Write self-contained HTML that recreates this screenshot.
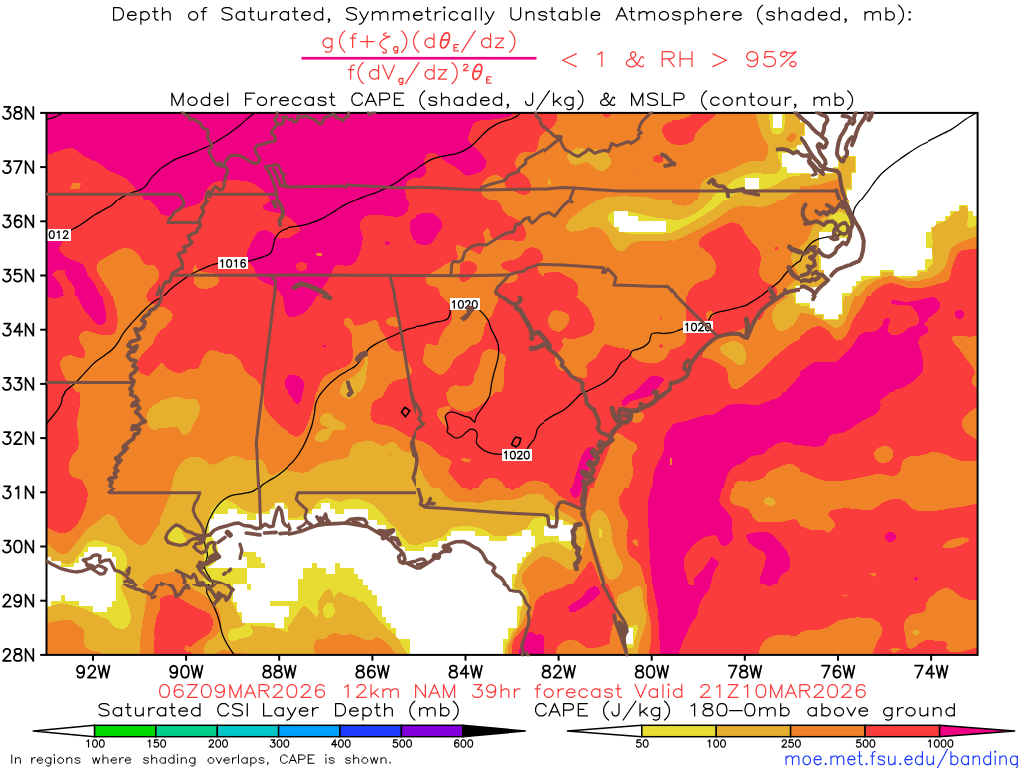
<!DOCTYPE html>
<html><head><meta charset="utf-8"><title>CSI / CAPE banding</title>
<style>html,body{margin:0;padding:0;background:#fff;width:1024px;height:768px;overflow:hidden;font-family:"Liberation Sans",sans-serif}</style></head>
<body>
<svg width="1024" height="768" viewBox="0 0 1024 768" style="position:absolute;left:0;top:0">
<defs><clipPath id="mc"><rect x="46.5" y="112.9" width="931.1" height="542.0"/></clipPath></defs>
<g clip-path="url(#mc)">
<rect x="40" y="100" width="950" height="570" fill="#fa3c3c"/>
<defs><clipPath id="t0"><rect x="32" y="104" width="128" height="96"/></clipPath><clipPath id="t1"><rect x="160" y="104" width="128" height="96"/></clipPath><clipPath id="t2"><rect x="288" y="104" width="128" height="96"/></clipPath><clipPath id="t3"><rect x="416" y="104" width="128" height="96"/></clipPath><clipPath id="t4"><rect x="544" y="104" width="128" height="96"/></clipPath><clipPath id="t5"><rect x="672" y="104" width="128" height="96"/></clipPath><clipPath id="t6"><rect x="800" y="104" width="128" height="96"/></clipPath><clipPath id="t7"><rect x="928" y="104" width="96" height="96"/></clipPath><clipPath id="t8"><rect x="32" y="200" width="128" height="96"/></clipPath><clipPath id="t9"><rect x="160" y="200" width="128" height="96"/></clipPath><clipPath id="t10"><rect x="288" y="200" width="128" height="96"/></clipPath><clipPath id="t11"><rect x="416" y="200" width="128" height="96"/></clipPath><clipPath id="t12"><rect x="544" y="200" width="128" height="96"/></clipPath><clipPath id="t13"><rect x="672" y="200" width="128" height="96"/></clipPath><clipPath id="t14"><rect x="800" y="200" width="128" height="96"/></clipPath><clipPath id="t15"><rect x="928" y="200" width="96" height="96"/></clipPath><clipPath id="t16"><rect x="32" y="296" width="128" height="96"/></clipPath><clipPath id="t17"><rect x="160" y="296" width="128" height="96"/></clipPath><clipPath id="t18"><rect x="288" y="296" width="128" height="96"/></clipPath><clipPath id="t19"><rect x="416" y="296" width="128" height="96"/></clipPath><clipPath id="t20"><rect x="544" y="296" width="128" height="96"/></clipPath><clipPath id="t21"><rect x="672" y="296" width="128" height="96"/></clipPath><clipPath id="t22"><rect x="800" y="296" width="128" height="96"/></clipPath><clipPath id="t23"><rect x="928" y="296" width="96" height="96"/></clipPath><clipPath id="t24"><rect x="32" y="392" width="128" height="96"/></clipPath><clipPath id="t25"><rect x="160" y="392" width="128" height="96"/></clipPath><clipPath id="t26"><rect x="288" y="392" width="128" height="96"/></clipPath><clipPath id="t27"><rect x="416" y="392" width="128" height="96"/></clipPath><clipPath id="t28"><rect x="544" y="392" width="128" height="96"/></clipPath><clipPath id="t29"><rect x="672" y="392" width="128" height="96"/></clipPath><clipPath id="t30"><rect x="800" y="392" width="128" height="96"/></clipPath><clipPath id="t31"><rect x="928" y="392" width="96" height="96"/></clipPath><clipPath id="t32"><rect x="32" y="488" width="128" height="96"/></clipPath><clipPath id="t33"><rect x="160" y="488" width="128" height="96"/></clipPath><clipPath id="t34"><rect x="288" y="488" width="128" height="96"/></clipPath><clipPath id="t35"><rect x="416" y="488" width="128" height="96"/></clipPath><clipPath id="t36"><rect x="544" y="488" width="128" height="96"/></clipPath><clipPath id="t37"><rect x="672" y="488" width="128" height="96"/></clipPath><clipPath id="t38"><rect x="800" y="488" width="128" height="96"/></clipPath><clipPath id="t39"><rect x="928" y="488" width="96" height="96"/></clipPath><clipPath id="t40"><rect x="32" y="584" width="128" height="96"/></clipPath><clipPath id="t41"><rect x="160" y="584" width="128" height="96"/></clipPath><clipPath id="t42"><rect x="288" y="584" width="128" height="96"/></clipPath><clipPath id="t43"><rect x="416" y="584" width="128" height="96"/></clipPath><clipPath id="t44"><rect x="544" y="584" width="128" height="96"/></clipPath><clipPath id="t45"><rect x="672" y="584" width="128" height="96"/></clipPath><clipPath id="t46"><rect x="800" y="584" width="128" height="96"/></clipPath><clipPath id="t47"><rect x="928" y="584" width="96" height="96"/></clipPath></defs>
<g clip-path="url(#t0)" shape-rendering="crispEdges">
<rect x="32" y="104" width="128" height="96" fill="#f00082"/>
<path fill="#fa3c3c" d="M39.5 155.2C41.2 155.2 42.4 155.6 44.5 155.2C46.6 154.9 49.3 154.2 52 153.4C54.7 152.5 57.8 151.1 60.8 150.2C63.7 149.4 67.2 148.2 69.5 148C71.8 147.8 72.4 147.9 74.5 149C76.6 150.1 79.5 153 82 154.6C84.5 156.3 87 157.8 89.5 159C92 160.2 94.9 161.1 97 162.1C99.1 163.2 100.1 163.9 102 165.2C103.9 166.6 105.8 168.8 108.2 170.2C110.8 171.7 114.3 172.8 117 174C119.7 175.2 122.2 176.3 124.5 177.8C126.8 179.2 128.9 180.9 130.8 182.8C132.6 184.6 134.1 186.9 135.8 189C137.4 191.1 139.3 193.4 140.8 195.2C142.2 197.1 143.2 198.3 144.5 200C145.8 201.7 147 203.5 148.2 205.2L39.5 205.2L39.5 155.2Z"/>
<path fill="#f08228" d="M72 183.4L81 183.4L79.2 188.8L70.1 188.8Z"/>
</g>
<g clip-path="url(#t1)" shape-rendering="crispEdges">
<rect x="160" y="104" width="128" height="96" fill="#f00082"/>
<path fill="#fa3c3c" d="M202.5 202.8C202.9 200.7 203.1 198.6 203.8 196.5C204.4 194.4 205.2 192.1 206.2 190.2C207.3 188.4 208.5 186.6 210 185.2C211.5 183.9 212.9 182.9 215 182.1C217.1 181.3 219.2 180.8 222.5 180.5C225.8 180.2 230.8 180.1 235 180.2C239.2 180.4 244.2 180.8 247.5 181.5C250.8 182.2 252.7 183.4 255 184.6C257.3 185.9 259.4 187.4 261.2 189C263.1 190.6 264.8 192.2 266.2 194C267.7 195.8 269.2 198.3 270 200C270.8 201.7 270.8 202.7 271.2 204L202.5 202.8Z"/>
</g>
<g clip-path="url(#t2)" shape-rendering="crispEdges">
<rect x="288" y="104" width="128" height="96" fill="#f00082"/>
<path fill="#fa3c3c" d="M418 177.8C415.9 178 413.5 177.8 411.8 178.4C410 179 408.4 180.1 407.4 181.5C406.3 182.9 405.8 184.6 405.5 186.5C405.2 188.4 405.3 190.5 405.5 192.8C405.7 195 406.3 198.1 406.8 200C407.2 201.9 407.6 202.7 408 204L418 204L418 177.8Z"/>
</g>
<g clip-path="url(#t3)" shape-rendering="crispEdges">
<rect x="416" y="104" width="128" height="96" fill="#fa3c3c"/>
<path fill="#f00082" d="M413.5 109L516 109C515.2 110.6 514.8 112.5 513.5 113.8C512.2 115 510.6 115.7 508.5 116.5C506.4 117.3 503.9 117.9 501 118.4C498.1 118.9 494.3 119.3 491 119.6C487.7 119.9 483.7 119.7 481 120.2C478.3 120.8 476.4 121.3 474.8 122.8C473.1 124.2 472 126.7 471 129C470 131.3 468.8 134.4 468.5 136.5C468.2 138.6 468.3 139.8 469.1 141.5C470 143.2 471.9 144.9 473.5 146.5C475.1 148.1 476.8 149.2 478.5 150.9C480.2 152.5 482.2 154.7 483.5 156.5C484.8 158.3 485.8 159.6 486 161.5C486.2 163.4 485.8 166 484.8 167.8C483.7 169.5 481.8 171 479.8 172.1C477.7 173.3 474.5 174.1 472.2 174.6C470 175.2 467.9 176 466 175.5C464.1 175 462.9 173 461 171.5C459.1 170 457 168 454.8 166.5C452.5 165 449.5 164.2 447.2 162.8C445 161.3 442.9 159.2 441 157.8C439.1 156.3 437.7 154.8 436 154C434.3 153.2 432.6 152.5 431 152.8C429.4 153 427.8 154 426.6 155.2C425.5 156.5 424.3 158.4 424.1 160.2C423.9 162.1 425.1 164.5 425.4 166.5C425.7 168.5 426.3 170.6 426 172.1C425.7 173.7 424.5 174.9 423.5 175.9C422.5 176.8 421 177.5 419.8 177.8C418.5 178 417 177.5 416 177.5C415 177.5 414.3 177.5 413.5 177.5L413.5 109Z"/>
<path fill="#f08228" d="M546 132.8C544.8 133.2 543.4 133 542.2 134C541.1 135 539.9 137.1 539.1 139C538.4 140.9 538.4 143.3 537.9 145.2C537.4 147.2 537.1 149.7 536 150.9C534.9 152.1 533.1 152.3 531 152.5C528.9 152.7 525.6 151.7 523.5 152.1C521.4 152.6 519.9 153.8 518.5 155.2C517.1 156.7 515.8 159 515.4 160.9C515 162.8 515.4 164.7 516 166.5C516.6 168.3 517.7 170 519.1 171.5C520.6 173 523.1 173.8 524.8 175.2C526.4 176.7 528.1 178.4 529.1 180.2C530.2 182.1 530.8 184.6 531 186.5C531.2 188.4 531 190.2 530.4 191.5C529.8 192.8 528.6 193.7 527.2 194.2C525.9 194.8 524.1 195 522.2 194.6C520.4 194.3 518.1 192.9 516 192.1C513.9 191.4 511.4 191.1 509.8 190.2C508.1 189.4 506.9 188.4 506 187.1C505.1 185.9 504.9 184.1 504.5 182.8C504.1 181.4 504.3 180.1 503.5 179C502.7 177.9 501.2 176.9 499.8 176.2C498.3 175.6 496.4 175 494.8 175C493.1 175 491.4 175.6 489.8 176.5C488.1 177.4 486 178.8 484.8 180.2C483.5 181.7 482.6 183.4 482 185.2C481.4 187.1 480.8 189.6 481 191.5C481.2 193.4 482 195.1 483.5 196.5C485 197.9 488.1 198.8 489.8 200C491.4 201.2 492.2 202.7 493.5 204L546 204L546 132.8Z"/>
</g>
<g clip-path="url(#t4)" shape-rendering="crispEdges">
<rect x="544" y="104" width="128" height="96" fill="#f08228"/>
<path fill="#fa3c3c" d="M541.5 110.2L557.8 110.2C557.5 112.8 557.4 115.7 557.1 117.8C556.8 119.8 556.6 121.2 555.9 122.8C555.1 124.3 553.9 126 552.8 127.1C551.6 128.3 550.2 128.8 549 129.6C547.8 130.5 546.5 131.5 545.2 132.1C544 132.8 542.8 133 541.5 133.4L541.5 110.2Z"/>
<path fill="#fa3c3c" d="M602.1 110.2L611.5 110.2C611.1 112.1 611.1 114.7 610.2 115.9C609.4 117.1 607.6 117.5 606.5 117.5C605.4 117.5 604.1 117.1 603.4 115.9C602.6 114.7 602.5 112.1 602.1 110.2Z"/>
<path fill="#fa3c3c" d="M674 121.5C672.3 121.7 670.7 121.5 669 122.1C667.3 122.8 665.1 123.9 664 125.2C662.9 126.6 662.2 128.6 662.1 130.2C662 131.9 662.6 133.7 663.4 135.2C664.1 136.8 665.4 138.4 666.5 139.6C667.6 140.9 669 141.8 670.2 142.8C671.5 143.7 672.8 144.4 674 145.2L674 121.5Z"/>
<path fill="#fa3c3c" d="M652.8 159C652.8 158 654.1 156.5 655.2 155.9C656.4 155.2 658.4 154.8 659.6 155C660.9 155.2 662.1 156.1 662.8 157.1C663.4 158.1 663.8 160 663.4 160.9C663 161.8 661.6 162.3 660.2 162.5C658.9 162.7 656.5 162.7 655.2 162.1C654 161.5 652.8 160 652.8 159Z"/>
<path fill="#fa3c3c" d="M636.8 172L637.8 172L637.8 173L636.8 173Z"/>
<path fill="#e6af2d" d="M567.1 156.5C567.1 154.8 568.3 153.4 569.6 152.1C571 150.8 573.3 149.4 575.2 148.8C577.2 148.1 579.6 147.9 581.5 148C583.4 148.1 584.8 149.2 586.5 149.6C588.2 150 589.8 150.6 591.5 150.5C593.2 150.4 594.6 149.2 596.5 149.2C598.4 149.3 600.9 150 602.8 150.9C604.6 151.8 606.4 153.1 607.8 154.6C609.1 156.2 610.6 158.4 610.9 160.2C611.2 162.1 610.5 164.3 609.6 165.9C608.8 167.4 607.4 168.8 605.9 169.6C604.3 170.5 602 171.1 600.2 170.9C598.5 170.7 596.8 169.4 595.2 168.4C593.7 167.3 592.3 165.7 590.9 164.6C589.4 163.6 588.3 162.2 586.5 162.1C584.7 162 582.3 163.6 580.2 164C578.2 164.4 575.8 164.9 574 164.6C572.2 164.3 570.8 163.5 569.6 162.1C568.5 160.8 567.1 158.2 567.1 156.5Z"/>
<path fill="#e6af2d" d="M548.4 179C548.7 178.3 549.8 179 550.2 179.6C550.7 180.2 551 181.9 550.9 182.8C550.8 183.6 550.1 184.8 549.6 185C549.2 185.2 548.3 185 548.1 184C547.9 183 548 179.7 548.4 179Z"/>
<path fill="#e6af2d" d="M599 202.8C600.2 201.3 600.7 199.4 602.8 198.4C604.8 197.4 607.1 197.1 611.5 196.8C615.9 196.4 623.6 196.4 629 196.5C634.4 196.6 639.8 196.7 644 197.1C648.2 197.5 651.9 198.1 654 199C656.1 199.9 655.7 201.5 656.5 202.8L599 202.8Z"/>
</g>
<g clip-path="url(#t5)" shape-rendering="crispEdges">
<rect x="672" y="104" width="128" height="96" fill="#f08228"/>
<path fill="#fa3c3c" d="M669.5 120.2C672.8 120 676.8 120 679.5 119.6C682.2 119.2 683.7 118.6 685.8 117.8C687.8 116.9 690.1 115.9 692 114.6C693.9 113.4 695.3 111.7 697 110.2L718.2 110.2C717 112.1 716 114.2 714.5 115.9C713 117.5 711.4 118.7 709.5 120.2C707.6 121.8 705.1 123.6 703.2 125.2C701.4 126.9 699.6 128.6 698.2 130.2C696.9 131.9 696 133.6 695.1 135.2C694.3 136.9 694.4 138.9 693.2 140.2C692.1 141.6 690.1 142.5 688.2 143.4C686.4 144.2 684.1 145 682 145.2C679.9 145.5 677.8 144.9 675.8 144.6C673.7 144.3 671.6 143.8 669.5 143.4L669.5 120.2Z"/>
<path fill="#e6af2d" d="M755.8 110.2C756 112.3 756 114.2 756.4 116.5C756.8 118.8 757.5 121.5 758.2 124C759 126.5 759.9 129.2 760.8 131.5C761.6 133.8 762.3 135.9 763.2 137.8C764.2 139.6 765.5 141.1 766.4 142.8C767.2 144.4 768 145.9 768.2 147.8C768.5 149.6 768 152.1 767.6 154C767.2 155.9 766.5 157.8 765.8 159C765 160.2 764.7 161.2 763.2 161.5C761.8 161.8 759.3 160.9 757 160.9C754.7 160.9 752 161 749.5 161.5C747 162 744.5 163 742 164C739.5 165 737 166.5 734.5 167.8C732 169 729.5 170.5 727 171.5C724.5 172.5 722 173.3 719.5 174C717 174.7 714.3 175 712 175.9C709.7 176.7 707.4 177.9 705.8 179C704.1 180.1 702.9 181.3 702 182.8C701.1 184.2 700.6 185.9 700.1 187.8C699.6 189.6 699.3 191.5 698.9 194C698.5 196.5 698 199.8 697.6 202.8L802 202.8L802 110.2L755.8 110.2Z"/>
<path fill="#f08228" d="M786.4 139.6C786.5 138.6 787.8 136.4 788.9 135.2C789.9 134.1 791.5 133.1 792.6 133C793.8 132.9 795.3 133.6 795.8 134.6C796.2 135.6 795.8 137.9 795.1 139C794.5 140.1 793.1 141.1 792 141.5C790.9 141.9 789.2 141.6 788.2 141.2C787.3 140.9 786.3 140.6 786.4 139.6Z"/>
<path fill="#f08228" d="M782 202.8C783.7 200.7 784.9 198.1 787 196.5C789.1 194.9 792 194.1 794.5 193.4C797 192.6 799.5 192.5 802 192.1L802 202.8L782 202.8Z"/>
<path fill="#e6dc32" d="M768.9 110.2C769.1 113.6 769.2 117.1 769.5 120.2C769.8 123.4 770.1 126.8 770.8 129C771.4 131.2 772 132.4 773.2 133.4C774.5 134.3 776.7 134.8 778.2 134.6C779.8 134.4 781.6 133.7 782.6 132.1C783.7 130.6 784.1 127.9 784.5 125.2C784.9 122.6 784.9 119 785.1 116.5C785.3 114 785.5 112.3 785.8 110.2L768.9 110.2Z"/>
<path fill="#e6dc32" d="M712 202.8C712.2 200.9 712 198.7 712.6 197.1C713.2 195.6 714.2 194.5 715.8 193.4C717.3 192.2 720.1 191.4 722 190.2C723.9 189.1 725.3 188 727 186.5C728.7 185 730.1 183 732 181.5C733.9 180 735.8 178.9 738.2 177.8C740.8 176.6 744.1 175.5 747 174.6C749.9 173.8 752.8 172.9 755.8 172.8C758.7 172.6 761.8 173.8 764.5 174C767.2 174.2 769.7 174.3 772 174C774.3 173.7 776.8 173.4 778.2 172.1C779.7 170.9 780.4 168.3 780.8 166.5C781.1 164.7 780.6 163.4 780.1 161.5C779.6 159.6 777.9 156.9 777.6 155.2C777.3 153.6 777.5 152.4 778.2 151.5C779 150.6 778 150.5 782 149.6C786 148.8 795.3 147.5 802 146.5L802 175.9C798.7 176.1 794.9 176 792 176.5C789.1 177 786.8 177.9 784.5 179C782.2 180.1 780.5 182 778.2 183.4C776 184.7 773.2 186.2 770.8 187.1C768.2 188.1 765.1 188.4 763.2 189C761.4 189.6 762.2 190.1 759.5 190.5C756.8 190.9 750.8 191 747 191.5C743.2 192 739.7 192.5 737 193.4C734.3 194.2 732.2 194.9 730.8 196.5C729.3 198.1 729.1 200.7 728.2 202.8L712 202.8Z"/>
<path fill="#ffffff" d="M772.6 114L782 114L782 128.4L772.6 128.4Z"/>
<path fill="#ffffff" d="M745.1 178L758.9 178L758.9 189L745.1 189Z"/>
<path fill="#ffffff" d="M797 145.2L802 145.2L802 172.8L787 172.8L787 166.5L782 166.5L782 152.8L797 152.8Z"/>
</g>
<g clip-path="url(#t6)" shape-rendering="crispEdges">
<rect x="800" y="104" width="128" height="96" fill="#ffffff"/>
<path fill="#e6dc32" d="M797.5 172.5L809.8 172.5L809.8 177.8L819 177.8L819 173L833.1 173L833.1 167.1L837.5 167.1L837.5 155.9L856.2 155.9L856.2 172.8L852.2 172.8L852.2 189.6L846.9 189.6L846.9 202.8L797.5 202.8Z"/>
<path fill="#e6af2d" d="M797.5 173.8L810.6 173.8L810.6 178.8L818.1 178.8L818.1 174L834.4 174L834.4 168L838.5 168L838.5 157.1L855 157.1L855 171.5L851.2 171.5L851.2 188.4L846 188.4L846 202.8L797.5 202.8Z"/>
<path fill="#e6dc32" d="M797.5 121.8L805.2 121.8L805.2 135.9L801.9 135.9L801.9 144.6L797.5 144.6Z"/>
<path fill="#e6af2d" d="M797.5 122.8L804.4 122.8L804.4 135L801 135L801 143.8L797.5 143.8Z"/>
<path fill="#f08228" d="M797.5 186.5C800.8 186.3 804.4 186.1 807.5 185.9C810.6 185.6 813.3 185.5 816.2 185C819.2 184.5 822.3 183.8 825 183C827.7 182.2 830.2 181.1 832.5 180.5C834.8 179.9 837.2 179 838.8 179.6C840.3 180.2 840.9 182.2 841.9 184C842.8 185.8 843.5 188.2 844.4 190.2C845.2 192.3 846.2 194.4 846.9 196.5C847.5 198.6 847.7 200.7 848.1 202.8L797.5 202.8L797.5 186.5Z"/>
</g>
<g clip-path="url(#t7)" shape-rendering="crispEdges">
<rect x="928" y="104" width="96" height="96" fill="#ffffff"/>
</g>
<g clip-path="url(#t8)" shape-rendering="crispEdges">
<rect x="32" y="200" width="128" height="96" fill="#fa3c3c"/>
<path fill="#f00082" d="M147 197.5C148.2 198.8 149.4 200 150.8 201.2C152.1 202.5 153.9 203.6 155.1 205C156.4 206.4 157.1 208.1 158.2 209.4C159.4 210.6 160.8 211.5 162 212.5L162 197.5L147 197.5Z"/>
<path fill="#f00082" d="M39.5 240L62.6 240C62.2 241 62 241.8 61.4 243.1C60.8 244.5 58.9 246.5 58.9 248.1C58.9 249.8 60.2 251.7 61.4 253.1C62.5 254.6 64 255.7 65.8 256.9C67.5 258 69.9 259.2 72 260C74.1 260.8 76.4 261 78.2 261.9C80.1 262.7 82 263.6 83.2 265C84.5 266.4 85 268.3 85.8 270C86.5 271.7 86.8 273.5 87.6 275C88.5 276.5 89.6 277.3 90.8 278.8C91.9 280.2 93.5 282.1 94.5 283.8C95.5 285.4 96.2 287.1 97 288.8C97.8 290.4 98.7 291.9 99.5 293.8C100.3 295.6 101.2 297.9 102 300L39.5 300L39.5 240Z"/>
<path fill="#fa3c3c" d="M52 275C52 274 53.8 272.1 55.1 271.2C56.5 270.4 58.5 270.2 60.1 270C61.8 269.8 64.2 269.4 65.1 270.2C66 271.1 65 273.5 65.5 275C66 276.5 67.2 277.9 68.2 279.4C69.3 280.8 71 282.2 72 283.8C73 285.3 74 286.9 74.5 288.8C75 290.6 74.9 293.1 75.1 295C75.3 296.9 75.5 298.3 75.8 300L63.9 300C63.7 297.5 63.6 294.6 63.2 292.5C62.9 290.4 62.7 289.2 62 287.5C61.3 285.8 60 284.2 58.9 282.5C57.7 280.8 56.3 278.8 55.1 277.5C54 276.2 52 276 52 275Z"/>
<path fill="#f08228" d="M96.4 268.1C96.2 265.8 96.9 264.2 98.2 262.5C99.6 260.8 102.2 259.6 104.5 258.1C106.8 256.7 109.5 255.2 112 253.8C114.5 252.3 117 250.3 119.5 249.4C122 248.4 124.5 247.9 127 248.1C129.5 248.3 132.4 249.3 134.5 250.6C136.6 252 138 254.3 139.5 256.2C141 258.2 142 261 143.2 262.5C144.5 264 145.3 264.5 147 265C148.7 265.5 151.5 264.6 153.2 265.2C155 265.9 156.6 267.1 157.6 268.8C158.7 270.4 159.6 272.9 159.5 275C159.4 277.1 158.2 279.4 157 281.2C155.8 283.1 153.5 284.6 152 286.2C150.5 287.9 149.2 289.6 148.2 291.2C147.3 292.9 146.8 294.8 146.4 296.2C146 297.7 146 298.8 145.8 300L113.2 300C112 297.1 111 294 109.5 291.2C108 288.5 106.2 286.2 104.5 283.8C102.8 281.2 100.9 278.9 99.5 276.2C98.1 273.6 96.6 270.4 96.4 268.1Z"/>
</g>
<g clip-path="url(#t9)" shape-rendering="crispEdges">
<rect x="160" y="200" width="128" height="96" fill="#fa3c3c"/>
<path fill="#f00082" d="M157.5 197.5L202.5 197.5C201.9 199 201.7 200.7 200.6 201.9C199.6 203 198 203.6 196.2 204.4C194.5 205.1 192.1 205.6 190 206.2C187.9 206.9 185.6 207.3 183.8 208.1C181.9 209 180.6 210.1 178.8 211.2C176.9 212.4 174.6 214.3 172.5 215C170.4 215.7 168.3 215.8 166.2 215.6C164.2 215.4 161.5 214.2 160 213.8C158.5 213.3 158.3 213.3 157.5 213.1L157.5 197.5Z"/>
<path fill="#f00082" d="M263.2 205.6C263.9 204.3 267.2 203.2 268.8 201.9C270.3 200.5 271.2 199 272.5 197.5L292.5 197.5L292.5 220.2C289.8 218.5 287.7 216.4 284.5 215C281.3 213.6 276.5 212.7 273.2 211.9C270 211 266.7 211 265 210C263.3 209 262.6 207 263.2 205.6Z"/>
<path fill="#f00082" d="M246.5 255.2C246.5 252.8 247.9 250.5 249 247.8C250.1 245 251.9 241.6 253.4 239C254.8 236.4 255.8 233.6 257.8 232.1C259.7 230.7 263.2 230.3 265.2 230.2C267.3 230.2 268.5 231.1 270 231.9C271.5 232.6 272.7 233.5 274 234.6C275.3 235.7 275.1 237.8 277.8 238.4C280.4 238.9 285.9 238.1 290 238L290 300L284.4 300C283.8 299.2 283.6 299.2 282.8 297.8C281.9 296.3 280.5 293.4 279 291.5C277.5 289.6 276.3 288 274 286.5C271.7 285 268 284.1 265.2 282.8C262.5 281.4 259.3 279.8 257.8 278.4C256.2 276.9 256.5 275.8 255.9 274C255.2 272.2 255.1 269.6 254 267.8C252.9 265.9 250.2 264.8 249 262.8C247.8 260.7 246.5 257.8 246.5 255.2Z"/>
<path fill="#f08228" d="M193.1 270C193.4 268.1 194.3 265.2 195 265C195.7 264.8 196.5 267.7 197.5 268.8C198.5 269.8 199.6 270.9 201.2 271.5C202.9 272.1 205.4 272.2 207.5 272.5C209.6 272.8 212.1 272.5 213.8 273.1C215.4 273.8 216.7 274.9 217.5 276.2C218.3 277.6 219.1 279.7 218.8 281.2C218.4 282.8 217.1 284.5 215.6 285.6C214.2 286.8 212.2 287.6 210 288.1C207.8 288.6 204.7 289 202.5 288.8C200.3 288.5 198.3 287.9 196.9 286.9C195.5 285.8 194.6 284.3 194 282.5C193.4 280.7 193.6 278.3 193.5 276.2C193.4 274.2 192.9 271.9 193.1 270Z"/>
</g>
<g clip-path="url(#t10)" shape-rendering="crispEdges">
<rect x="288" y="200" width="128" height="96" fill="#f00082"/>
<path fill="#fa3c3c" d="M418 197.5L408 197.5C408.2 199.6 408.6 201.7 408.6 203.8C408.6 205.8 408.7 208.2 408 210C407.3 211.8 405.9 213.2 404.2 214.4C402.6 215.5 400.3 216.6 398 216.9C395.7 217.2 393.4 216.6 390.5 216.2C387.6 215.9 384 215.2 380.5 215C377 214.8 372.2 214.7 369.2 215.2C366.3 215.8 364.6 216.8 363 218.1C361.4 219.4 360.4 221.5 359.9 223.1C359.4 224.8 359.5 226.1 359.9 228.1C360.3 230.1 362 232.8 362.4 235C362.8 237.2 362.7 238.8 362.4 241.2C362.1 243.8 361.2 247.3 360.5 250C359.8 252.7 359 255.3 358 257.5C357 259.7 355.9 261.8 354.2 263.1C352.6 264.5 350.3 265.3 348 265.6C345.7 266 342.6 265.2 340.5 265.2C338.4 265.2 336.8 265 335.5 265.6C334.2 266.2 333.7 267.3 333 268.8C332.3 270.2 332 272.5 331.1 274.4C330.3 276.2 329.1 278.2 328 280C326.9 281.8 325.4 283.3 324.2 285C323.1 286.7 322.1 288.1 321.1 290C320.2 291.9 319.1 294.6 318.6 296.2C318.1 297.9 318.2 298.8 318 300L418 300L418 197.5Z"/>
<path fill="#f00082" d="M418 218.1C416.3 218.3 414.4 218.1 413 218.8C411.6 219.4 410.4 220.4 409.9 221.9C409.4 223.3 409.7 225.5 409.9 227.5C410.1 229.5 410.6 231.9 411.1 233.8C411.6 235.6 411.9 237.2 413 238.8C414.1 240.3 416.3 241.7 418 243.1L418 218.1Z"/>
<path fill="#f00082" d="M384.9 241.2L389.9 241.9L389.5 244L386.8 245.6L385.2 243.8Z"/>
<path fill="#fa3c3c" d="M285.5 216.9C286.8 217.1 287.8 216.8 289.2 217.5C290.7 218.2 292.6 219.7 294.2 221.2C295.9 222.8 298.2 225.3 299.2 226.9C300.3 228.4 300.9 229.6 300.5 230.6C300.1 231.7 298 232.3 296.8 233.1C295.5 234 294.5 234.7 293 235.6C291.5 236.6 289.2 238.1 288 238.8C286.8 239.4 286.3 239.2 285.5 239.4L285.5 216.9Z"/>
<path fill="#fa3c3c" d="M296.1 265C296.4 264 297.5 263 298.6 262.5C299.8 262 301.5 261.9 303 262.1C304.5 262.4 306.8 263 307.4 264C308 265 307.3 267 306.8 268.1C306.2 269.2 305.5 270.2 304.2 270.6C303 271.1 300.5 271.2 299.2 270.9C298 270.5 297.3 269.5 296.8 268.5C296.2 267.5 295.8 266 296.1 265Z"/>
<path fill="#f08228" d="M316.1 253.1L321.8 253.1L321.8 255.6L316.8 255.6Z"/>
</g>
<g clip-path="url(#t11)" shape-rendering="crispEdges">
<rect x="416" y="200" width="128" height="96" fill="#fa3c3c"/>
<path fill="#f00082" d="M413.5 216.2C415.6 215.4 417.7 214.3 419.8 213.8C421.8 213.2 423.9 212.9 426 212.8C428.1 212.6 430.3 212.4 432.2 213.1C434.2 213.8 436.3 215.4 437.9 216.9C439.4 218.3 440.9 220.2 441.6 221.9C442.4 223.5 442.8 225.1 442.2 226.9C441.7 228.6 439.8 230.5 438.5 232.5C437.2 234.5 435.9 237 434.8 238.8C433.6 240.5 433.1 242.1 431.6 243.1C430.2 244.1 428 244.5 426 244.8C424 245 421.8 244.8 419.8 244.4C417.7 244 415.6 243.1 413.5 242.5L413.5 216.2Z"/>
<path fill="#f08228" d="M494.8 197.5C496.8 200 499.5 202.7 501 205C502.5 207.3 502.2 209.5 503.5 211.2C504.8 213 506.4 214.4 508.5 215.6C510.6 216.9 513.8 217.6 516 218.8C518.2 219.9 520.2 220.8 521.6 222.5C523.1 224.2 524 226.7 524.8 228.8C525.5 230.8 526.1 233.2 526 235C525.9 236.8 525 238.4 524.1 239.4C523.3 240.4 523.2 240.9 521 241C518.8 241.1 514.3 240.5 511 240.2C507.7 240 503.9 240 501 239.8C498.1 239.5 495.3 239.3 493.5 238.8C491.7 238.2 491 237.5 490.4 236.2C489.8 235 490.2 232.6 489.8 231.2C489.3 229.9 488.5 227.9 487.5 228.1C486.5 228.3 484.1 230.9 483.5 232.5C482.9 234.1 483.8 235.9 484.1 237.5C484.4 239.1 485.5 240.1 485.4 241.9C485.3 243.6 484.4 246 483.5 248.1C482.6 250.2 481.2 253.8 479.8 254.4C478.3 255 476.4 252.7 474.8 251.9C473.1 251 471.6 250.2 469.8 249.4C467.9 248.5 465.8 247.6 463.5 246.9C461.2 246.1 457.1 244.3 456 245C454.9 245.7 456.3 249.2 456.6 251.2C456.9 253.3 458 256 457.9 257.5C457.8 259 456.9 259.4 456 260C455.1 260.6 453.7 260.7 452.2 261.2C450.8 261.8 449.1 262.1 447.2 263.1C445.4 264.2 443.1 266.1 441 267.5C438.9 268.9 436.8 270 434.8 271.2C432.7 272.5 430.1 273.6 428.5 275C426.9 276.4 425.6 277.9 425.4 279.4C425.2 280.8 426.1 282.6 427.2 283.8C428.4 284.9 430.6 285.6 432.2 286.2C433.9 286.9 436 286.5 437.2 287.5C438.5 288.5 439.2 290.4 439.8 292.5C440.3 294.6 440.2 297.5 440.4 300L546 300L546 197.5L494.8 197.5Z"/>
<path fill="#fa3c3c" d="M459.8 265C460.4 263.4 461.8 262.5 463.5 261.9C465.2 261.2 467.8 260.9 469.8 261.2C471.7 261.6 474.1 262.6 475.4 263.8C476.6 264.9 477.4 266.6 477.2 268.1C477.1 269.7 475.8 271.6 474.8 273.1C473.7 274.7 472.5 276.1 471 277.5C469.5 278.9 467.7 280.6 466 281.2C464.3 281.9 462.1 281.9 461 281.2C459.9 280.6 459.3 279.2 459.1 277.5C458.9 275.8 459.6 273.3 459.8 271.2C459.9 269.2 459.1 266.6 459.8 265Z"/>
<path fill="#fa3c3c" d="M501 265C501 263.9 501.8 262.7 503.5 261.9C505.2 261 508.5 260.6 511 260C513.5 259.4 516.6 259.2 518.5 258.1C520.4 257.1 521 255.2 522.2 253.8C523.5 252.3 524.3 250.5 526 249.4C527.7 248.3 530.2 247.2 532.2 247.2C534.3 247.2 536.8 248.3 538.5 249.4C540.2 250.5 541.5 252.1 542.2 253.8C543 255.4 543.4 257.7 542.9 259.4C542.4 261 540 262.3 539.1 263.8C538.3 265.2 537.8 266.5 537.9 268.1C538 269.8 538.4 272.2 539.8 273.8C541.1 275.3 543.9 276.2 546 277.5L546 300L496 300C495.8 297.5 495.1 294.6 495.4 292.5C495.7 290.4 496.7 289 497.9 287.5C499 286 500.5 284.5 502.2 283.8C504 283 506.4 283.5 508.5 283.1C510.6 282.7 513.2 282.2 514.8 281.2C516.3 280.3 517.5 278.6 517.9 277.5C518.3 276.4 518 275.1 517.2 274.4C516.5 273.6 515 273.6 513.5 273.1C512 272.6 510.2 272 508.5 271.2C506.8 270.5 504.8 269.8 503.5 268.8C502.2 267.7 501 266.1 501 265Z"/>
</g>
<g clip-path="url(#t12)" shape-rendering="crispEdges">
<rect x="544" y="200" width="128" height="96" fill="#f08228"/>
<path fill="#e6af2d" d="M599 197.5C597.3 199 596.1 200.4 594 201.9C591.9 203.3 589 204.6 586.5 206.2C584 207.9 581.5 209.9 579 211.9C576.5 213.9 573.6 216 571.5 218.1C569.4 220.2 567.4 222.7 566.5 224.4C565.6 226 565.5 227 565.9 228.1C566.3 229.3 567.2 230.7 569 231.2C570.8 231.8 574 231.5 576.5 231.2C579 231 581.7 230.6 584 230C586.3 229.4 588.2 228 590.2 227.5C592.3 227 594.6 226.6 596.5 226.9C598.4 227.2 599.8 228.1 601.5 229.4C603.2 230.6 605 232.6 606.5 234.4C608 236.1 609.1 238 610.2 240C611.4 242 612.3 244.6 613.4 246.2C614.4 247.9 615.1 249.1 616.5 250C617.9 250.9 620 251.6 621.5 251.5C623 251.4 624 250.5 625.2 249.4C626.5 248.3 627.5 246.1 629 245C630.5 243.9 631.9 243.1 634 242.5C636.1 241.9 638.6 241.5 641.5 241.2C644.4 241 648.2 241 651.5 241C654.8 241 657.8 241.2 661.5 241C665.2 240.8 669.8 240.3 674 240L674 197.5L599 197.5Z"/>
<path fill="#e6dc32" d="M607.8 217.5C607.9 216.4 608 214.8 609 213.8C610 212.7 611.9 211.5 614 211C616.1 210.5 619 210.5 621.5 210.6C624 210.7 626.5 211.1 629 211.5C631.5 211.9 633.6 212.4 636.5 213.1C639.4 213.8 643.2 214.9 646.5 215.6C649.8 216.4 653.2 217 656.5 217.5C659.8 218 663.6 218.4 666.5 218.8C669.4 219.1 671.5 219.2 674 219.4L674 233.1C670.7 233.2 667.8 233.4 664 233.5C660.2 233.6 655.7 233.5 651.5 233.5C647.3 233.5 642.8 233.8 639 233.8C635.2 233.8 632.1 233.8 629 233.5C625.9 233.2 622.5 232.8 620.2 231.9C618 231 616.8 229.5 615.2 228.1C613.7 226.8 612 225 610.9 223.8C609.7 222.5 608.9 221.7 608.4 220.6C607.9 219.6 607.6 218.6 607.8 217.5Z"/>
<path fill="#ffffff" d="M614 211.2L628 211.2L628 215.6L638 215.6L638 221L665.9 221L665.9 231.9L619 231.9L619 226.9L614 226.9Z"/>
<path fill="#fa3c3c" d="M541.5 273.8C544 273.3 546.5 272.8 549 272.5C551.5 272.2 554.2 271.7 556.5 271.9C558.8 272.1 560.7 272.8 562.8 273.8C564.8 274.7 566.9 276.2 569 277.5C571.1 278.8 573.8 279.8 575.2 281.2C576.7 282.7 577.3 284.4 577.8 286.2C578.2 288.1 577.9 290.2 577.8 292.5C577.6 294.8 577.1 297.5 576.8 300L541.5 300L541.5 273.8Z"/>
</g>
<g clip-path="url(#t13)" shape-rendering="crispEdges">
<rect x="672" y="200" width="128" height="96" fill="#f08228"/>
<path fill="#e6af2d" d="M669.5 197.5L779.5 197.5C778.7 198.8 778.7 200 777 201.2C775.3 202.5 772.4 204.1 769.5 205C766.6 205.9 762.4 206.7 759.5 206.9C756.6 207.1 754.5 206.5 752 206.2C749.5 206 747.2 205.5 744.5 205.6C741.8 205.7 738.5 206 735.8 206.9C733 207.7 730.8 209.1 728.2 210.6C725.8 212.2 723.2 214.5 720.8 216.2C718.2 218 716.2 219.5 713.2 221.2C710.3 223 706.6 225.1 703.2 226.9C699.9 228.6 696.6 230.2 693.2 231.9C689.9 233.5 686.2 235.5 683.2 236.9C680.3 238.2 678 239.3 675.8 240C673.5 240.7 671.6 240.8 669.5 241.2L669.5 197.5Z"/>
<path fill="#f08228" d="M669.5 197.5L696.4 197.5C695.3 199.2 694.6 201.2 693.2 202.5C691.9 203.8 690.1 204.5 688.2 205C686.4 205.5 684.1 205.7 682 205.6C679.9 205.5 677.8 204.9 675.8 204.4C673.7 203.9 671.6 203.1 669.5 202.5L669.5 197.5Z"/>
<path fill="#e6dc32" d="M724.5 197.5C723.7 199 723.2 200.4 722 201.9C720.8 203.3 719.1 204.7 717 206.2C714.9 207.8 712 209.6 709.5 211.2C707 212.9 704.5 214.7 702 216.2C699.5 217.8 697 219.2 694.5 220.6C692 222.1 689.5 223.6 687 225C684.5 226.4 682 227.6 679.5 228.8C677 229.9 673.7 231.2 672 231.9C670.3 232.5 670.3 232.3 669.5 232.5L669.5 218.8C671.6 219.2 673.5 220 675.8 220C678 220 680.8 219.5 683.2 218.8C685.8 218 688.2 216.9 690.8 215.6C693.2 214.4 696 212.8 698.2 211.2C700.5 209.7 702.6 207.9 704.5 206.2C706.4 204.6 708.2 202.7 709.5 201.2C710.8 199.8 711.2 198.8 712 197.5L724.5 197.5Z"/>
<path fill="#fa3c3c" d="M698.9 242.5C699.2 241.1 699.8 239.1 701.4 237.5C702.9 235.9 705.9 234.5 708.2 233.1C710.6 231.8 713 230.7 715.8 229.4C718.5 228 721.9 226.1 724.5 225C727.1 223.9 729.1 222.7 731.4 222.5C733.7 222.3 736.4 222.8 738.2 223.8C740.1 224.7 741.4 226.4 742.6 228.1C743.9 229.9 744.5 232.4 745.8 234.4C747 236.4 748.5 238 750.1 240C751.8 242 754.2 244.4 755.8 246.2C757.3 248.1 758.7 249.4 759.5 251.2C760.3 253.1 760.6 255.2 760.8 257.5C760.9 259.8 760.4 262.7 760.1 265C759.8 267.3 758.8 269.2 758.9 271.2C759 273.3 759.6 275.6 760.8 277.5C761.9 279.4 763.9 281.2 765.8 282.5C767.6 283.8 770.3 284.2 772 285C773.7 285.8 774.9 286.2 775.8 287.5C776.6 288.8 776.9 290.4 777 292.5C777.1 294.6 776.6 297.5 776.4 300L687 300C687.4 297.5 687.2 294.8 688.2 292.5C689.3 290.2 691.4 288 693.2 286.2C695.1 284.5 697 283 699.5 281.9C702 280.7 705.9 280.5 708.2 279.4C710.6 278.2 712.6 276.8 713.9 275C715.1 273.2 715.5 270.8 715.8 268.8C716 266.7 715.8 264.5 715.1 262.5C714.5 260.5 713.4 258.6 712 256.9C710.6 255.1 708.7 253.3 707 251.9C705.3 250.4 703.2 249.2 702 248.1C700.8 247.1 700 246.6 699.5 245.6C699 244.7 698.6 243.9 698.9 242.5Z"/>
<path fill="#fa3c3c" d="M775.1 247.2L778 247.2L778 249.8L775.1 249.8Z"/>
<path fill="#e6af2d" d="M802 249.4C800.3 249.6 798.6 249.6 797 250C795.4 250.4 793.6 250.8 792.6 251.9C791.7 252.9 791.5 254.9 791.4 256.2C791.2 257.6 791.3 258.5 791.6 260C792 261.5 792.4 263.1 793.5 265.5C794.6 267.9 798.3 271.8 798.5 274.2C798.7 276.8 796.2 278.8 794.8 280.5C793.3 282.2 791.2 282.8 789.8 284.2C788.3 285.7 787 287.4 786 289.2C785 291.1 784.1 293.7 783.5 295.5C782.9 297.3 782.9 298.5 782.6 300L802 300L802 249.4Z"/>
<path fill="#e6dc32" d="M793.5 288.1C793.9 285.6 794.3 285.6 795.8 285C797.2 284.4 799.9 284.6 802 284.4L802 300L793.5 300C793.5 296 793.1 290.6 793.5 288.1Z"/>
<path fill="#ffffff" d="M796 286.1L802 286.1L802 300L796 300Z"/>
</g>
<g clip-path="url(#t14)" shape-rendering="crispEdges">
<rect x="800" y="200" width="128" height="96" fill="#ffffff"/>
<path fill="#e6af2d" d="M797.5 197.5L848.1 197.5C848.8 200.8 849.4 204.4 850 207.5C850.6 210.6 851.6 211.2 851.9 216.2C852.2 221.2 851.9 230.4 851.9 237.5L818.8 237.5L818.8 256.2L819.4 270L823.8 270L823.8 275L826.9 280C824.2 282.1 821.1 285 818.8 286.2C816.4 287.5 814.8 287.4 812.5 287.5C810.2 287.6 807.5 287.1 805 286.9C802.5 286.6 800 286.4 797.5 286.1L797.5 197.5Z"/>
<path fill="#f08228" d="M797.5 197.5L841.2 197.5C840.4 200 839.8 202.9 838.8 205C837.7 207.1 836.5 208.5 835 210C833.5 211.5 831.9 212.6 830 213.8C828.1 214.9 825.8 215.6 823.8 216.9C821.7 218.1 819.4 219.5 817.5 221.2C815.6 223 813.8 225.3 812.5 227.5C811.2 229.7 810.9 232.3 810 234.4C809.1 236.5 807.9 238.4 806.9 240C805.8 241.6 804.9 242.9 803.8 244C802.6 245.1 801 246 800 246.5C799 247 798.3 247 797.5 247.2L797.5 197.5Z"/>
<path fill="#e6dc32" d="M831.2 215.6C832.9 214.4 835.4 212.9 837.5 212.5C839.6 212.1 841.8 212.3 843.8 213.1C845.7 214 848 215.5 849.4 217.5C850.7 219.5 851.5 221.7 851.9 225C852.3 228.3 851.9 233.3 851.9 237.5L818.8 237.5L818.8 231.9C819.8 231 820.8 230.5 821.9 229.4C822.9 228.2 824.1 226.6 825 225C825.9 223.4 826.5 221.6 827.5 220C828.5 218.4 829.6 216.9 831.2 215.6Z"/>
<path fill="#e6dc32" d="M818.8 256.2L820.6 256.2L820.6 270L818.8 270Z"/>
<path fill="#ffffff" d="M818.8 232.2L831.9 232.2L831.9 236.5L840 236.5L840 238.1L818.8 238.1Z"/>
<path fill="#e6dc32" d="M841.9 300L841.9 292.5L851.9 292.5L851.9 286.2L856.2 286.2L856.2 281.2L861.2 281.2L861.2 276.2L880 276.2L880 270.2L893.8 270.2L893.8 276.2L916.9 276.2L916.9 270.2L925 270.2L925 258.8L930 258.8L930 300Z"/>
<path fill="#e6dc32" d="M925.6 231.9L930 231.9L930 248.1L925.6 248.1Z"/>
<path fill="#e6af2d" d="M846.2 300C847.5 298.3 848.5 296.9 850 295C851.5 293.1 853.3 290.6 855 288.8C856.7 286.9 858.3 285.2 860 283.8C861.7 282.3 862.9 280.9 865 280C867.1 279.1 870 278.7 872.5 278.1C875 277.5 878.5 277.5 880 276.5C881.5 275.5 880.8 273.4 881.2 271.9L892.5 271.9C893.3 273.3 893.3 275.2 895 276.2C896.7 277.3 899.6 277.9 902.5 278.1C905.4 278.3 910 278 912.5 277.5C915 277 916.2 275.8 917.5 275C918.8 274.2 918.5 273 920 272.5C921.5 272 924.6 272.3 926.2 271.9C927.9 271.5 928.8 270.6 930 270L930 300L846.2 300Z"/>
<path fill="#f08228" d="M856.9 300C858.3 297.9 859.7 295.8 861.2 293.8C862.8 291.7 864.4 289.4 866.2 287.5C868.1 285.6 870.2 284 872.5 282.5C874.8 281 877.5 279.8 880 278.8C882.5 277.8 885 276.8 887.5 276.5C890 276.2 892.7 276.4 895 276.9C897.3 277.4 899 278.6 901.2 279.4C903.5 280.1 906.2 280.9 908.8 281.2C911.2 281.6 913.8 281.6 916.2 281.2C918.8 280.9 921.5 280 923.8 279.4C926 278.8 927.9 278.1 930 277.5L930 300L856.9 300Z"/>
<path fill="#fa3c3c" d="M868.1 300C869.6 297.5 870.7 294.6 872.5 292.5C874.3 290.4 876.5 288.9 878.8 287.5C881 286.1 884 284.7 886.2 284C888.5 283.3 890.2 283 892.5 283.1C894.8 283.3 897.5 284.3 900 285C902.5 285.7 904.8 287 907.5 287.5C910.2 288 913.5 288.1 916.2 288.1C919 288.1 921.5 287.8 923.8 287.5C926 287.2 927.9 286.7 930 286.2L930 300L868.1 300Z"/>
</g>
<g clip-path="url(#t15)" shape-rendering="crispEdges">
<rect x="928" y="200" width="96" height="96" fill="#ffffff"/>
<path fill="#e6dc32" d="M893.5 276.2L917 276.2L917 270.2L926 270.2L926 258.8L931.6 258.8L931.6 248.1L926 248.1L926 231.9L931.2 231.9L931.2 226.9L936 226.9L936 221L945 221L945 216L950 216L950 211L959.1 211L959.1 205L967.9 205L967.9 211L972.9 211L972.9 216L979.8 216L979.8 300L893.5 300Z"/>
<path fill="#e6af2d" d="M893.5 276.5C898.5 276.5 904.6 276.5 908.5 276.5C912.4 276.5 914.9 276.7 917 276.2C919.1 275.8 919.3 274.9 921 273.8C922.7 272.6 925.5 270.8 927.2 269.4C929 267.9 930.6 266.8 931.6 265C932.7 263.2 933.4 260.8 933.5 258.8C933.6 256.7 932.6 254.3 932.2 252.5C931.9 250.7 931.4 249.7 931.6 248.1C931.8 246.6 933.4 244.9 933.5 243.1C933.6 241.4 932.6 239.5 932.2 237.5C931.9 235.5 931.4 233 931.6 231.2C931.8 229.5 932.4 228.1 933.5 226.9C934.6 225.6 936.6 224.7 938.5 223.8C940.4 222.8 943.1 222.2 945 221C946.9 219.8 948.4 217.8 950 216.2C951.6 214.7 953.2 212.8 954.8 211.9C956.3 211 958.2 211.8 959.1 211C960.1 210.2 959.5 207.8 960.4 206.9C961.2 206 962.9 205.5 964.1 205.6C965.3 205.7 966.8 206.4 967.5 207.5C968.2 208.6 968.2 210.6 968.2 212.5C968.3 214.4 968 216.7 967.9 218.8C967.7 220.8 966.9 223.4 967.2 225C967.6 226.6 968.7 227.8 969.8 228.1C970.8 228.4 971.8 227.7 973.5 226.9C975.2 226 977.7 224.4 979.8 223.1L979.8 300L893.5 300L893.5 276.5Z"/>
<path fill="#f08228" d="M893.5 278.1C896 278.8 898.5 279.5 901 280C903.5 280.5 905.6 281 908.5 281.2C911.4 281.5 915.6 281.5 918.5 281.2C921.4 281 923.7 280.7 926 280C928.3 279.3 930.2 277.9 932.2 276.9C934.3 275.8 936.5 275.2 938.5 273.8C940.5 272.3 942.7 270.2 944.1 268.1C945.6 266 946.4 263.9 947.2 261.2C948.1 258.6 948.3 254.8 949.1 252.5C950 250.2 950.7 249.1 952.2 247.5C953.8 245.9 956.2 244.4 958.5 243.1C960.8 241.9 963.5 240.9 966 240C968.5 239.1 971.2 238.4 973.5 237.5C975.8 236.6 977.7 235.7 979.8 234.8L979.8 300L893.5 300L893.5 278.1Z"/>
<path fill="#fa3c3c" d="M893.5 283.8C896.8 284.4 900 285 903.5 285.6C907 286.2 911 287.2 914.8 287.5C918.5 287.8 922.9 287.9 926 287.5C929.1 287.1 931 285.7 933.5 285C936 284.3 938.7 283.8 941 283.1C943.3 282.5 945.7 282.4 947.2 281.2C948.8 280.1 949.6 278.3 950.4 276.2C951.1 274.2 950.9 271.5 951.6 268.8C952.4 266 953.6 262.6 954.8 260C955.9 257.4 957 254.8 958.5 253.1C960 251.5 961.4 250.6 963.5 250C965.6 249.4 968.3 249.7 971 249.4C973.7 249.1 976.8 248.5 979.8 248.1L979.8 300L893.5 300L893.5 283.8Z"/>
</g>
<g clip-path="url(#t16)" shape-rendering="crispEdges">
<rect x="32" y="296" width="128" height="96" fill="#fa3c3c"/>
<path fill="#f00082" d="M45.8 293.5L63.2 293.5C62.2 294.8 61.4 296.4 60.1 297.2C58.9 298.1 57.3 298.4 55.8 298.5C54.2 298.6 52.2 298.3 50.8 297.9C49.3 297.5 47.8 296.7 47 296C46.2 295.3 46.2 294.3 45.8 293.5Z"/>
<path fill="#f00082" d="M75.8 293.5L102 293.5C102.4 296 102.7 298.5 103.2 301C103.8 303.5 104.6 305.8 105.1 308.5C105.6 311.2 106.5 314.9 106.4 317.2C106.3 319.6 105.5 321.6 104.5 322.9C103.5 324.2 101.7 325 100.1 325C98.6 325 96.7 324.2 95.1 322.9C93.6 321.6 92.3 319 90.8 317.2C89.2 315.5 87.2 314.1 85.8 312.2C84.3 310.4 83.1 308.1 82 306C80.9 303.9 79.9 301.8 78.9 299.8C77.8 297.7 76.8 295.6 75.8 293.5Z"/>
<path fill="#f08228" d="M112 293.5C112.6 296 113.1 298.3 113.9 301C114.6 303.7 115.8 306.8 116.4 309.8C117 312.7 117.5 315.6 117.6 318.5C117.7 321.4 117.5 324.9 117 327.2C116.5 329.6 115.8 331.5 114.5 332.9C113.2 334.2 111.4 335 109.5 335.4C107.6 335.7 105.5 335.3 103.2 335C101 334.7 98.2 334.1 95.8 333.5C93.2 332.9 90.5 331.5 88.2 331.2C86 331 83.5 331.4 82 332.2C80.5 333.1 79.6 335 79.2 336.6C78.9 338.3 79.5 340.5 80.1 342.2C80.8 344 82.4 345.6 83.2 347.2C84.1 348.9 84.9 350.6 85.1 352.2C85.3 353.9 85.4 356.3 84.5 357.2C83.6 358.2 81.6 358.2 79.5 357.9C77.4 357.6 74.3 355.7 72 355.4C69.7 355.1 67.5 355.3 65.8 356C64 356.7 62.3 358.3 61.4 359.8C60.4 361.2 60 362.9 60.1 364.8C60.2 366.6 61.3 368.9 62 371C62.7 373.1 63.2 375.2 64.5 377.2C65.8 379.3 67.8 381.5 69.5 383.5C71.2 385.5 73 387 74.5 389.1C76 391.2 77 393.7 78.2 396L162 396L162 293.5L112 293.5Z"/>
<path fill="#fa3c3c" d="M162 331C160.8 331.8 159.5 332.1 158.2 333.5C157 334.9 155.5 337.2 154.5 339.1C153.5 341 153.2 343 152 344.8C150.8 346.5 148.7 348.1 147 349.8C145.3 351.4 143.5 352.9 142 354.8C140.5 356.6 139.1 358.9 138.2 361C137.4 363.1 136.8 365.4 137 367.2C137.2 369.1 138.2 371 139.5 372.2C140.8 373.5 142.8 374.2 144.5 374.8C146.2 375.3 148 376 149.5 375.4C151 374.8 152 372.4 153.2 371C154.5 369.6 155.5 368.5 157 367.2C158.5 366 160.3 364.8 162 363.5L162 331Z"/>
<path fill="#fa3c3c" d="M145.8 293.5C146.4 295.6 146.6 298.1 147.6 299.8C148.7 301.4 150.4 302.7 152 303.5C153.6 304.3 155.3 304.6 157 304.8C158.7 304.9 160.3 304.3 162 304.1L162 293.5L145.8 293.5Z"/>
</g>
<g clip-path="url(#t17)" shape-rendering="crispEdges">
<rect x="160" y="296" width="128" height="96" fill="#fa3c3c"/>
<path fill="#f08228" d="M157.5 306.6C159.6 306.8 161.9 306.7 163.8 307.2C165.6 307.8 167.3 308.6 168.8 309.8C170.2 310.9 172 312.6 172.5 314.1C173 315.7 172.5 317.7 171.9 319.1C171.2 320.6 169.9 321.5 168.8 322.9C167.6 324.2 166.5 325.9 165 327.2C163.5 328.6 161.2 330 160 330.8C158.8 331.5 158.3 331.3 157.5 331.6L157.5 306.6Z"/>
<path fill="#f08228" d="M157.5 362.9C159.4 363.1 161.7 362.7 163.1 363.5C164.6 364.3 164.9 366.7 166.2 367.9C167.6 369 169.6 369.6 171.2 370.4C172.9 371.1 174.2 372.2 176.2 372.5C178.3 372.8 182.1 372.7 183.8 372.2C185.4 371.8 184.8 370.3 186.2 369.8C187.7 369.2 190.5 369 192.5 368.8C194.5 368.5 196.8 369.1 198.1 368.2C199.5 367.4 199.8 365.3 200.6 363.5C201.5 361.7 202.1 359.1 203.1 357.2C204.2 355.4 205.5 353.5 206.9 352.2C208.2 351 209.7 350.2 211.2 350C212.8 349.8 214.2 350.2 216.2 350.8C218.3 351.3 221.5 353 223.8 353.5C226 354 227.9 353.1 230 353.8C232.1 354.4 234.4 355.8 236.2 357.2C238.1 358.7 240 360.4 241.2 362.2C242.5 364.1 242.5 366.4 243.8 368.5C245 370.6 246.9 373.1 248.8 374.8C250.6 376.4 253.3 377.1 255 378.5C256.7 379.9 257.6 381.3 258.8 382.9C259.9 384.4 261.1 385.7 261.9 387.9C262.6 390.1 262.7 393.3 263.1 396L157.5 396L157.5 362.9Z"/>
<path fill="#f00082" d="M281.9 293.5C282.5 296 283.2 298.3 283.8 301C284.3 303.7 284.5 307.5 285 309.8C285.5 312 286 313.5 286.9 314.8C287.7 316 289 316.4 290 317.2L290 293.5L281.9 293.5Z"/>
<path fill="#f00082" d="M290 376C288.8 376.8 287.1 377.2 286.2 378.5C285.4 379.8 285 381.8 285 383.5C285 385.2 285.4 387 286.2 388.5C287.1 390 288.8 391 290 392.2L290 376Z"/>
</g>
<g clip-path="url(#t18)" shape-rendering="crispEdges">
<rect x="288" y="296" width="128" height="96" fill="#fa3c3c"/>
<path fill="#f00082" d="M285.5 293.5L317.4 293.5C316.5 295.6 316 297.7 314.9 299.8C313.7 301.8 312.1 304 310.5 306C308.9 308 307.2 310.2 305.5 311.6C303.8 313.1 302.4 313.9 300.5 314.8C298.6 315.6 296.3 316.2 294.2 316.6C292.2 317 289.5 316.9 288 317C286.5 317.1 286.3 317 285.5 317L285.5 293.5Z"/>
<path fill="#f00082" d="M285.5 376C287.6 375.7 289.7 375 291.8 375C293.8 375 296.2 375.2 298 376C299.8 376.8 301.4 378.3 302.4 379.8C303.4 381.2 303.9 382.9 304 384.8C304.1 386.6 303.5 389.1 303.2 391C303 392.9 302.7 394.3 302.4 396L285.5 396L285.5 376Z"/>
<path fill="#f00082" d="M323 345L326.1 345L326.1 346.9L323 346.9Z"/>
<path fill="#f08228" d="M343.6 321C343.7 319.9 344.5 319 345.5 318.5C346.5 318 348.7 317.7 349.9 318.2C351 318.8 351.5 320.4 352.4 321.6C353.2 322.8 353.5 324.8 354.9 325.4C356.2 325.9 358.5 325.4 360.5 325C362.5 324.6 364.7 323.6 366.8 322.9C368.8 322.1 371.2 320.7 373 320.4C374.8 320.1 376.4 320.1 377.4 321C378.4 321.9 378.4 324.3 379 326C379.6 327.7 380.1 329.4 381.1 331C382.1 332.6 383.9 333.7 384.9 335.4C385.8 337 386 339.2 386.8 341C387.5 342.8 388.2 344.5 389.2 346C390.3 347.5 391.5 348.8 393 349.8C394.5 350.7 396.4 351.4 398 351.6C399.6 351.8 401.1 350.3 402.4 351C403.6 351.7 404.6 354.1 405.5 356C406.4 357.9 407.1 360.3 408 362.2C408.9 364.2 410.5 366.1 411.1 367.9C411.8 369.6 412.3 371.3 411.8 372.9C411.2 374.4 409.9 376.2 408 377.2C406.1 378.3 402.8 378.5 400.5 379.1C398.2 379.8 396.1 380.1 394.2 381C392.4 381.9 390.6 383.3 389.2 384.8C387.9 386.2 387 387.9 386.1 389.8C385.3 391.6 384.9 393.9 384.2 396L316.1 396C316.8 393.7 317.3 391.4 318 389.1C318.7 386.8 319.5 384.2 320.5 382.2C321.5 380.3 322.6 378.8 324.2 377.2C325.9 375.7 328.2 374.1 330.5 372.9C332.8 371.6 335.7 370.7 338 369.8C340.3 368.8 342.4 368.2 344.2 367.2C346.1 366.3 347.9 365.5 349.2 364.1C350.6 362.8 351.8 361.3 352.4 359.1C353 356.9 353.1 353.6 353 351C352.9 348.4 352 346.2 351.8 343.5C351.5 340.8 352.2 337.1 351.8 334.8C351.3 332.4 350.4 330.7 349.2 329.1C348.1 327.6 345.8 326.7 344.9 325.4C343.9 324 343.5 322.1 343.6 321Z"/>
<path fill="#f08228" d="M386.1 322.2C385.9 321.1 386.9 319.4 388 318.5C389.1 317.6 391.3 317 393 317C394.7 317 396.6 317.5 398 318.5C399.4 319.5 400.9 321.5 401.1 322.9C401.3 324.2 400.4 326 399.2 326.6C398.1 327.2 395.9 326.8 394.2 326.6C392.6 326.4 390.6 326.1 389.2 325.4C387.9 324.6 386.3 323.4 386.1 322.2Z"/>
<path fill="#e6af2d" d="M339.9 396C340.1 393.5 339.9 390.8 340.5 388.5C341.1 386.2 342.4 383.8 343.6 382.2C344.9 380.7 346.4 380 348 379.1C349.6 378.3 351.3 378.4 353 377.2C354.7 376.1 356.4 373.9 358 372.2C359.6 370.6 361.2 369.1 362.4 367.2C363.5 365.4 364.2 363.1 364.9 361C365.5 358.9 365.6 355.2 366.1 354.8C366.6 354.3 367.8 356.6 368 358.5C368.2 360.4 367.7 363.5 367.4 366C367.1 368.5 366.4 371 366.1 373.5C365.8 376 366 378.7 365.5 381C365 383.3 364 385.3 363 387.2C362 389.2 360.1 391.4 359.2 392.9C358.4 394.3 358.4 395 358 396L339.9 396Z"/>
</g>
<g clip-path="url(#t19)" shape-rendering="crispEdges">
<rect x="416" y="296" width="128" height="96" fill="#fa3c3c"/>
<path fill="#f08228" d="M439.8 293.5L498.5 293.5C498.3 296 498.5 298.7 497.9 301C497.2 303.3 495.7 305 494.8 307.2C493.8 309.5 493.4 312.7 492.2 314.8C491.1 316.8 489.1 317.9 487.9 319.8C486.6 321.6 485.5 323.7 484.8 326C484 328.3 484.1 331.2 483.5 333.5C482.9 335.8 482 338.1 481 339.8C480 341.4 478.9 342.5 477.2 343.5C475.6 344.5 472.9 344.8 471 346C469.1 347.2 467.7 349.6 466 351C464.3 352.4 462.7 353.1 461 354.1C459.3 355.2 457.5 355.9 456 357.2C454.5 358.6 453.4 360.4 452.2 362.2C451.1 364.1 450.4 366.7 449.1 368.5C447.9 370.3 446.3 371.8 444.8 372.9C443.2 373.9 441.4 374.9 439.8 374.8C438.1 374.6 436.4 373.3 434.8 372.2C433.1 371.2 431.4 369.8 429.8 368.5C428.1 367.2 425.9 366.2 424.8 364.8C423.6 363.3 423 361.6 422.9 359.8C422.8 357.9 423.8 355.6 424.1 353.5C424.4 351.4 424.1 349 424.8 347.2C425.4 345.5 426.6 343.7 427.9 343.2C429.1 342.8 430.6 344.5 432.2 344.8C433.9 345 436.7 345.6 437.9 344.8C439 343.9 438.4 341.6 439.1 339.8C439.9 337.9 441.3 335.4 442.2 333.5C443.2 331.6 443.5 330.2 444.8 328.5C446 326.8 448.5 325.4 449.8 323.5C451 321.6 451.9 319.5 452.2 317.2C452.6 315 452.1 312 451.6 309.8C451.1 307.5 450.3 305.3 449.1 303.5C448 301.7 446.3 300.8 444.8 299.1C443.2 297.5 441.4 295.4 439.8 293.5Z"/>
<path fill="#f08228" d="M446.6 396C447.5 393.5 447.8 390.3 449.1 388.5C450.5 386.7 452.6 385.8 454.8 385.4C456.9 385 459.8 386 462.2 386C464.8 386 467.9 386.2 469.8 385.4C471.6 384.5 472.7 383 473.5 381C474.3 379 473.9 375.8 474.8 373.5C475.6 371.2 477.6 369.5 478.5 367.2C479.4 365 479.8 362 480.4 359.8C481 357.5 481.1 355.2 482.2 353.5C483.4 351.8 485.4 350.4 487.2 349.8C489.1 349.1 491.4 349.3 493.5 349.8C495.6 350.2 497.9 351.3 499.8 352.2C501.6 353.2 503.8 353.9 504.8 355.4C505.8 356.8 505.9 358.8 505.8 361C505.6 363.2 504.5 366 504.1 368.5C503.8 371 503.5 373.5 503.5 376C503.5 378.5 504.3 381.2 504.1 383.5C503.9 385.8 503 387.7 502.2 389.8C501.5 391.8 500.6 393.9 499.8 396L446.6 396Z"/>
</g>
<g clip-path="url(#t20)" shape-rendering="crispEdges">
<rect x="544" y="296" width="128" height="96" fill="#fa3c3c"/>
<path fill="#f08228" d="M574.6 293.5C575.7 295.2 576.2 296.8 577.8 298.5C579.3 300.2 582.1 301.8 584 303.5C585.9 305.2 587.6 306.4 589 308.5C590.4 310.6 591.2 313.5 592.1 316C593.1 318.5 594.4 321.1 594.6 323.5C594.8 325.9 594.3 328.6 593.4 330.4C592.4 332.1 590.8 333.2 589 334.1C587.2 335.1 584.8 335.3 582.8 336C580.7 336.7 578.8 338 576.5 338.5C574.2 339 571.1 339.2 569 339.1C566.9 339 565.1 337.6 564 337.9C562.9 338.2 562.3 339.6 562.1 341C561.9 342.4 563.2 344.3 562.8 346C562.3 347.7 560.7 349.5 559.6 351C558.6 352.5 557.3 353.3 556.5 354.8C555.7 356.2 554.6 357.9 554.6 359.8C554.6 361.6 555.5 364.2 556.5 366C557.5 367.8 559.3 369.5 560.9 370.4C562.4 371.2 564.2 370.3 565.9 371C567.5 371.7 568.9 373.8 570.9 374.8C572.9 375.7 575.6 376.1 577.8 376.6C579.9 377.1 582.4 378 584 377.9C585.6 377.8 586.6 377.1 587.1 376C587.6 374.9 587.2 372.7 587.1 371C587 369.3 586.1 367.6 586.5 366C586.9 364.4 588.2 362.9 589.6 361.6C591.1 360.4 593.8 359.9 595.2 358.5C596.7 357.1 597.3 355.2 598.4 353.5C599.4 351.8 600.4 350 601.5 348.5C602.6 347 603.8 345 605.2 344.5C606.7 344 608.4 344.9 610.2 345.4C612.1 345.8 614.2 346.7 616.5 347.2C618.8 347.8 621.7 348.1 624 348.5C626.3 348.9 629 348.7 630.2 349.8C631.5 350.8 630.9 353.3 631.5 354.8C632.1 356.2 632.5 357.4 634 358.5C635.5 359.6 638 360.9 640.2 361.6C642.5 362.4 645.5 362.6 647.8 362.9C650 363.2 651.9 363.7 654 363.5C656.1 363.3 658.4 362.5 660.2 361.6C662.1 360.8 663.9 359.9 665.2 358.5C666.6 357.1 667.5 355 668.4 353.5C669.2 352 669.3 350.6 670.2 349.8C671.2 348.9 672.8 348.9 674 348.5L674 293.5L574.6 293.5Z"/>
<path fill="#f08228" d="M547.8 321C547.6 318.8 548.6 316.5 549.6 314.8C550.7 313 552.2 311 554 310.4C555.8 309.8 558.2 310.5 560.2 311C562.3 311.5 564.9 312.4 566.5 313.5C568.1 314.6 569.3 316.3 569.6 317.9C569.9 319.4 569.1 321.3 568.4 322.9C567.6 324.4 566.6 325.8 565.2 327.2C563.9 328.7 561.9 331 560.2 331.6C558.6 332.2 556.9 331.6 555.2 331C553.6 330.4 551.5 329.5 550.2 327.9C549 326.2 547.9 323.2 547.8 321Z"/>
<ellipse fill="#fa3c3c" cx="660.9" cy="318.5" rx="1" ry="1.2"/>
<ellipse fill="#fa3c3c" cx="660.9" cy="346" rx="1.9" ry="1.9"/>
<path fill="#f00082" d="M633.4 392.9C635.2 391 637 389.2 639 387.2C641 385.3 643.4 382.8 645.2 381C647.1 379.2 648.4 377.5 650.2 376.6C652.1 375.8 654.4 375.8 656.5 376C658.6 376.2 661.6 377 662.8 377.9C663.9 378.7 663.8 379.9 663.4 381C663 382.1 661.4 383.4 660.2 384.8C659.1 386.1 657.5 387.8 656.5 389.1C655.5 390.5 654.8 391.6 654 392.9L633.4 392.9Z"/>
</g>
<g clip-path="url(#t21)" shape-rendering="crispEdges">
<rect x="672" y="296" width="128" height="96" fill="#fa3c3c"/>
<path fill="#f08228" d="M669.5 293.5L685.8 293.5C686 296.8 686.4 300 686.4 303.5C686.4 307 685.9 310.8 685.8 314.8C685.6 318.7 685.6 323.5 685.8 327.2C685.9 331 686.6 334.5 686.4 337.2C686.2 340 685.6 341.9 684.5 343.5C683.4 345.1 681.2 345.8 679.5 346.6C677.8 347.5 676.2 348 674.5 348.5C672.8 349 671.2 349.3 669.5 349.8L669.5 293.5Z"/>
<path fill="#f08228" d="M702.6 354.8C703 353.2 704.2 350.6 705.8 348.5C707.3 346.4 709.9 344 712 342.2C714.1 340.5 716 339.2 718.2 337.9C720.5 336.5 723 335.2 725.8 334.1C728.5 333.1 731.8 332.5 734.5 331.6C737.2 330.8 740.1 329.9 742 329.1C743.9 328.4 744.7 327.1 745.8 327.2C746.8 327.4 747.2 330.2 748.2 329.8C749.3 329.3 750.8 326.6 752 324.8C753.2 322.9 754.5 319.3 755.8 318.5C757 317.7 758.2 320.4 759.5 319.8C760.8 319.1 762.3 316.4 763.2 314.8C764.2 313.1 763.9 311.2 765.1 309.8C766.4 308.3 768.8 307.5 770.8 306C772.7 304.5 775.1 302.5 777 301C778.9 299.5 780.8 298.5 782 297.2C783.2 296 783.7 294.8 784.5 293.5L802 293.5L802 338.5C800.3 339.1 799.1 339.3 797 340.4C794.9 341.4 792 343 789.5 344.8C787 346.5 784.5 348.9 782 351C779.5 353.1 776.8 355.2 774.5 357.2C772.2 359.3 770.3 361.4 768.2 363.5C766.2 365.6 764.3 367.7 762 369.8C759.7 371.8 757 373.9 754.5 376C752 378.1 749.3 380.4 747 382.2C744.7 384.1 742.8 386.1 740.8 387.2C738.7 388.4 736.3 389.3 734.5 389.1C732.7 388.9 731.2 387.6 730.1 386C729.1 384.4 728.7 381.8 728.2 379.8C727.8 377.7 728 375.4 727.6 373.5C727.2 371.6 726.9 370 725.8 368.5C724.6 367 722.6 366 720.8 364.8C718.9 363.5 716.6 362 714.5 361C712.4 360 710.1 359 708.2 358.5C706.4 358 704.2 358.5 703.2 357.9C702.3 357.2 702.2 356.3 702.6 354.8Z"/>
<path fill="#f08228" d="M705.8 317.2C705.2 316.2 705.6 313.9 706.4 312.9C707.1 311.8 709 311.1 710.1 311C711.3 310.9 712.7 311.4 713.2 312.2C713.8 313.1 713.9 314.9 713.2 316C712.6 317.1 710.8 318.9 709.5 319.1C708.2 319.3 706.3 318.3 705.8 317.2Z"/>
<path fill="#e6af2d" d="M720.1 349.8C719.6 348.3 720.2 347.1 721.4 346C722.5 344.9 725 343.7 727 342.9C729 342.1 731.2 341.2 733.2 341.2C735.3 341.2 737.7 341.9 739.5 342.9C741.3 343.9 742.8 345.5 743.9 347.2C744.9 349 745.4 351.4 745.8 353.5C746.1 355.6 746.2 358 745.8 359.8C745.3 361.5 744.3 363.2 743.2 364.1C742.2 365.1 741 365.7 739.5 365.4C738 365.1 736.2 363.4 734.5 362.2C732.8 361.1 731.2 359.8 729.5 358.5C727.8 357.2 726.1 356.2 724.5 354.8C722.9 353.3 720.6 351.2 720.1 349.8Z"/>
<path fill="#e6af2d" d="M772 318.5C771.8 316.1 772.4 313.3 773.2 311C774.1 308.7 775.5 306.4 777 304.8C778.5 303.1 780.3 302.2 782 301C783.7 299.8 785.3 298.5 787 297.2C788.7 296 790.3 294.8 792 293.5L802 293.5L802 311C800.8 313.1 799.5 315.2 798.2 317.2C797 319.3 796 321.7 794.5 323.5C793 325.3 791.4 326.6 789.5 327.9C787.6 329.1 785.1 330.6 783.2 331C781.4 331.4 779.7 331.3 778.2 330.4C776.8 329.4 775.5 327.4 774.5 325.4C773.5 323.4 772.2 320.9 772 318.5Z"/>
<path fill="#e6dc32" d="M793.5 293.5L802 293.5L802 303.8L795.1 303.8L795.1 298.5L793.5 298.5Z"/>
<path fill="#ffffff" d="M795.8 293.5L802 293.5L802 302.9L795.8 302.9Z"/>
<path fill="#f00082" d="M784.5 392.9C786.2 391 787.7 389.2 789.5 387.2C791.3 385.3 793 383.3 795.1 381C797.2 378.7 799.7 376 802 373.5L802 392.9L784.5 392.9Z"/>
</g>
<g clip-path="url(#t22)" shape-rendering="crispEdges">
<rect x="800" y="296" width="128" height="96" fill="#fa3c3c"/>
<path fill="#f08228" d="M797.5 293.5L868.1 293.5C867.1 296 866.1 298.5 865 301C863.9 303.5 862.7 306.2 861.2 308.5C859.8 310.8 857.7 312.7 856.2 314.8C854.8 316.8 853.5 318.9 852.5 321C851.5 323.1 850.8 325.2 850 327.2C849.2 329.3 848.8 331.5 847.5 333.5C846.2 335.5 844.2 338 842.5 339.1C840.8 340.3 839.1 340.7 837.5 340.4C835.9 340.1 834.5 338.6 833.1 337.2C831.8 335.9 830.7 333.7 829.4 332.2C828 330.8 826.6 329.5 825 328.5C823.4 327.5 821.9 326.2 820 326C818.1 325.8 815.8 326.5 813.8 327.2C811.7 328 809.4 329.1 807.5 330.4C805.6 331.6 804.2 333.6 802.5 334.8C800.8 335.9 799.2 336.4 797.5 337.2L797.5 293.5Z"/>
<path fill="#e6af2d" d="M797.5 293.5L856.2 293.5C855 296 853.5 298.5 852.5 301C851.5 303.5 850.8 306.2 850 308.5C849.2 310.8 848.3 312.7 847.5 314.8C846.7 316.8 846 319.1 845 321C844 322.9 842.7 324.9 841.2 326C839.8 327.1 837.9 327.9 836.2 327.9C834.6 327.9 832.9 326.9 831.2 326C829.6 325.1 828.1 323.4 826.2 322.2C824.4 321.1 822.3 320.3 820 319.1C817.7 318 814.8 316.3 812.5 315.4C810.2 314.4 808.3 313.9 806.2 313.5C804.2 313.1 801.5 313 800 312.9C798.5 312.8 798.3 312.9 797.5 312.9L797.5 293.5Z"/>
<path fill="#e6dc32" d="M797.5 303.2L807.5 303.2L807.5 293.5L845.6 293.5L843.1 301L842.5 314.8L838.8 315L838.8 319.8L823.1 319.8L823.1 314.8L814.4 314.8L814.4 308.5L809.4 308.5L809.4 306L797.5 305.4Z"/>
<path fill="#ffffff" d="M795 293.5L841.9 293.5L841.9 314.1L838.1 314.1L838.1 319.1L823.8 319.1L823.8 314.1L815 314.1L815 307.9L810 307.9L810 303L795 303Z"/>
<path fill="#f00082" d="M797.5 373.5C799.6 372 801.7 370.6 803.8 369.1C805.8 367.7 808.1 365.9 810 364.8C811.9 363.6 812.9 362.8 815 362.2C817.1 361.7 819.8 361.6 822.5 361.6C825.2 361.6 828.8 362.4 831.2 362.2C833.8 362.1 835.6 362 837.5 361C839.4 360 840.8 357.7 842.5 356C844.2 354.3 845.8 352.7 847.5 351C849.2 349.3 851 347.9 852.5 346C854 344.1 855 341.6 856.2 339.8C857.5 337.9 858.3 336 860 334.8C861.7 333.5 864 332.8 866.2 332.2C868.5 331.7 871.7 332.1 873.8 331.6C875.8 331.1 877.3 330.3 878.8 329.1C880.2 328 881.6 326.4 882.5 324.8C883.4 323.1 883.2 320.2 884.4 319.1C885.5 318.1 888.5 317.8 889.4 318.5C890.2 319.2 889.7 321.8 889.4 323.5C889.1 325.2 887.6 326.9 887.5 328.5C887.4 330.1 887.7 331.7 888.8 332.9C889.8 334 891.9 335.2 893.8 335.4C895.6 335.6 898.1 334.9 900 334.1C901.9 333.4 903.3 332.1 905 331C906.7 329.9 908.1 328.2 910 327.2C911.9 326.3 914.7 326.4 916.2 325.4C917.8 324.3 919.1 322.8 919.4 321C919.7 319.2 919 316.6 918.1 314.8C917.3 312.9 915.5 311.2 914.4 309.8C913.2 308.3 912.6 306.8 911.2 306C909.9 305.2 908.3 304.9 906.2 304.8C904.2 304.6 900.9 305.1 898.8 305C896.6 304.9 894.5 304.7 893.1 304.1C891.8 303.6 890.5 302.3 890.6 301.6C890.7 300.9 892.2 300.1 893.8 300C895.3 299.9 897.7 301 900 301.2C902.3 301.5 905 301.7 907.5 301.6C910 301.6 912.5 301.4 915 301C917.5 300.6 920 299.8 922.5 299.1C925 298.5 927.5 297.9 930 297.2L930 320.4C928.5 321 926.6 321.6 925.6 322.2C924.7 322.9 924.2 323.8 924.4 324.5C924.6 325.2 925.9 326.1 926.9 326.6C927.8 327.2 929 327.5 930 327.9L930 331.6C928.3 332.5 926.6 333.2 925 334.1C923.4 335.1 921.8 335.9 920.6 337.2C919.5 338.6 918.2 340.4 918.1 342.2C918 344.1 919.4 346.4 920 348.5C920.6 350.6 921.4 352.5 921.9 354.8C922.4 357 923 359.5 923.1 362.2C923.2 365 923.4 368.5 922.5 371C921.6 373.5 919.6 375.2 917.5 377.2C915.4 379.3 912.5 381.7 910 383.5C907.5 385.3 905 386.8 902.5 387.9C900 388.9 896.7 388.6 895 389.8C893.3 390.9 893.3 393.1 892.5 394.8L797.5 394.8L797.5 373.5Z"/>
</g>
<g clip-path="url(#t23)" shape-rendering="crispEdges">
<rect x="928" y="296" width="96" height="96" fill="#fa3c3c"/>
<path fill="#f00082" d="M914.8 301.6C916.2 298 920.8 299.9 923.5 299.1C926.2 298.4 928.9 297.1 931 297C933.1 296.9 934.5 297.5 936 298.5C937.5 299.5 939.1 301.4 939.8 302.9C940.4 304.3 940.4 305.7 939.8 307.2C939.1 308.8 937.7 310.6 936 312.2C934.3 313.9 931.4 315.8 929.8 317.2C928.1 318.7 926.9 319.8 926 321C925.1 322.2 923.7 323.4 924.1 324.8C924.5 326.1 928.2 327.9 928.5 329.1C928.8 330.4 927.2 331.1 926 332.2C924.8 333.4 922.9 335.4 921 336C919.1 336.6 916.8 336 914.8 336L914.8 321C914.8 314.5 913.3 305.3 914.8 301.6Z"/>
<ellipse fill="#f00082" cx="959.5" cy="314.4" rx="4.5" ry="4.5"/>
<path fill="#f08228" d="M952.9 336C956.4 335.9 960.9 335.6 963.5 335.8C966.1 335.9 965.8 336.6 968.5 336.6C971.2 336.7 976 336.2 979.8 336L979.8 389.1C978.5 388.7 977.2 388.8 976 387.9C974.8 386.9 972.9 385.1 972.2 383.5C971.6 381.9 971.8 380.2 972.2 378.5C972.7 376.8 974.4 375 974.8 373.5C975.1 372 975 371.4 974.1 369.8C973.3 368.1 971.3 365.6 969.8 363.5C968.2 361.4 966.2 359.3 964.8 357.2C963.3 355.2 962.5 352.9 961 351C959.5 349.1 957.2 347.5 956 346C954.8 344.5 954.1 343.5 953.5 342.2C952.9 341 952.4 339.5 952.2 338.5C952.1 337.5 952.7 336.8 952.9 336Z"/>
</g>
<g clip-path="url(#t24)" shape-rendering="crispEdges">
<rect x="32" y="392" width="128" height="96" fill="#f08228"/>
<path fill="#fa3c3c" d="M39.5 389.5L78.9 389.5C79.3 392 80 394.1 80.1 397C80.2 399.9 79.9 403.7 79.5 407C79.1 410.3 78 413.7 77.6 417C77.2 420.3 77.1 423.7 77.2 427C77.4 430.3 78 434.1 78.2 437C78.5 439.9 79.1 442.3 78.9 444.5C78.7 446.7 78 448.4 77 450.1C76 451.9 73.9 453.1 72.6 455.1C71.4 457.1 70.1 459.6 69.5 462C68.9 464.4 68.7 467.2 68.9 469.5C69.1 471.8 69.6 474.3 70.8 475.8C71.9 477.2 74.1 477.6 75.8 478.2C77.4 478.9 79.3 478.5 80.8 479.5C82.2 480.5 83.6 482.4 84.5 484.5C85.4 486.6 85.8 489.5 86.4 492L39.5 492L39.5 389.5Z"/>
<path fill="#e6af2d" d="M162 401.4C159.9 402.2 157.7 402.7 155.8 403.9C153.8 405 151.6 406.5 150.1 408.2C148.7 410 147.4 412.3 147 414.5C146.6 416.7 147.2 419.3 147.6 421.4C148 423.5 148.5 425.5 149.5 427C150.5 428.5 152.4 429.8 153.9 430.1C155.3 430.4 156.9 429.3 158.2 428.9C159.6 428.5 160.8 428 162 427.6L162 401.4Z"/>
</g>
<g clip-path="url(#t25)" shape-rendering="crispEdges">
<rect x="160" y="392" width="128" height="96" fill="#f08228"/>
<path fill="#e6af2d" d="M157.5 400.8C160 400.3 162.5 400.1 165 399.5C167.5 398.9 170.2 397.7 172.5 397.2C174.8 396.8 176.2 396.6 178.8 397C181.2 397.4 184.8 399.2 187.5 399.5C190.2 399.8 193.1 398.2 195 398.9C196.9 399.5 197.9 401.5 198.8 403.2C199.6 405 200.2 407.2 200 409.5C199.8 411.8 198.5 414.7 197.5 417C196.5 419.3 194.8 421.2 193.8 423.2C192.7 425.3 192.3 427.6 191.2 429.5C190.2 431.4 188.9 433.6 187.5 434.5C186.1 435.4 184.4 435.8 183.1 435.1C181.9 434.5 180.9 432 180 430.8C179.1 429.5 179.6 428.1 177.5 427.6C175.4 427.1 170.4 427.5 167.5 427.6C164.6 427.7 161.7 428.1 160 428.2C158.3 428.4 158.3 428.2 157.5 428.2L157.5 400.8Z"/>
<path fill="#e6af2d" d="M171.9 492C172.1 488.7 172 485.1 172.5 482C173 478.9 173.8 476.2 175 473.2C176.2 470.3 178.3 466.8 180 464.5C181.7 462.2 183.1 460.7 185 459.5C186.9 458.3 189 457.7 191.2 457.2C193.5 456.8 196.5 456.5 198.8 457C201 457.5 203.1 459 205 460.1C206.9 461.3 208.5 463.1 210 463.9C211.5 464.6 212.1 464.8 213.8 464.5C215.4 464.2 217.9 463 220 462C222.1 461 224.4 459.2 226.2 458.2C228.1 457.3 229.4 456.7 231.2 456.4C233.1 456.1 235.2 455.9 237.5 456.4C239.8 456.9 242.5 458.9 245 459.5C247.5 460.1 250 460.1 252.5 460.1C255 460.1 258.1 459.2 260 459.5C261.9 459.8 262.7 460.8 263.8 462C264.8 463.2 265.4 465.1 266.2 467C267.1 468.9 267.7 471.9 268.8 473.2C269.8 474.6 270.8 475.3 272.5 475.1C274.2 474.9 276.7 473.1 278.8 472C280.8 470.9 283.1 469.3 285 468.2C286.9 467.2 288.3 466.6 290 465.8L290 492L171.9 492Z"/>
<path fill="#fa3c3c" d="M263.8 389.5C263.8 392.4 263.6 395.5 263.8 398.2C263.9 401 263.8 403.5 264.4 405.8C265 408 266.1 409.9 267.5 412C268.9 414.1 270.6 416.2 272.5 418.2C274.4 420.3 276.7 422.6 278.8 424.5C280.8 426.4 283.1 428.2 285 429.5C286.9 430.8 288.3 431.2 290 432L290 389.5L263.8 389.5Z"/>
</g>
<g clip-path="url(#t26)" shape-rendering="crispEdges">
<rect x="288" y="392" width="128" height="96" fill="#f08228"/>
<path fill="#fa3c3c" d="M285.5 389.5L316.1 389.5C315.7 392.8 315.5 396.2 314.9 399.5C314.2 402.8 313.3 406.2 312.4 409.5C311.4 412.8 310.4 416.4 309.2 419.5C308.1 422.6 306.9 425.8 305.5 428.2C304.1 430.8 302.7 433.1 301.1 434.5C299.6 435.9 297.7 436.6 296.1 436.8C294.6 436.9 293.1 435.8 291.8 435.1C290.4 434.4 289 433.1 288 432.6C287 432.1 286.3 432.2 285.5 432L285.5 389.5Z"/>
<path fill="#f00082" d="M285.5 389.5L303 389.5C302.6 392 302.3 394.9 301.8 397C301.2 399.1 300.7 400.8 299.9 402C299 403.2 297.8 404.7 296.8 404.5C295.7 404.3 294.7 402.2 293.6 400.8C292.6 399.3 291.4 397 290.5 395.8C289.6 394.5 288.8 393.9 288 393.2C287.2 392.6 286.3 392.4 285.5 392L285.5 389.5Z"/>
<path fill="#fa3c3c" d="M384.9 389.5C384.2 391.6 384.1 394.2 383 395.8C381.9 397.3 379.7 397.8 378 398.9C376.3 399.9 374.1 400.4 373 402C371.9 403.6 371.5 406 371.1 408.2C370.7 410.5 370.4 413.7 370.5 415.8C370.6 417.8 370.9 419.5 371.8 420.8C372.6 422 373.6 422.6 375.5 423.2C377.4 423.9 380.5 424.2 383 424.8C385.5 425.3 388.2 425.6 390.5 426.4C392.8 427.2 394.7 428.4 396.8 429.5C398.8 430.6 401.1 432.1 403 433.2C404.9 434.4 406.5 435.6 408 436.4C409.5 437.1 410.5 437.9 411.8 437.6C413 437.3 414.5 435.9 415.5 434.5C416.5 433.1 417.2 431.2 418 429.5L418 389.5L384.9 389.5Z"/>
<path fill="#e6af2d" d="M339.9 389.5C340.3 391.2 340.2 393.1 341.1 394.5C342.1 395.9 343.9 397.3 345.5 398C347.1 398.7 348.8 398.9 350.5 398.5C352.2 398.1 354.1 397.2 355.5 395.8C356.9 394.2 357.6 391.6 358.6 389.5L339.9 389.5Z"/>
<path fill="#e6af2d" d="M319.9 418.9C320.1 417.3 321 416.2 322.4 415.1C323.7 414.1 326.4 412.7 328 412.6C329.6 412.5 330.5 413.5 331.8 414.5C333 415.5 334 417.7 335.5 418.9C337 420 338.9 420.5 340.5 421.4C342.1 422.2 344 422.7 344.9 423.9C345.7 425 346 427.2 345.5 428.2C345 429.3 343.4 429.8 341.8 430.1C340.1 430.4 337.2 429.8 335.5 430.1C333.8 430.4 332.7 430.9 331.8 432C330.8 433.1 330.9 435.5 329.9 437C328.8 438.5 327.3 439.9 325.5 440.8C323.7 441.6 321 442.2 319.2 442C317.5 441.8 315.4 440.6 314.9 439.5C314.4 438.4 315.4 436.6 316.1 435.1C316.9 433.7 317.9 431.8 319.2 430.8C320.6 429.7 322.4 429.3 324.2 428.9C326.1 428.4 330.3 428.4 330.5 428C330.7 427.6 327.1 427 325.5 426.4C323.9 425.8 322.1 425.8 321.1 424.5C320.2 423.2 319.7 420.4 319.9 418.9Z"/>
<path fill="#e6af2d" d="M285.5 470.1C288 470.5 290.5 471 293 471.4C295.5 471.8 298 472.5 300.5 472.6C303 472.7 305.9 472.7 308 472C310.1 471.3 311.1 469.5 313 468.2C314.9 467 317.2 465.5 319.2 464.5C321.3 463.5 323 462.7 325.5 462C328 461.3 331.5 460.6 334.2 460.1C337 459.6 339.5 459.4 341.8 458.9C344 458.4 346.6 458.1 348 457C349.4 455.9 349.4 453.7 349.9 452C350.4 450.3 350.2 448.5 351.1 447C352.1 445.5 353.5 444.2 355.5 443.2C357.5 442.3 360.9 441.8 363 441.4C365.1 440.9 366.1 440.4 368 440.5C369.9 440.6 372.2 441.2 374.2 442C376.3 442.8 378.8 444.5 380.5 445.1C382.2 445.7 383 445.8 384.2 445.5C385.5 445.2 386.5 443.8 388 443.2C389.5 442.7 391.4 441.8 393 442C394.6 442.2 396.3 443.5 397.4 444.5C398.4 445.5 398.3 447.2 399.2 448.2C400.2 449.3 401.5 450.1 403 450.8C404.5 451.4 406.5 451.7 408 452C409.5 452.3 410.1 452.4 411.8 452.6C413.4 452.8 415.9 453 418 453.2L418 492L285.5 492L285.5 470.1Z"/>
<path fill="#f08228" d="M389.9 453.9L391.8 453.9L391.8 454.9L389.9 454.9Z"/>
</g>
<g clip-path="url(#t27)" shape-rendering="crispEdges">
<rect x="416" y="392" width="128" height="96" fill="#fa3c3c"/>
<path fill="#f08228" d="M446 389.5C446.2 392 446.1 394.6 446.6 397C447.1 399.4 448 402 449.1 403.9C450.3 405.8 451.7 407.1 453.5 408.2C455.3 409.4 457.5 410.2 459.8 410.8C462 411.3 465 412 467.2 411.8C469.5 411.5 471.4 410.5 473.5 409.5C475.6 408.5 477.7 407.2 479.8 405.8C481.8 404.3 483.9 402.4 486 400.8C488.1 399.1 490.4 397.6 492.2 395.8C494.1 393.9 495.6 391.6 497.2 389.5L446 389.5Z"/>
<path fill="#f08228" d="M436.6 412.6C436.7 411.3 437.4 409.8 438.5 408.9C439.6 407.9 441.7 407.5 443.5 407C445.3 406.5 447.9 405.5 449.1 405.8C450.4 406 451.3 407.2 451 408.2C450.7 409.3 448.2 410.5 447.2 412C446.3 413.5 445.5 415.1 445.4 417C445.3 418.9 446.5 421.7 446.6 423.2C446.7 424.8 446.8 426.6 446 426.4C445.2 426.2 443 423.6 441.6 422C440.3 420.4 438.7 418.6 437.9 417C437 415.4 436.5 414 436.6 412.6Z"/>
<path fill="#f08228" d="M413.5 440.1C415.6 440.3 417.7 440.2 419.8 440.8C421.8 441.3 423.9 442.1 426 443.2C428.1 444.4 430.4 446.1 432.2 447.6C434.1 449.2 435.6 451.2 437.2 452.6C438.9 454.1 440.4 455.3 442.2 456.4C444.1 457.4 446.9 457.9 448.5 458.9C450.1 459.8 451.4 460.6 451.6 462C451.8 463.4 450.3 465.3 449.8 467C449.2 468.7 448.1 470.3 448.5 472C448.9 473.7 451 475.3 452.2 477C453.5 478.7 454.5 480.3 456 482C457.5 483.7 459.8 485.3 461 487C462.2 488.7 462.7 490.3 463.5 492L413.5 492L413.5 440.1Z"/>
<path fill="#e6af2d" d="M413.5 462C415 462.8 416.6 463.2 417.9 464.5C419.1 465.8 420.1 467.6 421 469.5C421.9 471.4 422.5 473.7 423.5 475.8C424.5 477.8 425.8 480 427.2 482C428.7 484 431 486 432.2 487.6C433.5 489.3 433.9 490.5 434.8 492L413.5 492L413.5 462Z"/>
<path fill="#f08228" d="M461 459.5C461.1 458.9 462.9 458.1 464.1 458C465.4 457.9 467.4 458.4 468.5 458.9C469.6 459.3 471.1 460.2 471 460.8C470.9 461.3 469.1 461.9 467.9 462C466.6 462.1 464.6 461.8 463.5 461.4C462.4 461 460.9 460.1 461 459.5Z"/>
<path fill="#f08228" d="M476 492C477.2 489.9 478.5 487.6 479.8 485.8C481 483.9 482 482 483.5 480.8C485 479.5 486.6 478.6 488.5 478.2C490.4 477.9 492.9 478.1 494.8 478.5C496.6 478.9 498.3 479.8 499.8 480.8C501.2 481.8 502.6 483.1 503.5 484.5C504.4 485.9 505 487.6 505.4 488.9C505.8 490.1 505.8 491 506 492L476 492Z"/>
<path fill="#f08228" d="M516 492C517.2 490.3 518.1 488.6 519.8 487C521.4 485.4 523.7 483.7 526 482.6C528.3 481.5 531 480.7 533.5 480.5C536 480.3 538.9 480.9 541 481.4C543.1 481.8 544.3 482.6 546 483.2L546 492L516 492Z"/>
</g>
<g clip-path="url(#t28)" shape-rendering="crispEdges">
<rect x="544" y="392" width="128" height="96" fill="#fa3c3c"/>
<path fill="#f00082" d="M622.1 404.5C621.7 403.5 621.8 401.1 622.8 399.5C623.7 397.9 625.7 396.3 627.8 395.1C629.8 394 632.5 393.6 635.2 392.6C638 391.7 641.1 390.5 644 389.5L654 389.5C653.2 391.4 653.2 393.8 651.5 395.1C649.8 396.5 646.5 396.9 644 397.6C641.5 398.4 638.8 398.9 636.5 399.5C634.2 400.1 632.1 400.3 630.2 401.4C628.4 402.4 626.6 405.2 625.2 405.8C623.9 406.3 622.5 405.5 622.1 404.5Z"/>
<path fill="#f08228" d="M630.9 417C630.8 415.5 631 414.2 632.1 413.2C633.3 412.3 636.1 411.5 637.8 411.4C639.4 411.3 641.1 411.8 642.1 412.6C643.2 413.5 644 415 644 416.4C644 417.7 643.2 419.6 642.1 420.8C641.1 421.9 639.3 422.8 637.8 423C636.2 423.2 633.9 423 632.8 422C631.6 421 631 418.5 630.9 417Z"/>
<path fill="#f08228" d="M592.8 492C593.6 488.7 594.2 485.1 595.2 482C596.3 478.9 597.8 476.2 599 473.2C600.2 470.3 601.5 467.4 602.8 464.5C604 461.6 605.5 458.5 606.5 455.8C607.5 453 608.1 450.5 609 448.2C609.9 446 611.3 444.1 612.1 442C613 439.9 613.2 437.3 614 435.8C614.8 434.2 615.9 432.8 617.1 432.6C618.4 432.4 619.9 433.5 621.5 434.5C623.1 435.5 624.6 437.6 626.5 438.9C628.4 440.1 631.1 441 632.8 442C634.4 443 635.9 443.8 636.5 445.1C637.1 446.5 637.1 448.6 636.5 450.1C635.9 451.7 633.6 452.7 632.8 454.5C631.9 456.3 631.5 458.7 631.5 460.8C631.5 462.8 632.4 464.9 632.8 467C633.1 469.1 633.6 471.2 633.4 473.2C633.2 475.3 632.2 477.4 631.5 479.5C630.8 481.6 629.6 483.7 629 485.8C628.4 487.8 628.2 489.9 627.8 492L592.8 492Z"/>
<path fill="#f00082" d="M570.9 492C571.7 489.1 572.5 486.2 573.4 483.2C574.2 480.3 575 477.4 575.9 474.5C576.7 471.6 577.4 468.7 578.4 465.8C579.3 462.8 580.5 459.5 581.5 457C582.5 454.5 583.4 452.3 584.6 450.8C585.9 449.2 587.4 448.1 589 447.6C590.6 447.1 592.8 447.1 594 447.6C595.2 448.1 596.5 449.2 596.5 450.8C596.5 452.3 595 454.7 594 457C593 459.3 591.3 462 590.2 464.5C589.2 467 588.6 469.5 587.8 472C586.9 474.5 586.1 477.2 585.2 479.5C584.4 481.8 583.4 483.7 582.8 485.8C582.1 487.8 581.9 489.9 581.5 492L570.9 492Z"/>
<path fill="#f00082" d="M674 424.5C672.3 426.2 670.5 427.6 669 429.5C667.5 431.4 666.1 433.2 665.2 435.8C664.4 438.2 664.3 441.8 664 444.5C663.7 447.2 664 449.7 663.4 452C662.8 454.3 661.4 456 660.2 458.2C659.1 460.5 657.5 463.2 656.5 465.8C655.5 468.2 654.6 470.5 654 473.2C653.4 476 653.1 478.9 652.8 482C652.4 485.1 652.3 488.7 652.1 492L674 492L674 424.5Z"/>
<path fill="#f08228" d="M669.6 458.2L674 458.2L674 465.1L669.6 465.1Z"/>
<path fill="#f08228" d="M541.5 483.9C543.2 483.7 545.1 482.9 546.5 483.2C547.9 483.6 548.9 484.5 549.6 485.8C550.4 487 550.5 489.1 550.9 490.8L541.5 490.8L541.5 483.9Z"/>
</g>
<g clip-path="url(#t29)" shape-rendering="crispEdges">
<rect x="672" y="392" width="128" height="96" fill="#f00082"/>
<path fill="#fa3c3c" d="M669.5 389.5L784.5 389.5C783.2 391.6 782.6 394.1 780.8 395.8C778.9 397.4 775.8 398.5 773.2 399.5C770.8 400.5 768 401.2 765.8 402C763.5 402.8 762.2 404.1 759.5 404.5C756.8 404.9 752.8 404.5 749.5 404.5C746.2 404.5 742.6 404.2 739.5 404.2C736.4 404.2 733.2 404 730.8 404.5C728.2 405 726.6 405.8 724.5 407C722.4 408.2 720.5 410.6 718.2 412C716 413.4 713.5 414.5 710.8 415.1C708 415.8 704.9 415.1 702 415.8C699.1 416.4 696.2 417.9 693.2 418.9C690.3 419.8 687.2 420.8 684.5 421.4C681.8 422 679.1 422 677 422.6C674.9 423.2 673.2 424.5 672 425.1C670.8 425.8 670.3 426 669.5 426.4L669.5 389.5Z"/>
<path fill="#fa3c3c" d="M722.6 492C723.2 489.5 723.8 487.2 724.5 484.5C725.2 481.8 726 478.2 727 475.8C728 473.2 729.1 471.3 730.8 469.5C732.4 467.7 734.7 466.4 737 465.1C739.3 463.9 742.4 463.4 744.5 462C746.6 460.6 747.4 458.1 749.5 457C751.6 455.9 754.7 455.6 757 455.1C759.3 454.6 761.4 454.8 763.2 453.9C765.1 452.9 766.6 450.9 768.2 449.5C769.9 448.1 771.4 446.9 773.2 445.8C775.1 444.6 777.2 443.2 779.5 442.6C781.8 442 784.5 441.7 787 442C789.5 442.3 792 444 794.5 444.5C797 445 799.5 444.9 802 445.1L802 492L722.6 492Z"/>
<path fill="#f08228" d="M733.2 492C733.7 489.5 733.7 486.3 734.5 484.5C735.3 482.7 736.6 481.9 738.2 481.4C739.9 480.9 742.2 481.4 744.5 481.4C746.8 481.4 749.5 481.7 752 481.4C754.5 481.1 757.4 480.2 759.5 479.5C761.6 478.8 763 478.2 764.5 477C766 475.8 766.8 473.2 768.2 472C769.7 470.8 771.4 470.3 773.2 469.5C775.1 468.7 777.2 467.9 779.5 467C781.8 466.1 784.7 464.7 787 464.2C789.3 463.8 791.6 464 793.2 464.5C794.9 465 795.5 466 797 467C798.5 468 800.3 469.5 802 470.8L802 492L733.2 492Z"/>
</g>
<g clip-path="url(#t30)" shape-rendering="crispEdges">
<rect x="800" y="392" width="128" height="96" fill="#fa3c3c"/>
<path fill="#f00082" d="M797.5 389.5L892.5 389.5C890.8 391.4 889.6 393.4 887.5 395.1C885.4 396.9 881.1 398.5 880 400.1C878.9 401.8 880.8 403.4 880.6 405.1C880.4 406.9 879.9 409.1 878.8 410.8C877.6 412.4 875.6 413.9 873.8 415.1C871.9 416.4 869.6 417.2 867.5 418.2C865.4 419.3 863.3 420.1 861.2 421.4C859.2 422.6 857.1 424.4 855 425.8C852.9 427.1 850.8 428.4 848.8 429.5C846.7 430.6 844.8 431.9 842.5 432.6C840.2 433.4 837.2 433.4 835 433.9C832.8 434.4 830.7 434.6 829.4 435.8C828 436.9 827.8 439.2 826.9 440.8C825.9 442.3 825.5 444.1 823.8 445.1C822 446.1 819 446.6 816.2 446.8C813.5 446.9 810.2 446.3 807.5 446C804.8 445.7 801.7 445.3 800 445.1C798.3 445 798.3 445.1 797.5 445.1L797.5 389.5Z"/>
<path fill="#f08228" d="M873.8 454.5C874 453.1 874.8 450.9 876.2 449.5C877.7 448.1 880.4 446.9 882.5 446.4C884.6 445.9 887 445.9 888.8 446.6C890.5 447.4 892.1 449.2 892.8 450.8C893.4 452.3 893.2 454.1 892.8 455.8C892.3 457.4 891.5 459.5 890 460.8C888.5 462 885.8 462.9 883.8 463C881.7 463.1 879 462.3 877.5 461.4C876 460.5 875.4 458.8 874.8 457.6C874.1 456.5 873.5 455.9 873.8 454.5Z"/>
<path fill="#f08228" d="M797.5 470.8C800 471.6 802.5 472.3 805 473.2C807.5 474.2 810 475.3 812.5 476.4C815 477.4 817.5 478.7 820 479.5C822.5 480.3 824.6 480.7 827.5 481C830.4 481.3 834.2 481.5 837.5 481.4C840.8 481.2 844.2 480.6 847.5 480.1C850.8 479.6 854.2 478.9 857.5 478.2C860.8 477.6 864.4 476.7 867.5 476C870.6 475.3 873.5 474.5 876.2 474.2C879 474 881.2 474.2 883.8 474.5C886.2 474.8 889 475.8 891.2 475.8C893.5 475.8 895.9 475.5 897.5 474.5C899.1 473.5 899.9 471.4 900.6 469.5C901.4 467.6 901.1 465 901.9 463.2C902.6 461.5 903.6 460 905 458.9C906.4 457.7 907.9 456.9 910 456.4C912.1 455.9 915 456.3 917.5 456C920 455.7 922.9 455 925 454.5C927.1 454 928.3 453.7 930 453.2L930 492L797.5 492L797.5 470.8Z"/>
</g>
<g clip-path="url(#t31)" shape-rendering="crispEdges">
<rect x="928" y="392" width="96" height="96" fill="#fa3c3c"/>
<path fill="#f08228" d="M979.8 404.5C978.5 405.5 977.7 406.4 976 407.6C974.3 408.9 971.7 410.4 969.8 412C967.8 413.6 965.4 415.2 964.1 417C962.8 418.8 962.1 420.6 962 422.6C961.9 424.6 962.5 427 963.5 428.9C964.5 430.8 966.2 432.4 967.9 433.9C969.5 435.3 971.5 436.6 973.5 437.6C975.5 438.7 977.7 439.3 979.8 440.1L979.8 404.5Z"/>
<path fill="#f08228" d="M893.5 474.5C895.2 473.7 897.2 473.5 898.5 472C899.8 470.5 900.2 467.7 901 465.8C901.8 463.8 902.2 461.6 903.5 460.1C904.8 458.6 906.4 457.4 908.5 456.8C910.6 456.1 913.5 456.4 916 456C918.5 455.6 921.2 454.8 923.5 454.2C925.8 453.7 927.7 453 929.8 452.6C931.8 452.3 933.7 452 936 452.2C938.3 452.5 941 453.1 943.5 453.9C946 454.7 948.5 456 951 457C953.5 458 956 459.4 958.5 460.1C961 460.9 963.5 461.2 966 461.4C968.5 461.6 971.2 461.5 973.5 461.4C975.8 461.2 977.7 460.8 979.8 460.5L979.8 492L893.5 492L893.5 474.5Z"/>
</g>
<g clip-path="url(#t32)" shape-rendering="crispEdges">
<rect x="32" y="488" width="128" height="96" fill="#f08228"/>
<path fill="#fa3c3c" d="M39.5 485.5L85.8 485.5C86.4 488 87.4 490.5 87.6 493C87.8 495.5 87.5 497.8 87 500.5C86.5 503.2 85.5 506.3 84.5 509.2C83.5 512.2 82.1 515.3 80.8 518C79.4 520.7 78 523.4 76.4 525.5C74.7 527.6 72.9 529.2 70.8 530.5C68.6 531.8 65.8 532.8 63.2 533C60.8 533.2 58 532.5 55.8 531.8C53.5 531 51.2 529.7 49.5 528.6C47.8 527.6 47.4 526.2 45.8 525.5C44.1 524.8 41.6 524.7 39.5 524.2L39.5 485.5Z"/>
<path fill="#e6af2d" d="M39.5 544.2C42 544.2 44.9 543.7 47 544.2C49.1 544.8 50.3 546.1 52 547.4C53.7 548.6 55.3 550.6 57 551.8C58.7 552.9 60.1 554.1 62 554.2C63.9 554.4 66.4 553.6 68.2 552.4C70.1 551.1 71.6 548.7 73.2 546.8C74.9 544.8 76.6 542.6 78.2 540.5C79.9 538.4 81.6 536.3 83.2 534.2C84.9 532.2 86.4 529.8 88.2 528C90.1 526.2 92.4 525.2 94.5 523.6C96.6 522.1 98.9 520.1 100.8 518.6C102.6 517.2 104.1 515.5 105.8 514.9C107.4 514.2 109.1 514.2 110.8 514.9C112.4 515.5 114.4 517 115.8 518.6C117.1 520.3 117.6 522.8 118.9 524.9C120.1 527 121.7 529 123.2 531.1C124.8 533.2 126.4 535.5 128.2 537.4C130.1 539.2 132.4 541 134.5 542.4C136.6 543.7 138.9 545.2 140.8 545.5C142.6 545.8 144.3 545.3 145.8 544.2C147.2 543.2 148.2 541.1 149.5 539.2C150.8 537.4 152 535.1 153.2 533C154.5 530.9 155.5 528.6 157 526.8C158.5 524.9 160.3 523.4 162 521.8L162 588L39.5 588L39.5 544.2Z"/>
<path fill="#f08228" d="M140.8 588C142 586.3 143 584.7 144.5 583C146 581.3 147.8 579.4 149.5 578C151.2 576.6 152.4 575.5 154.5 574.9C156.6 574.2 159.5 574.5 162 574.2L162 588L140.8 588Z"/>
<path fill="#e6dc32" d="M39.5 558L47 558C48.7 558.8 49.7 559.7 52 560.5C54.3 561.3 57.8 562.5 60.8 563C63.7 563.5 67.3 563.8 69.5 563.6C71.7 563.4 72.7 562.8 73.9 561.8C75 560.7 75.2 558.8 76.4 557.4C77.5 555.9 79.4 554.8 80.8 553C82.1 551.2 83.2 548.5 84.5 546.8C85.8 545 86.6 543.5 88.2 542.4C89.9 541.3 92.4 540.5 94.5 540.2C96.6 540 98.7 540.6 100.8 541.1C102.8 541.7 104.9 542.9 107 543.6C109.1 544.4 111.2 544.9 113.2 545.5C115.3 546.1 117.7 546.3 119.5 547.4C121.3 548.4 122.7 550.1 123.9 551.8C125 553.4 125.9 555.3 126.4 557.4C126.9 559.5 127.3 562.1 127 564.2C126.7 566.4 125.3 568.6 124.5 570.5C123.7 572.4 122.2 573.6 122 575.5C121.8 577.4 122.8 579.7 123.2 581.8C123.7 583.8 124.1 585.9 124.5 588L39.5 588L39.5 558Z"/>
<path fill="#ffffff" d="M39.5 556.5L50.8 556.5L50.8 561.1L61.4 561.1L61.4 566.8L73.9 566.8L73.9 562.8L78.9 562.8L78.9 557.4L83.9 557.4L83.9 552L88.2 552L88.2 547L107 547L107 552L112 552L112 557L116 557L116 588L39.5 588Z"/>
</g>
<g clip-path="url(#t33)" shape-rendering="crispEdges">
<rect x="160" y="488" width="128" height="96" fill="#e6af2d"/>
<path fill="#f08228" d="M157.5 485.5L171.9 485.5C171.2 488.4 170.9 491.1 170 494.2C169.1 497.4 167.5 501.1 166.2 504.2C165 507.4 163.5 510.5 162.5 513C161.5 515.5 160.8 517.8 160 519.2C159.2 520.7 158.3 520.9 157.5 521.8L157.5 485.5Z"/>
<path fill="#f08228" d="M157.5 574.5C159.1 574.4 160.2 574.5 162.2 574.1C164.3 573.8 167.7 572.6 169.8 572.2C171.8 571.9 172.9 571.6 174.8 572.2C176.6 572.9 179.1 574.6 181 576C182.9 577.4 184.5 578.7 186 580.4C187.5 582 189 584.7 189.8 586C190.5 587.3 190.3 587.3 190.6 588L157.5 588L157.5 574.5Z"/>
<path fill="#e6dc32" d="M165.6 533C166.2 531.4 169.5 529.1 171.2 528C173 526.9 174.7 525.8 176.2 526.1C177.8 526.4 179.4 528.3 180.6 529.9C181.9 531.4 182.8 533.7 183.8 535.5C184.7 537.3 186.5 539.2 186.2 540.5C186 541.8 184.2 542.6 182.5 543C180.8 543.4 178.1 543.4 176.2 543C174.4 542.6 172.7 541.4 171.2 540.5C169.8 539.6 168.4 538.6 167.5 537.4C166.6 536.1 165 534.6 165.6 533Z"/>
<path fill="#e6dc32" d="M202.5 588C202.9 583.8 203.6 579.2 203.8 575.5C203.9 571.8 203 568.8 203.1 565.5C203.2 562.2 204.4 558.8 204.4 555.5C204.4 552.2 203.1 548.8 203.1 545.5C203.1 542.2 203.9 538.8 204.4 535.5C204.9 532.2 205.5 528.6 206.2 525.5C207 522.4 207.7 519.5 208.8 516.8C209.8 514 211 511.4 212.5 509.2C214 507.1 215.6 505.1 217.5 503.6C219.4 502.2 221.7 500.9 223.8 500.5C225.8 500.1 227.9 500.4 230 501.1C232.1 501.9 234.2 503.5 236.2 504.9C238.3 506.2 240.2 508 242.5 509.2C244.8 510.5 247.5 511.8 250 512.4C252.5 513 255 513.1 257.5 513C260 512.9 262.9 512.3 265 511.8C267.1 511.2 268.5 510.9 270 509.9C271.5 508.8 272.6 506.8 273.8 505.5C274.9 504.2 275.2 502.9 276.9 502.4C278.5 501.9 282.2 501.9 283.8 502.4C285.3 502.9 285.2 504.6 286.2 505.5C287.3 506.4 288.8 507.2 290 508L290 588L202.5 588Z"/>
<path fill="#ffffff" d="M214.4 514.2L228.1 514.2L228.1 509.2L236.9 509.2L236.9 514.2L246.9 514.2L246.9 519.9L256.2 519.9L256.2 514.2L270 514.2L270 509.2L275 509.2L275 503L283.8 503L283.8 509.2L290 509.2L290 588L246.9 588L246.9 568L265 568L265 563L260.6 563L260.6 557.4L256.2 557.4L256.2 552L243.1 552L243.1 557.4L246.9 557.4L246.9 568L207.5 568L215 563L218.8 553L216.2 543L212.5 538L209.4 531.8L209.4 519.2L214.4 519.2Z"/>
</g>
<g clip-path="url(#t34)" shape-rendering="crispEdges">
<rect x="288" y="488" width="128" height="96" fill="#ffffff"/>
<path fill="#e6dc32" d="M285.5 485.5L418 485.5L418 553L285.5 553Z"/>
<path fill="#ffffff" d="M285.5 519.9L303.6 519.9L303.6 514.2L311.8 514.2L311.8 509.2L321.1 509.2L321.1 503L329.9 503L329.9 508.6L334.9 508.6L334.9 513.6L343.6 513.6L343.6 509.2L368 509.2L368 519.9L376.8 519.9L376.8 524.9L385.5 524.9L385.5 529.9L395.5 529.9L395.5 541.8L399.9 541.8L399.9 546.8L404.9 546.8L404.9 551.1L418 551.1L418 588L285.5 588Z"/>
<path fill="#e6af2d" d="M285.5 485.5L418 485.5L418 545.5C415.9 545.3 413.6 545.5 411.8 544.9C409.9 544.2 408.2 543 406.8 541.8C405.3 540.5 404.2 539 403 537.4C401.8 535.7 400.7 533.5 399.2 531.8C397.8 530 395.9 528.2 394.2 526.8C392.6 525.3 390.7 524.5 389.2 523C387.8 521.5 386.8 519.7 385.5 518C384.2 516.3 383.2 514.7 381.8 513C380.3 511.3 378.6 509.6 376.8 508C374.9 506.4 372.8 504.9 370.5 503.6C368.2 502.4 365.3 501.3 363 500.5C360.7 499.7 358.8 499.2 356.8 499C354.7 498.8 352.6 498.8 350.5 499C348.4 499.2 346.1 500 344.2 500.5C342.4 501 340.9 501.8 339.2 501.8C337.6 501.8 335.9 501 334.2 500.5C332.6 500 330.9 498.9 329.2 498.6C327.6 498.3 325.9 498.2 324.2 498.6C322.6 499 320.7 500 319.2 501.1C317.8 502.3 316.8 504 315.5 505.5C314.2 507 313.2 508.6 311.8 509.9C310.3 511.1 308.4 512.1 306.8 513C305.1 513.9 303.4 514.7 301.8 515.5C300.1 516.3 298.4 517.6 296.8 518C295.1 518.4 293.6 518.2 291.8 518C289.9 517.8 287.6 517.2 285.5 516.8L285.5 485.5Z"/>
<path fill="#e6dc32" d="M298 588L298 579.2L303 579.2L303 568L311.8 568L311.8 563L316.8 563L316.8 568L326.1 568L326.1 574.2L334.9 574.2L334.9 563L339.9 563L339.9 568L353.6 568L353.6 574.2L358 574.2L358 579.2L363 579.2L363 588Z"/>
</g>
<g clip-path="url(#t35)" shape-rendering="crispEdges">
<rect x="416" y="488" width="128" height="96" fill="#e6dc32"/>
<path fill="#ffffff" d="M413.5 551.1L424.1 551.1L424.1 546.8L437.9 546.8L437.9 541.1L446.6 541.1L446.6 536.1L451.2 536.1L451.2 530.5L475 530.5L475 535.8L489.1 535.8L489.1 540.5L507.2 540.5L507.2 536.1L521.6 536.1L521.6 530.2L531 530.2L531 535.5L534.8 535.5L534.8 546.8L531 546.8L531 551.8L526 551.8L526 556.8L521.6 556.8L521.6 563L517 563L517 574.2L512.2 574.2L512.2 588L413.5 588Z"/>
<path fill="#e6af2d" d="M413.5 485.5L546 485.5L546 516.8C543.9 517 541.8 517 539.8 517.4C537.7 517.8 535.2 518.3 533.5 519.2C531.8 520.2 530.8 521.6 529.8 523C528.7 524.4 528.5 526.1 527.2 527.4C526 528.6 524.1 529.6 522.2 530.5C520.4 531.4 518.3 532.2 516 533C513.7 533.8 511 534.9 508.5 535.5C506 536.1 503.5 536.5 501 536.5C498.5 536.5 495.8 536.3 493.5 535.5C491.2 534.7 489.3 532.9 487.2 531.8C485.2 530.6 483.3 529.5 481 528.6C478.7 527.8 476 527.2 473.5 526.8C471 526.3 468.5 526.2 466 526.1C463.5 526.1 460.8 526.2 458.5 526.5C456.2 526.8 453.9 527.1 452.2 527.8C450.6 528.4 449.8 529.3 448.5 530.5C447.2 531.7 446.2 533.6 444.8 534.9C443.3 536.1 441.8 537.1 439.8 538C437.7 538.9 435 539.7 432.2 540.5C429.5 541.3 426.2 542.3 423.5 543C420.8 543.7 417.7 544.5 416 544.9C414.3 545.3 414.3 545.3 413.5 545.5L413.5 485.5Z"/>
<path fill="#f08228" d="M436 485.5C437.7 487.2 439.3 488.7 441 490.5C442.7 492.3 444.1 494.5 446 496.1C447.9 497.8 450 499.5 452.2 500.5C454.5 501.5 456.8 502.1 459.8 502.4C462.7 502.6 466.4 501.9 469.8 502C473.1 502.1 476.4 503 479.8 502.8C483.1 502.5 486.2 500.9 489.8 500.5C493.3 500.1 497.2 500.6 501 500.5C504.8 500.4 509.1 500.3 512.2 499.9C515.4 499.5 517.5 498.8 519.8 498C522 497.2 523.9 495.6 526 494.9C528.1 494.1 530 493.7 532.2 493.6C534.5 493.5 537.5 493.9 539.8 494.2C542 494.6 543.9 495.1 546 495.5L546 485.5L436 485.5Z"/>
<path fill="#fa3c3c" d="M465.4 485.5L474.1 485.5C473.5 486.8 473 488.5 472.2 489.2C471.5 490 470.7 490 469.8 489.9C468.8 489.8 467.4 489.4 466.6 488.6C465.9 487.9 465.8 486.5 465.4 485.5Z"/>
<path fill="#fa3c3c" d="M508.5 485.5L516 485.5C515.6 486.7 515.4 488.3 514.8 489C514.1 489.7 513.1 489.9 512.2 489.9C511.4 489.8 510.4 489.4 509.8 488.6C509.1 487.9 508.9 486.5 508.5 485.5Z"/>
<path fill="#e6af2d" d="M546 543C544.3 543.4 542.7 543.5 541 544.2C539.3 545 537.5 546.1 536 547.4C534.5 548.6 533.7 550.1 532.2 551.8C530.8 553.4 528.9 555.3 527.2 557.4C525.6 559.5 523.7 562.1 522.2 564.2C520.8 566.4 519.6 568.2 518.5 570.5C517.4 572.8 516.1 575.1 515.4 578C514.6 580.9 514.5 584.7 514.1 588L546 588L546 543Z"/>
<path fill="#f08228" d="M546 556.1C544.3 556.3 542.7 556.1 541 556.8C539.3 557.4 537.7 558.6 536 559.9C534.3 561.1 532.7 562.7 531 564.2C529.3 565.8 527.5 567.4 526 569.2C524.5 571.1 523 573.4 522.2 575.5C521.5 577.6 521.6 579.7 521.6 581.8C521.6 583.8 522 585.9 522.2 588L546 588L546 556.1Z"/>
</g>
<g clip-path="url(#t36)" shape-rendering="crispEdges">
<rect x="544" y="488" width="128" height="96" fill="#f08228"/>
<path fill="#fa3c3c" d="M625.2 485.5C624.4 487.6 623.7 489.9 622.8 491.8C621.8 493.6 620.2 494.9 619.6 496.8C619 498.6 618.8 500.9 619 503C619.2 505.1 619.9 507.2 620.9 509.2C621.8 511.3 623.5 513.6 624.6 515.5C625.8 517.4 627.2 518.4 627.8 520.5C628.3 522.6 628 525.5 627.8 528C627.5 530.5 626.6 532.8 626.5 535.5C626.4 538.2 626.9 541.5 627.1 544.2C627.3 547 627 549.7 627.8 551.8C628.5 553.8 630 555.3 631.5 556.8C633 558.2 635 559 636.5 560.5C638 562 639.2 563.4 640.2 565.5C641.3 567.6 642 570.5 642.8 573C643.5 575.5 644.1 578 644.6 580.5C645.1 583 645.5 585.5 645.9 588L654 588L654 485.5L625.2 485.5Z"/>
<path fill="#f00082" d="M651.5 485.5C650.9 488.4 650.2 491.3 649.6 494.2C649 497.2 648.1 499.9 647.8 503C647.4 506.1 647.6 509.2 647.8 513C647.9 516.8 648.2 521.3 648.4 525.5C648.6 529.7 648.8 533.8 649 538C649.2 542.2 649.4 546.3 649.6 550.5C649.8 554.7 649.9 558.8 650.2 563C650.6 567.2 651.1 571.3 651.5 575.5C651.9 579.7 652.3 583.8 652.8 588L674 588L674 485.5L651.5 485.5Z"/>
<path fill="#f08228" d="M631.5 541.1L635.2 539L637.8 540.2L637.8 546.8L634 544.2Z"/>
<path fill="#fa3c3c" d="M551.5 485.5C552.3 487.2 552.8 488.8 554 490.5C555.2 492.2 557.1 494 559 495.5C560.9 497 563.4 498 565.2 499.2C567.1 500.5 568.6 501.8 570.2 503C571.9 504.2 573.6 505.7 575.2 506.8C576.9 507.8 578.8 509.2 580.2 509.2C581.7 509.2 583 508.2 584 506.8C585 505.3 585.7 502.8 586.5 500.5C587.3 498.2 588.2 495.5 589 493C589.8 490.5 590.7 488 591.5 485.5L551.5 485.5Z"/>
<path fill="#f00082" d="M570.9 485.5C570.7 487.6 569.9 489.9 570.2 491.8C570.6 493.6 571.7 495.8 572.8 496.8C573.8 497.7 575.2 497.9 576.5 497.4C577.8 496.9 579.3 495.6 580.2 493.6C581.2 491.6 581.5 488.2 582.1 485.5L570.9 485.5Z"/>
<path fill="#fa3c3c" d="M570.9 588C572.3 585.5 573.7 582.8 575.2 580.5C576.8 578.2 578.6 576.3 580.2 574.2C581.9 572.2 583.7 570.1 585.2 568C586.8 565.9 588.4 562.6 589.6 561.8C590.9 560.9 591.8 561.8 592.8 563C593.7 564.2 594.4 567.2 595.2 569.2C596.1 571.3 596.9 573.4 597.8 575.5C598.6 577.6 599.6 579.7 600.2 581.8C600.9 583.8 601.1 585.9 601.5 588L570.9 588Z"/>
<path fill="#e6af2d" d="M541.5 498C543.2 498.4 544.8 498.4 546.5 499.2C548.2 500.1 549.8 501.5 551.5 503C553.2 504.5 554.8 506.5 556.5 508C558.2 509.5 559.6 510.6 561.5 511.8C563.4 512.9 565.9 513.8 567.8 514.9C569.6 515.9 571.1 516.9 572.8 518C574.4 519.1 576.1 520.5 577.8 521.8C579.4 523 581.5 523.8 582.8 525.5C584 527.2 584.7 529.5 585.2 531.8C585.8 534 586.1 536.8 585.9 539.2C585.7 541.8 584.7 544.2 584 546.8C583.3 549.2 582.3 551.8 581.5 554.2C580.7 556.8 580 559.5 579 561.8C578 564 576.9 566.6 575.2 568C573.6 569.4 570.9 570.1 569 569.9C567.1 569.7 565.7 567.9 564 566.8C562.3 565.6 560.7 564.1 559 563C557.3 561.9 555.7 560.8 554 559.9C552.3 558.9 550.7 557.9 549 557.4C547.3 556.9 545.2 556.9 544 556.8C542.8 556.6 542.3 556.8 541.5 556.8L541.5 498Z"/>
<path fill="#e6dc32" d="M541.5 514.2C544 514.5 546.7 514.4 549 514.9C551.3 515.4 553 516.5 555.2 517.4C557.5 518.2 560.5 518.9 562.8 519.9C565 520.8 567.1 521.9 569 523C570.9 524.1 573.4 524.7 574 526.8C574.6 528.8 573.1 532.8 572.8 535.5C572.4 538.2 572.3 540.7 572.1 543C571.9 545.3 572.2 548.2 571.5 549.2C570.8 550.3 569.2 549.9 567.8 549.2C566.3 548.6 564.4 546.5 562.8 545.5C561.1 544.5 559.6 543.5 557.8 543C555.9 542.5 553.8 542.4 551.5 542.4C549.2 542.4 545.7 542.9 544 543C542.3 543.1 542.3 543 541.5 543L541.5 514.2Z"/>
<path fill="#ffffff" d="M541.5 525.5L548.4 525.5L548.4 519.9L562.8 519.9L562.8 524.9L573.4 524.9L573.4 540.5L559 540.5L559 536.1L541.5 536.1Z"/>
<path fill="#e6af2d" d="M590.9 520.5C591.3 518.2 591.2 515.9 592.1 514.2C593.1 512.6 594.9 511.1 596.5 510.5C598.1 509.9 599.8 509.8 601.5 510.5C603.2 511.2 605.1 513 606.5 514.9C607.9 516.8 608.8 519.1 609.6 521.8C610.5 524.4 611.1 527.6 611.5 530.5C611.9 533.4 611.6 536.3 612.1 539.2C612.6 542.2 613.7 545.3 614.6 548C615.6 550.7 616.6 553.2 617.8 555.5C618.9 557.8 620.7 559.7 621.5 561.8C622.3 563.8 623 565.9 622.8 568C622.5 570.1 621.5 572.5 620.2 574.2C619 576 616.9 577.7 615.2 578.6C613.6 579.6 611.8 580.4 610.2 579.9C608.7 579.4 607.1 577.5 605.9 575.5C604.6 573.5 603.8 570.7 602.8 568C601.7 565.3 600.7 562.2 599.6 559.2C598.6 556.3 597.5 553.2 596.5 550.5C595.5 547.8 594.3 545.5 593.4 543C592.4 540.5 591.5 538 590.9 535.5C590.2 533 589.6 530.5 589.6 528C589.6 525.5 590.5 522.8 590.9 520.5Z"/>
<path fill="#e6dc32" d="M599 529L602.1 529L602.1 537L599 537Z"/>
</g>
<g clip-path="url(#t37)" shape-rendering="crispEdges">
<rect x="672" y="488" width="128" height="96" fill="#fa3c3c"/>
<path fill="#f00082" d="M669.5 485.5L723.2 485.5C722.4 488 721.4 490.5 720.8 493C720.1 495.5 719 498.2 719.2 500.5C719.5 502.8 720.7 504.9 722 506.8C723.3 508.6 725.5 510.1 727 511.8C728.5 513.4 729.9 514.9 730.8 516.8C731.6 518.6 731.8 520.7 732 523C732.2 525.3 731.6 528.2 731.8 530.5C731.9 532.8 733.2 534.9 733 536.8C732.8 538.6 732 540.2 730.8 541.8C729.5 543.2 727.3 545.2 725.8 545.8C724.2 546.3 722.5 545.8 721.4 544.9C720.2 544 719.7 542 718.9 540.5C718 539 717.7 537 716.4 536.1C715 535.3 712.9 535.2 710.8 535.5C708.6 535.8 705.5 537 703.2 538C701 539 698.9 540.3 697 541.8C695.1 543.2 693.7 544.9 692 546.8C690.3 548.6 688.4 550.9 687 553C685.6 555.1 684.4 557 683.9 559.2C683.4 561.5 683.6 564.2 683.9 566.8C684.2 569.2 685.1 571.8 685.8 574.2C686.4 576.8 687.2 579.5 687.6 581.8C688 584 688 585.9 688.2 588L669.5 588L669.5 485.5Z"/>
<path fill="#f00082" d="M693.9 588C694.1 584.7 693.4 580.7 694.5 578C695.6 575.3 698.7 574 700.8 571.8C702.8 569.5 705.2 566.6 707 564.2C708.8 561.9 710 558.2 711.4 557.4C712.7 556.5 713.9 558.3 715.1 559.2C716.4 560.2 718.8 561.5 718.9 563C719 564.5 716.7 566.1 715.8 568C714.8 569.9 714 572 713.2 574.2C712.5 576.5 711.7 579.5 711.4 581.8C711.1 584 711.4 585.9 711.4 588L693.9 588Z"/>
<path fill="#f00082" d="M746.4 535.5C747 534 749.8 533.6 752 533C754.2 532.4 757 532.1 759.5 532C762 531.9 764.7 531.8 767 532.4C769.3 533 771.4 534.1 773.2 535.5C775.1 536.9 776.8 538.8 778.2 540.5C779.7 542.2 780.6 543.8 782 545.5C783.4 547.2 785.1 548.4 786.4 550.5C787.6 552.6 788.9 555.5 789.5 558C790.1 560.5 790.3 563.4 790.1 565.5C789.9 567.6 789.4 569.1 788.2 570.5C787.1 571.9 784.7 572.4 783.2 573.6C781.8 574.9 780.4 576.4 779.5 578C778.6 579.6 778 581.3 777.6 583C777.2 584.7 777.2 586.3 777 588L762 588C761.4 585.5 760.3 582.6 760.1 580.5C759.9 578.4 760.2 577.4 760.8 575.5C761.3 573.6 762.5 571.3 763.2 569.2C764 567.2 764.7 565.2 765.1 563C765.5 560.8 766 558 765.8 556.1C765.5 554.2 765.1 552.9 763.9 551.8C762.6 550.6 760.2 550.3 758.2 549.2C756.3 548.2 753.7 546.8 752 545.5C750.3 544.2 749.2 543.4 748.2 541.8C747.3 540.1 745.8 537 746.4 535.5Z"/>
<path fill="#f08228" d="M733.2 485.5C732.4 488 731.2 490.5 730.8 493C730.3 495.5 730.1 498.6 730.5 500.5C730.9 502.4 731.8 503.3 733.2 504.2C734.8 505.2 737.4 505.5 739.5 506.1C741.6 506.8 744 507.1 745.8 508C747.5 508.9 749 510.3 750.1 511.8C751.3 513.2 751.7 515.3 752.6 516.8C753.6 518.2 754.2 519.6 755.8 520.5C757.3 521.4 759.3 522.1 762 522.4C764.7 522.6 768.9 522.1 772 522C775.1 521.9 778 522 780.8 521.8C783.5 521.5 786.2 520.9 788.2 520.5C790.3 520.1 791.8 519.2 793.2 519.2C794.7 519.2 796 519.7 797 520.5C798 521.3 798.7 523.4 799.5 524.2C800.3 525.1 801.2 525.1 802 525.5L802 485.5L733.2 485.5Z"/>
<path fill="#e6af2d" d="M763.2 501.5C763.2 500.5 764.1 499 765.1 498.2C766.2 497.5 768 496.8 769.5 497C771 497.2 772.8 498.3 773.9 499.2C774.9 500.2 775.9 501.7 775.8 502.8C775.6 503.8 774.4 505 773.2 505.5C772.1 506 770.2 505.8 768.9 505.5C767.5 505.2 766.1 504.7 765.1 504C764.2 503.3 763.2 502.5 763.2 501.5Z"/>
</g>
<g clip-path="url(#t38)" shape-rendering="crispEdges">
<rect x="800" y="488" width="128" height="96" fill="#fa3c3c"/>
<path fill="#f08228" d="M797.5 485.5L930 485.5L930 510.8C927.5 510.8 925 510.8 922.5 510.8C920 510.7 917.1 510.9 915 510.2C912.9 509.6 911.7 508.2 910 506.8C908.3 505.3 906.7 503 905 501.8C903.3 500.5 901.9 499.7 900 499.2C898.1 498.8 895.8 498.8 893.8 499C891.7 499.2 889.6 499.7 887.5 500.5C885.4 501.3 883.3 502.4 881.2 503.6C879.2 504.9 876.9 507 875 508C873.1 509 872.5 509.6 870 509.9C867.5 510.1 862.9 509.6 860 509.5C857.1 509.4 854.8 509.2 852.5 509C850.2 508.8 848.5 508 846.2 508C844 508 841.2 508.6 838.8 509C836.2 509.4 833 509.7 831.2 510.5C829.5 511.3 828.3 512.5 828.1 513.6C827.9 514.8 829.1 516 830 517.4C830.9 518.7 832.9 520.3 833.8 521.8C834.6 523.2 835.4 524.7 835 526.1C834.6 527.6 832.4 529.4 831.2 530.5C830.1 531.6 829.3 532.8 828.1 532.8C827 532.8 825.9 530.9 824.4 530.5C822.8 530.1 820.9 530.6 818.8 530.5C816.6 530.4 813.5 530.4 811.2 529.9C809 529.4 806.9 528.1 805 527.4C803.1 526.7 801.2 526.1 800 525.8C798.8 525.4 798.3 525.6 797.5 525.5L797.5 485.5Z"/>
<ellipse fill="#f00082" cx="890.5" cy="537.1" rx="5.5" ry="5"/>
<path fill="#f08228" d="M869 574L872.5 573L876 573.2L875 577L871.9 575.5Z"/>
<path fill="#f00082" d="M914 578.2L916.2 577L918.5 579L916.9 581.1L914.8 580.2Z"/>
</g>
<g clip-path="url(#t39)" shape-rendering="crispEdges">
<rect x="928" y="488" width="96" height="96" fill="#fa3c3c"/>
<path fill="#f08228" d="M893.5 485.5L979.8 485.5L979.8 503C976.8 503.6 974.1 504.2 971 504.9C967.9 505.5 964.8 506.1 961 506.8C957.2 507.4 952.7 508 948.5 508.6C944.3 509.3 940 510.4 936 510.8C932 511.1 928.1 511 924.8 511C921.4 511 918.3 511.2 916 510.8C913.7 510.2 912.7 509.3 911 508C909.3 506.7 907.7 504.3 906 503C904.3 501.7 902.7 500.9 901 500.2C899.3 499.6 897.2 499.3 896 499C894.8 498.7 894.3 498.8 893.5 498.6L893.5 485.5Z"/>
<path fill="#f08228" d="M943.2 547.4C942.3 546.4 944.9 543.1 946.6 541.8C948.3 540.4 950.9 539.7 953.5 539C956.1 538.3 959.8 537.4 962.2 537.4C964.7 537.3 967.2 538 968.2 538.6C969.3 539.2 969.3 540.3 968.5 541.1C967.7 542 965.2 542.8 963.5 543.6C961.8 544.5 960.4 545.4 958.5 546.1C956.6 546.8 954.8 547.5 952.2 547.8C949.7 548 944.2 548.4 943.2 547.4Z"/>
</g>
<g clip-path="url(#t40)" shape-rendering="crispEdges">
<rect x="32" y="584" width="128" height="96" fill="#e6af2d"/>
<path fill="#e6dc32" d="M39.5 600.2L116 600.2L116 581.5L122 581.5C121.8 584 121.1 586.7 121.4 589C121.7 591.3 122.9 593.2 123.9 595.2C124.8 597.3 126.1 599.2 127 601.5C127.9 603.8 128.9 606.5 129.5 609C130.1 611.5 130.8 614 130.8 616.5C130.8 619 130.4 622 129.5 624C128.6 626 126.8 627.6 125.1 628.4C123.5 629.2 121.3 629.1 119.5 628.8C117.7 628.4 116 627.5 114.5 626.5C113 625.5 112 624 110.8 622.8C109.5 621.5 108.5 619.9 107 619C105.5 618.1 103.7 617.8 102 617.1C100.3 616.5 98.7 616 97 615.2C95.3 614.5 93.7 613.7 92 612.8C90.3 611.8 88.9 610.5 87 609.6C85.1 608.8 82.8 608.3 80.8 607.8C78.7 607.2 76.6 606.8 74.5 606.2C72.4 605.7 70.3 605.1 68.2 604.6C66.2 604.1 64.1 603.4 62 603.4C59.9 603.4 57.6 604.1 55.8 604.6C53.9 605.1 52.4 605.9 50.8 606.5C49.1 607.1 47.6 607.9 45.8 608.4C43.9 608.9 41.6 609.2 39.5 609.6L39.5 600.2Z"/>
<path fill="#e6dc32" d="M61.4 595.2L64.8 595.2L64.8 601.2L61.4 601.2Z"/>
<path fill="#ffffff" d="M39.5 581.5L116 581.5L116 601.2L112 601.2L112 606.5L107 606.5L107 612.1L92.6 612.1L92.6 606.2L78.9 606.2L78.9 601.2L64.8 601.2L64.8 595.2L61.4 595.2L61.4 601.2L50.8 601.2L50.8 606.2L39.5 606.2Z"/>
<path fill="#f08228" d="M39.5 624C42 623.6 44.5 623.2 47 622.8C49.5 622.3 52 621.9 54.5 621.5C57 621.1 59.5 620.5 62 620.2C64.5 620 67.4 619.6 69.5 620C71.6 620.4 72.9 621.7 74.5 622.8C76.1 623.8 77.4 625.5 78.9 626.5C80.3 627.5 82.3 627.5 83.2 629C84.2 630.5 84.4 633.2 84.5 635.2C84.6 637.3 83.7 639.4 83.9 641.5C84.1 643.6 84.6 646.3 85.8 647.8C86.9 649.2 88.9 649.6 90.8 650.2C92.6 650.9 94.9 650.9 97 651.5C99.1 652.1 101.6 652.5 103.2 654C104.9 655.5 105.8 658.2 107 660.2L39.5 660.2L39.5 624Z"/>
<path fill="#f08228" d="M140.8 581.5C142 584 143.6 586.3 144.5 589C145.4 591.7 146.3 594.8 146.4 597.8C146.5 600.7 145.5 603.6 145.1 606.5C144.7 609.4 144.4 612.3 143.9 615.2C143.4 618.2 142.5 620.9 142 624C141.5 627.1 141.1 630.7 140.8 634C140.4 637.3 140.2 639.6 140.1 644C140 648.4 140.1 654.8 140.1 660.2L162 660.2L162 581.5L140.8 581.5Z"/>
<path fill="#fa3c3c" d="M162 607.8C160.8 609.4 159.3 610.7 158.2 612.8C157.2 614.8 156.4 617.5 155.8 620.2C155.1 623 154.7 625.9 154.5 629C154.3 632.1 154.6 635.7 154.5 639C154.4 642.3 154 645.5 153.9 649C153.8 652.5 153.9 656.5 153.9 660.2L162 660.2L162 607.8Z"/>
</g>
<g clip-path="url(#t41)" shape-rendering="crispEdges">
<rect x="160" y="584" width="128" height="96" fill="#e6af2d"/>
<path fill="#f08228" d="M157.5 581.5L187.8 581.5C188.4 583 188.6 584.6 189.8 586C190.9 587.4 192.9 588.5 194.8 589.8C196.6 591 198.7 592 201 593.5C203.3 595 206 596.4 208.5 598.5C211 600.6 214.1 603.5 216 606C217.9 608.5 218.9 610.9 219.8 613.5C220.6 616.1 221.1 619.1 221.2 621.5C221.4 623.9 221.2 625.7 220.6 627.8C220 629.8 218.9 632.2 217.5 634C216.1 635.8 214.1 637.1 212.5 638.4C210.9 639.6 209.4 640.4 208.1 641.5C206.9 642.6 205.7 643.6 205 645.2C204.3 646.9 203.9 649 203.8 651.5C203.6 654 204.2 657.3 204.4 660.2L157.5 660.2L157.5 581.5Z"/>
<path fill="#fa3c3c" d="M157.5 600.2C159.2 599.2 160.6 598 162.5 597.1C164.4 596.3 166.7 595.5 168.8 595.2C170.8 595 172.9 595.2 175 595.9C177.1 596.5 179.2 597.9 181.2 599C183.3 600.1 185.2 601.4 187.5 602.8C189.8 604.1 192.5 605.9 195 607.1C197.5 608.4 200.2 609.2 202.5 610.2C204.8 611.3 207.1 611.9 208.8 613.4C210.4 614.8 211.9 616.8 212.5 619C213.1 621.2 212.9 624.3 212.5 626.5C212.1 628.7 211.2 630.5 210 632.1C208.8 633.8 206.9 635.1 205 636.5C203.1 637.9 200.6 639 198.8 640.2C196.9 641.5 195.2 642.8 193.8 644C192.3 645.2 191.1 647.5 190 647.8C188.9 648 187.8 645.1 186.9 645.2C185.9 645.4 184.4 647.3 184.4 648.4C184.4 649.4 185.7 650.9 186.9 651.5C188 652.1 190.1 650.7 191.2 652.1C192.4 653.6 192.9 657.5 193.8 660.2L157.5 660.2L157.5 600.2Z"/>
<path fill="#f08228" d="M212.5 660.2C213.3 658.2 213.8 655.6 215 654C216.2 652.4 218.1 651.5 220 650.9C221.9 650.2 224.2 650 226.2 650.2C228.3 650.5 230.2 651.6 232.5 652.1C234.8 652.6 237.5 653.1 240 653.4C242.5 653.7 246.2 652.9 247.5 654C248.8 655.1 247.5 658.2 247.5 660.2L212.5 660.2Z"/>
<path fill="#e6dc32" d="M228.1 634C228.3 632.5 228.9 631.2 230 630.2C231.1 629.3 233.1 628.9 235 628.4C236.9 627.9 239.4 627.9 241.2 627.1C243.1 626.4 244.8 624.3 246.2 624C247.7 623.7 249 624.2 250 625.2C251 626.3 252.2 628.7 252.5 630.2C252.8 631.8 252.7 633.5 251.9 634.6C251 635.8 249.3 636.5 247.5 637.1C245.7 637.8 243.1 637.9 241.2 638.4C239.4 638.9 237.8 639.7 236.2 640.2C234.7 640.8 233.1 641.7 231.9 641.5C230.6 641.3 229.4 640.2 228.8 639C228.1 637.8 227.9 635.5 228.1 634Z"/>
<path fill="#e6dc32" d="M227.5 581.5C227.7 584.8 227.7 588.6 228.1 591.5C228.5 594.4 229.1 596.7 230 599C230.9 601.3 232.5 603 233.8 605.2C235 607.5 236.2 610.2 237.5 612.8C238.8 615.2 239.8 618.4 241.2 620.2C242.7 622.1 244 623.1 246.2 624C248.5 624.9 251.7 625.5 255 625.9C258.3 626.3 262.9 626.2 266.2 626.5C269.6 626.8 272.7 627.2 275 627.8C277.3 628.3 278.3 629 280 629.6C281.7 630.2 283.3 630.9 285 631.5C286.7 632.1 288.3 632.8 290 633.4L290 581.5L227.5 581.5Z"/>
<path fill="#ffffff" d="M233.1 581.5L246.9 581.5L246.9 589.6L251.2 589.6L251.2 581.5L290 581.5L290 600.9L270 600.9L270 605.9L290 605.9L290 617.1L284.4 617.1L284.4 627.8L275 627.8L275 622.8L241.9 622.8L241.9 612.1L237.2 612.1L237.2 601.5L233.1 601.5Z"/>
</g>
<g clip-path="url(#t42)" shape-rendering="crispEdges">
<rect x="288" y="584" width="128" height="96" fill="#ffffff"/>
<path fill="#e6dc32" d="M285.5 600.9L298 600.9L298 581.5L363 581.5L363 584.6L368 584.6L368 589.6L372.4 589.6L372.4 595.2L377 595.2L377 606.2L381.8 606.2L381.8 617.1L386.1 617.1L386.1 622.8L390.8 622.8L390.8 628L395.8 628L395.8 639L409.9 639L409.9 660.2L285.5 660.2Z"/>
<path fill="#ffffff" d="M285.5 606.2L289.2 606.2L289.2 617.1L285.5 617.1Z"/>
<path fill="#e6af2d" d="M285.5 628.4C286.8 627.3 288 626.6 289.2 625.2C290.5 623.9 291.8 622 293 620.2C294.2 618.5 295.5 616.5 296.8 614.6C298 612.8 299.4 610.4 300.5 609C301.6 607.6 302.4 606.4 303.6 606.2C304.9 606.1 306.4 607.2 308 608.4C309.6 609.6 311.4 611.9 313 613.4C314.6 614.8 316.4 617.4 317.4 617.1C318.3 616.8 318.5 613.9 318.6 611.5C318.7 609.1 317.5 605.5 318 602.8C318.5 600 320.5 597.2 321.8 595.2C323 593.3 324.1 591.9 325.5 590.9C326.9 589.8 328.7 588.7 329.9 589C331 589.3 331.6 591.3 332.4 592.8C333.1 594.2 333.6 597.4 334.2 597.8C334.9 598.1 335.3 595.6 336.1 594.6C337 593.7 337.9 592.2 339.2 592.1C340.6 592 342.4 593.3 344.2 594C346.1 594.7 348.6 595.9 350.5 596.5C352.4 597.1 354 596.9 355.5 597.8C357 598.6 358 600.9 359.2 601.5C360.5 602.1 361.5 600.7 363 601.5C364.5 602.3 366.3 604.6 368 606.5C369.7 608.4 371.3 610.7 373 612.8C374.7 614.8 376.1 616.9 378 619C379.9 621.1 382.4 623.4 384.2 625.2C386.1 627.1 387.6 628.8 389.2 630.2C390.9 631.7 392.8 632.5 394.2 634C395.7 635.5 397 637.5 398 639C399 640.5 399.7 641.3 400.5 642.8C401.3 644.2 402.1 646.2 403 647.8C403.9 649.3 405.3 650 406.1 652.1C407 654.2 407.4 657.5 408 660.2L285.5 660.2L285.5 628.4Z"/>
<path fill="#e6dc32" d="M323 610.9C323.1 609.4 323.4 607.2 324.2 605.9C325.1 604.6 326.9 603.5 328 603C329.1 602.5 330.2 602.3 331.1 602.8C332.1 603.2 333 604.6 333.6 605.9C334.2 607.1 334.9 608.7 334.9 610.2C334.9 611.8 334.5 614 333.6 615.2C332.8 616.5 331.2 617.6 329.9 618C328.5 618.4 326.5 618.1 325.5 617.5C324.5 616.9 324 615.7 323.6 614.6C323.2 613.5 322.9 612.3 323 610.9Z"/>
<path fill="#f08228" d="M316.1 660.2C315.5 656.5 314.5 652.1 314.2 649C314 645.9 314 643.2 314.9 641.5C315.7 639.8 317.5 639.5 319.2 639C321 638.5 323.6 639.1 325.5 638.4C327.4 637.6 328.9 635.5 330.5 634.6C332.1 633.7 333.2 633 334.9 633C336.5 633 338.5 634.4 340.5 634.6C342.5 634.9 344.7 634.6 346.8 634.6C348.8 634.6 350.9 634.2 353 634.6C355.1 635 357.2 636.3 359.2 637.1C361.3 638 363.4 639.1 365.5 639.6C367.6 640.1 370.1 640.6 371.8 640.2C373.4 639.9 374.2 637.9 375.5 637.5C376.8 637.1 377.8 637.2 379.2 637.8C380.7 638.3 382.6 639.6 384.2 640.9C385.9 642.1 387.8 643.7 389.2 645.2C390.7 646.8 391.8 648.8 393 650.2C394.2 651.7 395.9 652.3 396.8 654C397.6 655.7 397.6 658.2 398 660.2L316.1 660.2Z"/>
</g>
<g clip-path="url(#t43)" shape-rendering="crispEdges">
<rect x="416" y="584" width="128" height="96" fill="#ffffff"/>
<path fill="#e6dc32" d="M512.2 581.5L512.2 590.2L521.6 590.2L521.6 606.2L517.2 606.2L517.2 628L507.9 628L507.9 639L503.1 639L503.1 660.2L546 660.2L546 581.5Z"/>
<path fill="#e6af2d" d="M514.1 581.5C514.3 583.6 513.8 586.4 514.8 587.8C515.7 589.1 518.3 589.2 519.8 589.6C521.2 590 522.6 589.3 523.5 590.2C524.4 591.2 525.2 593.4 525.4 595.2C525.6 597.1 525.3 599.6 524.8 601.5C524.2 603.4 523 604.6 522.2 606.5C521.5 608.4 520.8 610.5 520.4 612.8C520 615 520.2 618 519.8 620.2C519.3 622.5 518.9 624.8 517.9 626.5C516.8 628.2 514.6 628.8 513.5 630.2C512.4 631.7 511.7 633.6 511 635.2C510.3 636.9 509.9 638.8 509.1 640.2C508.4 641.7 507.2 642.3 506.6 644C506 645.7 505.6 647.5 505.4 650.2C505.2 653 505.4 656.9 505.4 660.2L546 660.2L546 581.5L514.1 581.5Z"/>
<path fill="#f08228" d="M522.2 581.5C523.5 583.6 525 585.7 526 587.8C527 589.8 528 591.9 528.5 594C529 596.1 529.1 598.2 529.1 600.2C529.1 602.3 529 604.4 528.5 606.5C528 608.6 526.8 610.5 526 612.8C525.2 615 524.5 618 523.5 620.2C522.5 622.5 521 624.6 519.8 626.5C518.5 628.4 517 629.8 516 631.5C515 633.2 514.3 634.8 513.5 636.5C512.7 638.2 511.8 639.8 511 641.5C510.2 643.2 509 644.6 508.5 646.5C508 648.4 507.9 650.5 507.9 652.8C507.9 655 508.3 657.8 508.5 660.2L546 660.2L546 581.5L522.2 581.5Z"/>
<path fill="#fa3c3c" d="M546 594.6C544.3 595 542.5 595.1 541 595.9C539.5 596.6 538.3 597.6 537.2 599C536.2 600.4 535.4 602.1 534.8 604C534.1 605.9 533.9 608.2 533.5 610.2C533.1 612.3 533.1 614.4 532.2 616.5C531.4 618.6 529.8 620.9 528.5 622.8C527.2 624.6 526 626.3 524.8 627.8C523.5 629.2 522.2 630.2 521 631.5C519.8 632.8 518.4 633.9 517.2 635.2C516.1 636.6 515 638 514.1 639.6C513.3 641.3 512.6 643.1 512.2 645.2C511.9 647.4 512.1 650.2 512.2 652.8C512.4 655.2 512.7 657.8 512.9 660.2L546 660.2L546 594.6Z"/>
<path fill="#f00082" d="M546 636.5C544.8 636.1 543.3 635.8 542.2 635.2C541.2 634.7 540.6 633.4 539.8 633.4C538.9 633.4 538.2 635.2 537.2 635.2C536.3 635.2 535.2 634 534.1 633.4C533.1 632.8 531.9 631.5 531 631.5C530.1 631.5 529.3 632.5 528.5 633.4C527.7 634.2 526.8 635.1 526 636.5C525.2 637.9 524.3 639.8 523.5 641.5C522.7 643.2 521.8 644.8 521 646.5C520.2 648.2 518.7 650 518.5 651.5C518.3 653 519.2 653.8 519.8 655.2C520.3 656.7 521 658.6 521.6 660.2L546 660.2L546 636.5Z"/>
</g>
<g clip-path="url(#t44)" shape-rendering="crispEdges">
<rect x="544" y="584" width="128" height="96" fill="#fa3c3c"/>
<path fill="#f08228" d="M541.5 581.5L569 581.5C567.8 583 566.9 584.7 565.2 585.9C563.6 587 561.3 587.5 559 588.4C556.7 589.2 554 590 551.5 590.9C549 591.7 545.7 592.9 544 593.4C542.3 593.9 542.3 593.8 541.5 594L541.5 581.5Z"/>
<path fill="#f00082" d="M568.4 607.1C568.7 606 569.9 605.1 571.5 604C573.1 602.9 575.9 601.5 577.8 600.2C579.6 599 581.4 598 582.8 596.5C584.1 595 584.6 593 585.9 591.5C587.1 590 588.7 588.6 590.2 587.8C591.8 586.9 593.8 586 595.2 586.2C596.7 586.5 598.3 587.8 599 589C599.7 590.2 600 592 599.6 593.4C599.2 594.7 597.9 595.8 596.5 597.1C595.1 598.5 593.4 599.9 591.5 601.5C589.6 603.1 587.3 605.1 585.2 606.5C583.2 607.9 581 608.6 579 609.6C577 610.6 574.9 612.3 573.4 612.5C571.8 612.7 570.5 611.8 569.6 610.9C568.8 610 568.1 608.3 568.4 607.1Z"/>
<path fill="#f08228" d="M607.1 581.5C608.2 584 609.2 586.5 610.2 589C611.3 591.5 612.5 594 613.4 596.5C614.2 599 614.8 601.5 615.2 604C615.7 606.5 616.1 609.2 615.9 611.5C615.7 613.8 614.5 615.7 614 617.8C613.5 619.8 613.2 621.9 612.8 624C612.3 626.1 611.9 628.2 611.5 630.2C611.1 632.3 610.6 634.4 610.2 636.5C609.9 638.6 610.5 641.3 609.6 642.8C608.8 644.2 607 644.5 605.2 645.2C603.5 646 601.1 646.6 599 647.1C596.9 647.6 594.8 648.3 592.8 648.4C590.7 648.5 588.4 648.5 586.5 647.8C584.6 647 583.2 645.1 581.5 644C579.8 642.9 578.4 641.5 576.5 640.9C574.6 640.2 572.3 639.9 570.2 640C568.2 640.1 565.9 640.6 564 641.5C562.1 642.4 560.2 643.8 559 645.2C557.8 646.7 557 647.8 556.5 650.2C556 652.8 556.1 656.9 555.9 660.2L647.8 660.2C648.2 657.3 648.5 654.4 649 651.5C649.5 648.6 650.5 645.7 650.9 642.8C651.3 639.8 651.5 636.9 651.5 634C651.5 631.1 651.2 628.2 650.9 625.2C650.6 622.3 650.1 619.4 649.6 616.5C649.1 613.6 648.2 610.7 647.8 607.8C647.3 604.8 647.2 601.9 647.1 599C647 596.1 647.2 593.2 647.1 590.2C647 587.3 646.7 584.4 646.5 581.5L607.1 581.5Z"/>
<path fill="#f00082" d="M652.8 581.5C653.2 584.8 653.5 588.4 654 591.5C654.5 594.6 655.2 597.3 655.9 600.2C656.5 603.2 657.3 605.9 657.8 609C658.2 612.1 658.2 615.5 658.4 619C658.6 622.5 658.8 626.5 659 630.2C659.2 634 659.4 636.5 659.6 641.5C659.8 646.5 660 654 660.2 660.2L674 660.2L674 581.5L652.8 581.5Z"/>
<path fill="#e6af2d" d="M617.1 600.2C617.4 598.2 617.9 596.5 619 595.2C620.1 594 622.1 593.6 624 592.8C625.9 591.9 628.6 591.2 630.2 590.2C631.9 589.3 632.6 587.8 634 587.1C635.4 586.5 637 586 638.4 586.2C639.7 586.5 641.3 587.1 642.1 588.4C643 589.7 643.2 592 643.4 594C643.6 596 643.2 598 643.4 600.2C643.6 602.5 644.1 605.2 644.6 607.8C645.1 610.2 646.3 612.8 646.5 615.2C646.7 617.8 646.3 620.2 645.9 622.8C645.5 625.2 644.7 628 644 630.2C643.3 632.5 642.2 634.4 641.5 636.5C640.8 638.6 640.1 640.7 639.6 642.8C639.1 644.8 638.7 646.1 638.4 649C638.1 651.9 638 656.5 637.8 660.2L625.9 660.2C625.7 657.3 625.6 654.2 625.2 651.5C624.9 648.8 624 646.5 624 644C624 641.5 625.2 639.2 625.2 636.5C625.2 633.8 624.6 630.5 624 627.8C623.4 625 622.3 622.5 621.5 620.2C620.7 618 619.7 616.1 619 614C618.3 611.9 617.4 610 617.1 607.8C616.8 605.5 616.8 602.3 617.1 600.2Z"/>
<path fill="#e6dc32" d="M625.9 627.1C626.9 625.8 629.7 626.2 631.5 625.9C633.3 625.6 635.5 624.7 636.5 625.2C637.5 625.8 637.8 627.5 637.8 629C637.8 630.5 637 632.3 636.5 634C636 635.7 635 637.1 634.6 639C634.2 640.9 634.5 643.8 634 645.2C633.5 646.7 632.8 647.3 631.5 647.8C630.2 648.2 627.5 648.6 626.5 647.8C625.5 646.9 625.5 645 625.2 642.8C625 640.5 625.1 636.6 625.2 634C625.4 631.4 624.8 628.5 625.9 627.1Z"/>
<path fill="#ffffff" d="M625.9 627.8L633 627.8L633 644L625.9 644Z"/>
</g>
<g clip-path="url(#t45)" shape-rendering="crispEdges">
<rect x="672" y="584" width="128" height="96" fill="#fa3c3c"/>
<path fill="#f00082" d="M669.5 581.5L710.8 581.5C710.3 584 710.5 586.7 709.5 589C708.5 591.3 706 593.2 704.5 595.2C703 597.3 701.8 599.4 700.8 601.5C699.7 603.6 698.8 605.7 698.2 607.8C697.7 609.8 698.2 612.1 697.6 614C697 615.9 695.6 617.3 694.5 619C693.4 620.7 691.8 622.1 690.8 624C689.7 625.9 689.3 628 688.2 630.2C687.2 632.5 685.6 635.2 684.5 637.8C683.4 640.2 682.2 643 681.4 645.2C680.5 647.5 680.2 649 679.5 651.5C678.8 654 677.8 657.3 677 660.2L669.5 660.2L669.5 581.5Z"/>
<path fill="#fa3c3c" d="M688.5 581.5L694 581.5L693.5 584.8L689.5 584.8Z"/>
<path fill="#f00082" d="M763.9 581.5C764.9 582.8 765.6 584.6 767 585.2C768.4 585.9 770.5 585.9 772 585.2C773.5 584.6 774.5 582.8 775.8 581.5L763.9 581.5Z"/>
<path fill="#f08228" d="M758.9 660.2C759.1 656.9 759 653 759.5 650.2C760 647.5 760.8 645.9 762 644C763.2 642.1 765.1 640.4 767 639C768.9 637.6 771 636.5 773.2 635.9C775.5 635.2 778.2 635.1 780.8 635C783.2 634.9 785.9 635 788.2 635.2C790.6 635.5 793.5 636.4 795.1 636.2C796.8 636.1 797.1 635.1 798.2 634.6C799.4 634.1 800.8 633.8 802 633.4L802 660.2L758.9 660.2Z"/>
</g>
<g clip-path="url(#t46)" shape-rendering="crispEdges">
<rect x="800" y="584" width="128" height="96" fill="#fa3c3c"/>
<path fill="#f08228" d="M797.5 633.4C799.6 632.7 801.5 631.8 803.8 631.2C806 630.7 808.5 630.3 811.2 630C814 629.7 817.3 630.1 820 629.6C822.7 629.1 825.2 628.2 827.5 627.1C829.8 626.1 831.7 624.5 833.8 623.4C835.8 622.2 837.7 621 840 620.2C842.3 619.5 844.8 619.2 847.5 618.8C850.2 618.3 853.3 617.7 856.2 617.5C859.2 617.3 862.3 617.5 865 617.8C867.7 618 870.4 618.1 872.5 618.8C874.6 619.4 876 620.3 877.5 621.5C879 622.7 880.4 624.3 881.2 625.9C882.1 627.4 882.6 629.1 882.5 630.9C882.4 632.6 881.5 634.7 880.6 636.5C879.8 638.3 878.4 639.7 877.5 641.5C876.6 643.3 875.7 645.2 875 647.1C874.3 649 873.5 650.6 873.1 652.8C872.8 654.9 872.9 657.8 872.8 660.2L797.5 660.2L797.5 633.4Z"/>
<path fill="#f08228" d="M841.9 595L848.1 595L848.1 596L841.9 596Z"/>
<path fill="#f08228" d="M930 600.2C928.8 601.1 927 601.3 926.2 602.8C925.5 604.2 926.1 607.4 925.6 609C925.1 610.6 924.5 611.4 923.1 612.1C921.8 612.9 919.5 613 917.5 613.4C915.5 613.8 913 613.8 911.2 614.6C909.5 615.5 908 616.9 906.9 618.4C905.7 619.8 904.8 621.4 904.4 623.4C904 625.4 904.2 628.1 904.4 630.2C904.6 632.4 905.3 634.4 905.6 636.5C905.9 638.6 905.9 641 906.2 642.8C906.6 644.5 906.7 646.1 907.5 647.1C908.3 648.1 910 648.8 911.2 648.8C912.5 648.8 913.8 647.9 915 647.1C916.2 646.3 917.3 645 918.8 644C920.2 643 921.9 641.7 923.8 640.9C925.6 640 927.9 639.6 930 639L930 600.2Z"/>
<path fill="#e6af2d" d="M911.9 632.5C911.9 631.8 913.4 630.8 914.4 630.5C915.3 630.2 916.7 630.1 917.5 630.5C918.3 630.9 919 632 919 632.8C919 633.5 918.3 634.6 917.5 635C916.7 635.4 915.3 635.4 914.4 635C913.4 634.6 911.9 633.2 911.9 632.5Z"/>
<path fill="#f08228" d="M889 649.2L895 648L903.1 649L898.1 650.9L893.8 653Z"/>
</g>
<g clip-path="url(#t47)" shape-rendering="crispEdges">
<rect x="928" y="584" width="96" height="96" fill="#fa3c3c"/>
<path fill="#f08228" d="M979.8 600.2C976.8 600.2 973.7 600.3 971 600C968.3 599.7 965.6 599.2 963.5 598.4C961.4 597.6 960.2 596.5 958.5 595.2C956.8 594 955.2 592 953.5 590.9C951.8 589.7 950.4 588.7 948.5 588.4C946.6 588 944.1 588.2 942.2 588.8C940.4 589.3 938.9 590.3 937.2 591.5C935.6 592.7 933.9 594.4 932.2 595.9C930.6 597.3 928.3 598.7 927.2 600.2C926.2 601.8 926.3 603.6 926 605.2C925.7 606.9 926 608.9 925.4 610.2C924.8 611.6 923.8 612.8 922.2 613.4C920.7 614 918.1 613.6 916 614C913.9 614.4 911.4 614.8 909.8 615.9C908.1 616.9 906.9 618.7 906 620.2C905.1 621.8 904.7 623 904.5 625.2C904.3 627.5 904.8 631.1 905 634C905.2 636.9 905.5 640.5 906 642.8C906.5 645 906.8 646.8 907.9 647.8C908.9 648.7 910.7 648.8 912.2 648.4C913.8 648 915.4 646.5 917.2 645.2C919.1 644 921.4 641.8 923.5 640.9C925.6 640 927.5 640 929.8 640C932 640 935 640.7 937.2 640.9C939.5 641 941.8 640.4 943.5 640.9C945.2 641.4 946.8 642.8 947.2 644C947.7 645.2 945.8 647.2 946 648.4C946.2 649.5 947 650.2 948.5 650.9C950 651.6 952.5 652.4 954.8 652.5C957 652.6 959.8 652 962.2 651.5C964.8 651 967.5 650.2 969.8 649.6C972 649 974.3 648.2 976 647.8C977.7 647.3 978.5 647.3 979.8 647.1L979.8 600.2Z"/>
</g>
<g clip-path="url(#t0)">
<path fill="none" stroke="#000000" stroke-width="1.25" stroke-linejoin="round" stroke-linecap="round" d="M45.8 120C47.2 119.5 52 118.1 54.5 117.1C57 116.1 59 114.8 60.8 114C62.5 113.2 64.4 112.8 65.1 112.5"/>
<path fill="none" stroke="#000000" stroke-width="1.25" stroke-linejoin="round" stroke-linecap="round" d="M162 167.1C160.3 168.8 154.7 174 152 177.1C149.3 180.2 147.6 183.8 145.8 185.9C143.9 188 143 188.5 140.8 189.6C138.5 190.7 134.7 191.5 132 192.5C129.3 193.5 127 194.5 124.5 195.9C122 197.3 118.2 200 117 200.9"/>
</g>
<g clip-path="url(#t1)">
<path fill="none" stroke="#000000" stroke-width="1.25" stroke-linejoin="round" stroke-linecap="round" d="M158.8 169.8C160.2 168.8 164.4 165.9 167.5 164C170.6 162.1 173.5 160.1 177.5 158.4C181.5 156.6 186.7 155.1 191.2 153.4C195.8 151.6 201.5 149.3 205 147.8C208.5 146.2 209.6 145.7 212.5 144C215.4 142.3 219.2 139.9 222.5 137.8C225.8 135.6 229.6 133 232.5 130.9C235.4 128.8 237.5 127.3 240 125.2C242.5 123.2 244.9 120.5 247.5 118.4C250.1 116.2 254.3 113.3 255.6 112.2"/>
</g>
<g clip-path="url(#t2)">
<path fill="none" stroke="#000000" stroke-width="1.25" stroke-linejoin="round" stroke-linecap="round" d="M418 168.4C416.3 169.3 411.3 171.8 408 174C404.7 176.2 401.3 179.3 398 181.5C394.7 183.7 391.8 185.2 388 187.1C384.2 189 379.7 191.1 375.5 192.8C371.3 194.4 366.5 195.8 363 197.1C359.5 198.5 355.7 200.2 354.2 200.9"/>
</g>
<g clip-path="url(#t3)">
<path fill="none" stroke="#000000" stroke-width="1.25" stroke-linejoin="round" stroke-linecap="round" d="M414.8 170C416.2 169 420.8 165.7 423.5 164C426.2 162.3 428.5 160.8 431 159.6C433.5 158.5 435.6 157.9 438.5 157.1C441.4 156.4 445.4 155.9 448.5 155.2C451.6 154.6 454.3 154.3 457.2 153.4C460.2 152.4 463.5 151 466 149.6C468.5 148.3 470.2 147 472.2 145.2C474.3 143.5 476.2 141.3 478.5 139C480.8 136.7 483.5 133.7 486 131.5C488.5 129.3 491 127.4 493.5 125.9C496 124.3 498.1 123.3 501 122.1C503.9 121 508.3 120 511 119C513.7 118 515.6 117 517.2 115.9C518.9 114.8 520.2 112.9 520.8 112.2"/>
</g>
<g clip-path="url(#t6)">
<path fill="none" stroke="#000000" stroke-width="1.25" stroke-linejoin="round" stroke-linecap="round" d="M928.8 141.5C927.1 142.3 921.9 144.7 918.8 146.5C915.6 148.3 913.1 150 910 152.1C906.9 154.2 903.3 156.6 900 159C896.7 161.4 893.1 164 890 166.5C886.9 169 883.8 171.5 881.2 174C878.8 176.5 877.1 178.8 875 181.5C872.9 184.2 871.1 187 868.8 190.2C866.4 193.5 862 199.1 860.6 200.9"/>
</g>
<g clip-path="url(#t7)">
<path fill="none" stroke="#000000" stroke-width="1.25" stroke-linejoin="round" stroke-linecap="round" d="M896 162.8C897.2 161.7 900.8 158.7 903.5 156.5C906.2 154.3 909.3 151.6 912.2 149.6C915.2 147.6 917.9 146.3 921 144.6C924.1 143 927.7 141.3 931 139.6C934.3 138 937.7 136.3 941 134.6C944.3 133 948.1 131.3 951 129.6C953.9 128 956 126.4 958.5 124.6C961 122.9 963.7 120.6 966 119C968.3 117.4 970.3 116.4 972.2 115.2C974.2 114.1 976.6 112.8 977.5 112.2"/>
</g>
<g clip-path="url(#t8)">
<path fill="none" stroke="#000000" stroke-width="1.25" stroke-linejoin="round" stroke-linecap="round" d="M118.2 198.8C117.2 199.8 114.5 203.1 112 205C109.5 206.9 106.2 208.3 103.2 210C100.3 211.7 97.4 213.1 94.5 215C91.6 216.9 88.5 219.4 85.8 221.2C83 223.1 81 224.7 78.2 226.2C75.5 227.8 71 229.9 69.5 230.6"/>
</g>
<g clip-path="url(#t9)">
<path fill="none" stroke="#000000" stroke-width="1.25" stroke-linejoin="round" stroke-linecap="round" d="M288.8 228.1C287.8 228.4 284.8 229.2 283.1 230C281.5 230.8 280.1 231.7 278.8 233.1C277.4 234.6 275.9 236.6 275 238.8C274.1 240.9 273.9 243.9 273.1 246.2C272.4 248.6 272 251.5 270.6 253.1C269.3 254.8 267.6 255.2 265 256.2C262.4 257.3 258.1 258.5 255 259.4C251.9 260.2 249.9 261 246.2 261.5C242.6 262 237.7 262.2 233.1 262.5C228.5 262.8 222.6 262.6 218.8 263.1C214.9 263.6 213.1 264.5 210 265.6C206.9 266.8 203.3 268.4 200 270C196.7 271.6 193.3 273 190 275C186.7 277 183.1 279.6 180 281.9C176.9 284.2 174.1 286.2 171.2 288.8C168.4 291.2 164.5 295.5 163.1 296.9"/>
</g>
<g clip-path="url(#t10)">
<path fill="none" stroke="#000000" stroke-width="1.25" stroke-linejoin="round" stroke-linecap="round" d="M286.8 227.5C288.6 227.3 294 227 298 226.2C302 225.5 306.3 224.5 310.5 223.1C314.7 221.8 318.8 220.2 323 218.1C327.2 216 331.8 212.9 335.5 210.6C339.2 208.3 342 206.2 345.5 204.4C349 202.5 354.9 200.2 356.8 199.4"/>
</g>
<g clip-path="url(#t13)">
<path fill="none" stroke="#000000" stroke-width="1.25" stroke-linejoin="round" stroke-linecap="round" d="M800.8 260.6C799.9 261.1 797.6 262.3 795.8 263.8C793.9 265.2 791.4 267.5 789.5 269.4C787.6 271.2 786.2 273 784.5 275C782.8 277 781.4 279.4 779.5 281.2C777.6 283.1 775.3 284.6 773.2 286.2C771.2 287.9 769.2 289.5 767 291.2C764.8 293 761.3 295.9 760.1 296.9"/>
</g>
<g clip-path="url(#t14)">
<path fill="none" stroke="#000000" stroke-width="1.25" stroke-linejoin="round" stroke-linecap="round" d="M861.2 199.4C860.6 200.1 858.6 202.2 857.5 203.8C856.4 205.3 855.1 206.9 854.4 208.8C853.6 210.6 853.4 212.7 853.1 215C852.8 217.3 852.9 220.2 852.5 222.5C852.1 224.8 851.5 227.2 850.6 228.8C849.8 230.3 849.1 230.9 847.5 231.9C845.9 232.8 843.5 233.6 841.2 234.4C839 235.1 836.5 235.7 833.8 236.2C831 236.8 827.7 237 825 237.5C822.3 238 819.8 238.4 817.5 239.4C815.2 240.3 813 241.7 811.2 243.1C809.5 244.6 808.2 246.4 806.9 248.1C805.5 249.9 804.2 251.8 803.1 253.8C802.1 255.7 801.4 258.4 800.6 260C799.9 261.6 798.9 262.6 798.5 263.1"/>
</g>
<g clip-path="url(#t16)">
<path fill="none" stroke="#000000" stroke-width="1.25" stroke-linejoin="round" stroke-linecap="round" d="M160.8 297.9C159.7 298.4 156.8 299.4 154.5 301C152.2 302.6 149.5 305 147 307.2C144.5 309.5 142.2 311.9 139.5 314.8C136.8 317.6 133.5 321 130.8 324.1C128 327.2 125.3 330.5 123.2 333.5C121.2 336.5 120.1 339.5 118.2 342.2C116.4 345 114.3 347.6 112 349.8C109.7 351.9 107.2 353.4 104.5 355.4C101.8 357.4 98.5 359.3 95.8 361.6C93 363.9 90.8 366.5 88.2 369.1C85.8 371.7 83.2 374.6 80.8 377.2C78.2 379.9 75.5 382.7 73.2 384.8C71 386.8 68.6 388.3 67 389.8C65.4 391.2 64.4 392.7 63.9 393.2"/>
</g>
<g clip-path="url(#t17)">
<path fill="none" stroke="#000000" stroke-width="1.25" stroke-linejoin="round" stroke-linecap="round" d="M163.1 295C162.7 295.3 161.4 296.4 160.6 297C159.9 297.6 159.1 298.2 158.8 298.5"/>
</g>
<g clip-path="url(#t18)">
<path fill="none" stroke="#000000" stroke-width="1.25" stroke-linejoin="round" stroke-linecap="round" d="M416.8 327C415.3 327.4 410.7 328.2 408 329.1C405.3 330 403 331.1 400.5 332.2C398 333.4 395.7 334.8 393 336C390.3 337.2 387.2 338.4 384.2 339.8C381.3 341.1 378 342.7 375.5 344.1C373 345.6 371.1 346.7 369.2 348.5C367.4 350.3 365.8 352.7 364.2 354.8C362.7 356.8 361.3 359.1 359.9 361C358.4 362.9 357.3 364.5 355.5 366C353.7 367.5 351.5 368.4 349.2 369.8C347 371.1 344.2 372.5 341.8 374.1C339.2 375.8 336.8 377.7 334.2 379.8C331.8 381.8 328.9 384.4 326.8 386.6C324.6 388.9 322.1 392.1 321.1 393.2"/>
</g>
<g clip-path="url(#t19)">
<path fill="none" stroke="#000000" stroke-width="1.25" stroke-linejoin="round" stroke-linecap="round" d="M414.8 326.6C416.2 326.4 420.6 326 423.5 325.4C426.4 324.8 429.1 323.6 432.2 322.9C435.4 322.1 439.6 321.7 442.2 321C444.9 320.3 446.6 319.8 447.9 318.5C449.2 317.2 449.6 315.4 450 313.5C450.4 311.6 450.3 308.3 450.4 307.2"/>
<path fill="none" stroke="#000000" stroke-width="1.25" stroke-linejoin="round" stroke-linecap="round" d="M479.1 309.8C480 310.6 482.6 312.9 484.1 314.8C485.7 316.6 487.4 318.7 488.5 321C489.6 323.3 490 326 491 328.5C492 331 493.6 333.5 494.8 336C495.9 338.5 497.2 341 497.9 343.5C498.5 346 498.8 348.5 498.8 351C498.8 353.5 498.3 356 497.9 358.5C497.4 361 496.7 363.3 496 366C495.3 368.7 494.2 371.8 493.5 374.8C492.8 377.7 492.2 380.4 491.6 383.5C491.1 386.6 490.5 391.6 490.2 393.2"/>
</g>
<g clip-path="url(#t20)">
<path fill="none" stroke="#000000" stroke-width="1.25" stroke-linejoin="round" stroke-linecap="round" d="M672.8 332.6C671.3 332.8 666.7 333.5 664 333.5C661.3 333.5 658.6 332.8 656.5 332.9C654.4 333 652.5 333.2 651.5 334.1C650.5 335.1 650.7 337.1 650.2 338.5C649.8 339.9 650 340.9 649 342.2C648 343.6 645.9 345.5 644 346.6C642.1 347.8 639.7 348.4 637.8 349.1C635.8 349.9 633.4 350.1 632.1 351C630.9 351.9 631.1 353.5 630.2 354.8C629.4 356 628.6 357.2 627.1 358.5C625.7 359.8 623.1 360.7 621.5 362.2C619.9 363.8 619 365.9 617.8 367.9C616.5 369.9 615.5 372.2 614 374.1C612.5 376 610.9 377.6 609 379.1C607.1 380.7 605 382.1 602.8 383.5C600.5 384.9 598.3 385.8 595.2 387.2C592.2 388.7 586.4 391.4 584.6 392.2"/>
</g>
<g clip-path="url(#t21)">
<path fill="none" stroke="#000000" stroke-width="1.25" stroke-linejoin="round" stroke-linecap="round" d="M670.8 332.9C671.8 332.6 674.7 331.8 677 331C679.3 330.2 683.2 328.4 684.5 327.9"/>
<path fill="none" stroke="#000000" stroke-width="1.25" stroke-linejoin="round" stroke-linecap="round" d="M708.9 319.8C709.4 318.9 710.4 316 712 314.8C713.6 313.5 715.8 313 718.2 312.2C720.8 311.5 723.9 311.1 727 310.4C730.1 309.6 733.9 308.7 737 307.9C740.1 307 743.2 306.4 745.8 305.4C748.2 304.3 749.9 302.9 752 301.6C754.1 300.4 756.6 299 758.2 297.9C759.9 296.8 761.2 295.5 761.8 295"/>
</g>
<g clip-path="url(#t24)">
<path fill="none" stroke="#000000" stroke-width="1.25" stroke-linejoin="round" stroke-linecap="round" d="M66 391C65.4 392 63.5 394.8 62.6 397C61.8 399.2 61.7 402.2 60.8 404.5C59.8 406.8 58.5 408.7 57 410.8C55.5 412.8 53.7 414.9 52 417C50.3 419.1 48.1 421.8 47 423.2C45.9 424.8 45.4 425.5 45.1 426"/>
</g>
<g clip-path="url(#t25)">
<path fill="none" stroke="#000000" stroke-width="1.25" stroke-linejoin="round" stroke-linecap="round" d="M288.8 466.4C287.9 467.1 285.8 469.1 283.8 470.8C281.7 472.4 278.8 474.7 276.2 476.4C273.8 478 271 479.3 268.8 480.8C266.5 482.2 264.2 483.7 262.5 485.1C260.8 486.5 259.4 488.6 258.8 489.2"/>
</g>
<g clip-path="url(#t26)">
<path fill="none" stroke="#000000" stroke-width="1.25" stroke-linejoin="round" stroke-linecap="round" d="M322.8 391C322.1 392 319.8 394.8 318.6 397C317.4 399.2 316.2 401.6 315.5 404.5C314.8 407.4 314.9 411 314.2 414.5C313.6 418 312.8 422.2 311.8 425.8C310.7 429.3 309.2 432.6 308 435.8C306.8 438.9 305.7 441.6 304.2 444.5C302.8 447.4 300.9 450.6 299.2 453.2C297.6 455.9 296.1 457.9 294.2 460.1C292.4 462.3 289.4 465.1 288 466.4C286.6 467.7 286.4 467.7 286.1 468"/>
<path fill="none" stroke="#000000" stroke-width="1.6" stroke-linejoin="round" stroke-linecap="round" d="M404.9 407.2L409.9 410.8L405.5 416.8L401.5 412Z"/>
</g>
<g clip-path="url(#t27)">
<path fill="none" stroke="#000000" stroke-width="1.25" stroke-linejoin="round" stroke-linecap="round" d="M490.6 391C490.4 392 490 395 489.1 397C488.2 399 486.7 401.2 485.4 403.2C484 405.3 482.4 407.6 481 409.5C479.6 411.4 478.2 412.9 477.2 414.5C476.3 416.1 475.8 417.6 475.4 418.9C475 420.1 475.2 421.7 474.8 422C474.3 422.3 473.7 421.5 472.9 420.8C472 420 471.1 418.4 469.8 417.6C468.4 416.9 466.6 417 464.8 416.4C462.9 415.8 460.6 414.6 458.5 413.9C456.4 413.1 454 411.9 452.2 411.8C450.5 411.6 449 412.5 447.9 413.2C446.7 414 445.6 414.9 445.4 416.4C445.2 417.8 446.2 420.1 446.6 422C447 423.9 447.8 426 447.9 427.6C448 429.3 446.7 430.8 447.2 432C447.8 433.2 449.5 434.1 451 435.1C452.5 436.1 454.3 437.7 456 438C457.7 438.3 459.3 437.6 461 436.8C462.7 435.9 464.4 433.9 466 432.6C467.6 431.4 468.9 429.7 470.4 429.2C471.8 428.8 473.6 429.4 474.8 430.1C475.9 430.9 476.9 432.4 477.2 433.9C477.6 435.3 476.7 437.3 476.6 438.9C476.5 440.4 476.1 441.9 476.6 443.2C477.1 444.6 478.4 445.8 479.8 447C481.1 448.2 482.9 449.7 484.8 450.8C486.6 451.8 488.9 452.7 491 453.2C493.1 453.8 495.2 454.1 497.2 454.2C499.3 454.4 502.5 454.2 503.5 454.2"/>
<path fill="none" stroke="#000000" stroke-width="1.25" stroke-linejoin="round" stroke-linecap="round" d="M544.8 422C544 422.5 541.6 423.9 540.4 425.1C539.1 426.4 538 427.9 537.2 429.5C536.5 431.1 536.5 432.8 536 434.5C535.5 436.2 535.1 437.9 534.1 439.5C533.2 441.1 531.4 442.5 530.4 443.9C529.3 445.2 528.6 446.6 527.9 447.6C527.2 448.7 526.5 449.7 526.2 450.1"/>
<path fill="none" stroke="#000000" stroke-width="1.6" stroke-linejoin="round" stroke-linecap="round" d="M516 437L520.8 438.5L519.1 444.5L516 447L511.6 444.5L513.5 440.1Z"/>
</g>
<g clip-path="url(#t28)">
<path fill="none" stroke="#000000" stroke-width="1.25" stroke-linejoin="round" stroke-linecap="round" d="M584.6 392.2C583.9 392.6 581.8 393.3 580.2 394.5C578.7 395.7 577.1 397.6 575.2 399.5C573.4 401.4 571.1 403.9 569 405.8C566.9 407.6 565.2 409.2 562.8 410.8C560.2 412.3 556.5 413.8 554 415.1C551.5 416.5 549.6 417.7 547.8 418.9C545.9 420 543.6 421.5 542.8 422"/>
</g>
<g clip-path="url(#t33)">
<path fill="none" stroke="#000000" stroke-width="1.25" stroke-linejoin="round" stroke-linecap="round" d="M258.1 488.2C257 488.8 253.9 490.9 251.2 491.8C248.6 492.6 245.4 493.1 242.5 493.6C239.6 494.1 236.5 494.1 233.8 494.9C231 495.6 228.5 496.6 226.2 498C224 499.4 221.9 501.1 220 503C218.1 504.9 216.6 507 215 509.2C213.4 511.5 211.9 514.2 210.6 516.8C209.4 519.2 208.3 521.8 207.5 524.2C206.7 526.8 206.1 529 205.6 531.8C205.1 534.5 204.4 537.8 204.4 540.5C204.4 543.2 205.1 545.7 205.6 548C206.1 550.3 207.4 552.2 207.5 554.2C207.6 556.3 206.8 558.4 206.2 560.5C205.7 562.6 204.3 564.7 204.4 566.8C204.5 568.8 205.9 571.1 206.9 573C207.8 574.9 208.9 576 210 578C211.1 580 212.9 584 213.5 585.2"/>
</g>
<g clip-path="url(#t41)">
<path fill="none" stroke="#000000" stroke-width="1.25" stroke-linejoin="round" stroke-linecap="round" d="M209.4 583C209 583.8 207.3 586.1 206.9 587.8C206.5 589.4 206.4 590.9 206.9 592.8C207.4 594.6 208.9 596.7 210 599C211.1 601.3 212.5 603.8 213.8 606.5C215 609.2 216.5 612.3 217.5 615.2C218.5 618.2 219.3 621.1 220 624C220.7 626.9 221 630 221.9 632.8C222.7 635.5 223.8 637.8 225 640.2C226.2 642.8 227.9 645.4 229.4 647.8C230.9 650.1 233.2 653.5 234 654.6"/>
</g>
<rect x="40.8" y="228.5" width="30" height="12" fill="#fff" shape-rendering="crispEdges"/>
<path d="M43.43 232.33L44.13 231.97L45.17 230.9L45.17 238.4M51.41 230.9L50.37 231.26L49.68 232.33L49.33 234.12L49.33 235.19L49.68 236.97L50.37 238.04L51.41 238.4L52.11 238.4L53.15 238.04L53.84 236.97L54.19 235.19L54.19 234.12L53.84 232.33L53.15 231.26L52.11 230.9L51.41 230.9M57.31 232.33L58.01 231.97L59.05 230.9L59.05 238.4M63.56 232.69L63.56 232.33L63.9 231.62L64.25 231.26L64.95 230.9L66.33 230.9L67.03 231.26L67.37 231.62L67.72 232.33L67.72 233.05L67.37 233.76L66.68 234.83L63.21 238.4L68.07 238.4" fill="none" stroke="#000" stroke-width="1.3" stroke-linecap="round" stroke-linejoin="round"/>
<rect x="218.1" y="257.2" width="30" height="12" fill="#fff" shape-rendering="crispEdges"/>
<path d="M220.81 261.08L221.5 260.72L222.54 259.65L222.54 267.15M228.79 259.65L227.75 260.01L227.05 261.08L226.71 262.87L226.71 263.94L227.05 265.72L227.75 266.79L228.79 267.15L229.48 267.15L230.52 266.79L231.22 265.72L231.56 263.94L231.56 262.87L231.22 261.08L230.52 260.01L229.48 259.65L228.79 259.65M234.69 261.08L235.38 260.72L236.42 259.65L236.42 267.15M245.1 260.72L244.75 260.01L243.71 259.65L243.01 259.65L241.97 260.01L241.28 261.08L240.93 262.87L240.93 264.65L241.28 266.08L241.97 266.79L243.01 267.15L243.36 267.15L244.4 266.79L245.1 266.08L245.44 265.01L245.44 264.65L245.1 263.58L244.4 262.87L243.36 262.51L243.01 262.51L241.97 262.87L241.28 263.58L240.93 264.65" fill="none" stroke="#000" stroke-width="1.3" stroke-linecap="round" stroke-linejoin="round"/>
<rect x="449.9" y="298.2" width="30" height="12" fill="#fff" shape-rendering="crispEdges"/>
<path d="M452.56 302.08L453.25 301.72L454.29 300.65L454.29 308.15M460.54 300.65L459.5 301.01L458.8 302.08L458.46 303.87L458.46 304.94L458.8 306.72L459.5 307.79L460.54 308.15L461.23 308.15L462.27 307.79L462.97 306.72L463.31 304.94L463.31 303.87L462.97 302.08L462.27 301.01L461.23 300.65L460.54 300.65M465.74 302.44L465.74 302.08L466.09 301.37L466.44 301.01L467.13 300.65L468.52 300.65L469.21 301.01L469.56 301.37L469.91 302.08L469.91 302.79L469.56 303.51L468.87 304.58L465.4 308.15L470.25 308.15M474.42 300.65L473.38 301.01L472.68 302.08L472.34 303.87L472.34 304.94L472.68 306.72L473.38 307.79L474.42 308.15L475.11 308.15L476.15 307.79L476.85 306.72L477.19 304.94L477.19 303.87L476.85 302.08L476.15 301.01L475.11 300.65L474.42 300.65" fill="none" stroke="#000" stroke-width="1.3" stroke-linecap="round" stroke-linejoin="round"/>
<rect x="683" y="320.9" width="30" height="12" fill="#fff" shape-rendering="crispEdges"/>
<path d="M685.68 324.71L686.38 324.35L687.42 323.28L687.42 330.77M693.66 323.28L692.62 323.63L691.93 324.71L691.58 326.49L691.58 327.56L691.93 329.35L692.62 330.42L693.66 330.77L694.36 330.77L695.4 330.42L696.09 329.35L696.44 327.56L696.44 326.49L696.09 324.71L695.4 323.63L694.36 323.28L693.66 323.28M698.87 325.06L698.87 324.71L699.21 323.99L699.56 323.63L700.26 323.28L701.64 323.28L702.34 323.63L702.68 323.99L703.03 324.71L703.03 325.42L702.68 326.13L701.99 327.2L698.52 330.77L703.38 330.77M707.54 323.28L706.5 323.63L705.81 324.71L705.46 326.49L705.46 327.56L705.81 329.35L706.5 330.42L707.54 330.77L708.24 330.77L709.28 330.42L709.97 329.35L710.32 327.56L710.32 326.49L709.97 324.71L709.28 323.63L708.24 323.28L707.54 323.28" fill="none" stroke="#000" stroke-width="1.3" stroke-linecap="round" stroke-linejoin="round"/>
<rect x="501.9" y="448.9" width="30" height="12" fill="#fff" shape-rendering="crispEdges"/>
<path d="M504.56 452.71L505.25 452.35L506.29 451.28L506.29 458.77M512.54 451.28L511.5 451.63L510.8 452.71L510.46 454.49L510.46 455.56L510.8 457.35L511.5 458.42L512.54 458.77L513.23 458.77L514.27 458.42L514.97 457.35L515.31 455.56L515.31 454.49L514.97 452.71L514.27 451.63L513.23 451.28L512.54 451.28M517.74 453.06L517.74 452.71L518.09 451.99L518.44 451.63L519.13 451.28L520.52 451.28L521.21 451.63L521.56 451.99L521.91 452.71L521.91 453.42L521.56 454.13L520.87 455.2L517.4 458.77L522.25 458.77M526.42 451.28L525.38 451.63L524.68 452.71L524.34 454.49L524.34 455.56L524.68 457.35L525.38 458.42L526.42 458.77L527.11 458.77L528.15 458.42L528.85 457.35L529.19 455.56L529.19 454.49L528.85 452.71L528.15 451.63L527.11 451.28L526.42 451.28" fill="none" stroke="#000" stroke-width="1.3" stroke-linecap="round" stroke-linejoin="round"/>
</g>
<rect x="46.5" y="112.9" width="931.1" height="542" fill="none" stroke="#000" stroke-width="2"/>
<defs><clipPath id="mc2"><rect x="45.1" y="111.5" width="933.9" height="544.8"/></clipPath></defs>
<g clip-path="url(#mc2)">
<g clip-path="url(#t0)">
<path fill="none" stroke="#785046" stroke-width="3" stroke-linejoin="round" stroke-linecap="round" d="M44.5 194.2L162 194.2"/>
</g>
<g clip-path="url(#t1)">
<path fill="none" stroke="#785046" stroke-width="3" stroke-linejoin="round" stroke-linecap="round" d="M181.9 111.8L185.6 115.2L188.8 115.9L190 119.6L193.8 119L197.5 121.5L200 122.8L201.2 125.9L203.8 128.4L207.5 129.6L208.1 134L207.5 137.8L210 141.5L211.9 144.6L211.2 147.8L208.8 150.9L209.4 153.4L211.2 155.2L212.5 159L215 162.8L216.9 164.6L219.4 163.4L221.2 165.9L225 166.5L227.5 169L227.5 173.4L225 176.5L225.6 179.6L223.8 182.1L224.4 185.2L222.5 189.6L220 190.2L218.1 188.4L215 186.5L212.5 190.2L211.2 194L210 197.1L208.1 195.9L208.8 191.5L206.9 192.1L206.2 196.5L205.6 200.9"/>
<path fill="none" stroke="#785046" stroke-width="4" stroke-linejoin="round" stroke-linecap="round" d="M218.1 164L220 162.8L221.2 165.2L218.8 165.5"/>
<path fill="none" stroke="#785046" stroke-width="3" stroke-linejoin="round" stroke-linecap="round" d="M223.8 165.2L226.2 160.2L230 155.9L235 155L240 155.9L246.2 159L251.2 162.1L255 163.8L258.8 162.1L260 159L257.5 155.2L255.6 152.1L255 148.4L257.5 145.2L263.8 144L268.8 142.1L273.8 141.5L275.6 139.6L275 136.5L272.5 134.6L271.2 132.1L273.8 128.4L276.2 125.9L276.9 122.8L275 120.9L274.4 119L276.9 117.1L277.2 111.8"/>
<path fill="none" stroke="#785046" stroke-width="3" stroke-linejoin="round" stroke-linecap="round" d="M276.9 122.8L280 124.6L283.1 123.4L283.8 120.2L282.5 117.1L285 116.5L288.8 118.8"/>
<path fill="none" stroke="#785046" stroke-width="3" stroke-linejoin="round" stroke-linecap="round" d="M265.6 166.5L270 165.9L275 164.6L278.1 165.2L280 169L281.9 173.4L284.4 174.6L283.1 177.8L285 184L288.8 187.5"/>
<path fill="none" stroke="#785046" stroke-width="3" stroke-linejoin="round" stroke-linecap="round" d="M265.6 167.1L268.8 171.5L271.2 176.5L273.1 181.5L275 186.5L276.2 191.5L276.9 196.5L277.5 200.9"/>
<path fill="none" stroke="#785046" stroke-width="3" stroke-linejoin="round" stroke-linecap="round" d="M273.1 168.4L276.2 174L278.8 180.2L280 185.2L286.2 186.8"/>
<path fill="none" stroke="#785046" stroke-width="3" stroke-linejoin="round" stroke-linecap="round" d="M210 194.2L276.9 194.2"/>
<path fill="none" stroke="#785046" stroke-width="3" stroke-linejoin="round" stroke-linecap="round" d="M158.8 194.2L178.8 194.2L183.8 200.9"/>
</g>
<g clip-path="url(#t2)">
<path fill="none" stroke="#785046" stroke-width="3" stroke-linejoin="round" stroke-linecap="round" d="M286.8 120L291.8 119L294.2 122.1L296.8 121.5L298 115.9L300.5 117.1L305.5 115.9L310.5 117.8L315.5 120.2L319.2 124L321.8 123.4L324.2 117.8L329.2 115.9L333.6 114L336.8 117.8L340.5 119L343 120.9L344.9 117.8L348.6 115.9L348.4 111.8"/>
<path fill="none" stroke="#785046" stroke-width="3" stroke-linejoin="round" stroke-linecap="round" d="M368 112.1L369.9 114.6L372.4 112.8L374.9 112.5"/>
<path fill="none" stroke="#785046" stroke-width="3" stroke-linejoin="round" stroke-linecap="round" d="M286.8 187.1L313 186.5L343 186L345.8 187L348 184.6L350.5 185.2L375.5 186.5L395.5 187.8L416.8 187.5"/>
</g>
<g clip-path="url(#t3)">
<path fill="none" stroke="#785046" stroke-width="3" stroke-linejoin="round" stroke-linecap="round" d="M414.8 187.1L441 188L466 189.6L479.1 190L544.8 189"/>
<path fill="none" stroke="#785046" stroke-width="3" stroke-linejoin="round" stroke-linecap="round" d="M479.1 190L482.2 187.1L491 184L503.5 180.9L506 179L508.5 175.2L513.5 173.4L518.5 171.5L519.1 168.4L523.5 165.2L526 162.8L525.4 160.2L528.5 157.8L536 154L544.8 149.2"/>
<path fill="none" stroke="#785046" stroke-width="3" stroke-linejoin="round" stroke-linecap="round" d="M535.4 111.8L536.6 116.5L539.8 119L541 124L544.8 128.4"/>
</g>
<g clip-path="url(#t4)">
<path fill="none" stroke="#785046" stroke-width="3" stroke-linejoin="round" stroke-linecap="round" d="M542.8 125.2L546.5 129L550.2 132.1L554 135.9L559 137.8L560.9 141.5L562.8 145.9L565.9 150.2L570.2 152.1L573.4 154.6L578.4 156.5L582.8 153.4L585.2 152.1L588.4 149L591.5 150.9L594.6 153.4L599 151.5L605.2 150.2L608.4 151.5L610.2 147.8L611.5 143.4L616.5 145.9L621.5 144L629 141.5L630.9 143.4L635.2 140.9L639 137.8L638.4 134.6L641.5 132.8L638.4 130.2L640.2 125.2L642.1 121.5L646.5 117.1L651.8 111.8"/>
<path fill="none" stroke="#785046" stroke-width="3" stroke-linejoin="round" stroke-linecap="round" d="M542.8 152.1L551.5 145.2L559 139"/>
<path fill="none" stroke="#785046" stroke-width="5" stroke-linejoin="round" stroke-linecap="round" d="M559 138.4L557.8 137.1L560.2 137.5"/>
<path fill="none" stroke="#785046" stroke-width="4" stroke-linejoin="round" stroke-linecap="round" d="M662.1 154.6L665.2 155.9L669 159.6L672.8 163"/>
<path fill="none" stroke="#785046" stroke-width="4" stroke-linejoin="round" stroke-linecap="round" d="M665.2 165.9L669 165.2L672.8 163.8"/>
<path fill="none" stroke="#785046" stroke-width="3" stroke-linejoin="round" stroke-linecap="round" d="M542.8 189.4L562.8 187.5L574 188L594 189.6L619 190.9L644 191.1L672.8 191.1"/>
<path fill="none" stroke="#785046" stroke-width="3" stroke-linejoin="round" stroke-linecap="round" d="M574 188L573.4 190.2L570.9 196.5L569.4 201.5"/>
</g>
<g clip-path="url(#t5)">
<path fill="none" stroke="#785046" stroke-width="5" stroke-linejoin="round" stroke-linecap="round" d="M671.4 162.8L673.9 164"/>
<path fill="none" stroke="#785046" stroke-width="4" stroke-linejoin="round" stroke-linecap="round" d="M708.9 182.8L712.6 179.6L714.5 181.5L713.9 184L718.2 185.9L723.2 186.5L727 190.2L732 191.5L737 190.2L743.2 189L744.5 192.1L752 193.4L758.2 194.6"/>
<path fill="none" stroke="#785046" stroke-width="4" stroke-linejoin="round" stroke-linecap="round" d="M727 190.2L728.2 196.5"/>
<path fill="none" stroke="#785046" stroke-width="4" stroke-linejoin="round" stroke-linecap="round" d="M777.6 149.6L782 149L788.2 150.2L793.2 153.4L797 151.5L800.8 154"/>
<path fill="none" stroke="#785046" stroke-width="4" stroke-linejoin="round" stroke-linecap="round" d="M795.1 112.1L797 114L800.8 117.8"/>
<path fill="none" stroke="#785046" stroke-width="3" stroke-linejoin="round" stroke-linecap="round" d="M670.8 191.1L800.8 191.1"/>
</g>
<g clip-path="url(#t6)">
<path fill="none" stroke="#785046" stroke-width="4" stroke-linejoin="round" stroke-linecap="round" d="M799.4 115.9L803.8 120.2L808.8 124L812.5 128.4L816.2 132.1L820 134.6L823.1 137.8L825.6 139.6L826.9 142.8L825 147.1L823.1 147.8L820.6 144.6L818.8 144L817.5 145.9L818.8 149L820 152.8L822.5 156.5L825 160.2L825.6 163.4L823.8 166.5L820.6 165.9L818.8 162.8L815 159L811.2 154L807.5 147.8L803.8 141.5L801.2 138.4"/>
<path fill="none" stroke="#785046" stroke-width="4" stroke-linejoin="round" stroke-linecap="round" d="M816.9 112.1L821.2 114.6L826.2 116.5L827.5 120.2L826.2 122.8L824.4 125.2L823.8 130.2L822.5 134"/>
<path fill="none" stroke="#785046" stroke-width="4" stroke-linejoin="round" stroke-linecap="round" d="M799.4 154L803.8 155.9L807.5 155.2L810 159L808.8 160.9L812.5 164L816.2 168.4L820 171.5L823.1 174L821.9 170.2L824.4 168.4L828.8 169.6L832.5 170.2L836.9 170.9L839.4 174L840.2 179L841.2 185.2L842.5 191.5L844.4 196.5L846.2 200.9"/>
<path fill="none" stroke="#785046" stroke-width="3" stroke-linejoin="round" stroke-linecap="round" d="M812.5 175.2L816.2 174L815 171.5L812.5 167.1L808.8 162.8"/>
<path fill="none" stroke="#785046" stroke-width="4" stroke-linejoin="round" stroke-linecap="round" d="M842.5 115.9L847.5 116.5L850 118.4L849.4 122.8L846.9 124.6L845.6 128.4L843.1 132.8L840.6 136.5L838.8 141.5L837.5 147.8L836.9 154L838.8 157.8L841.2 160.9L843.1 161.5L844.4 157.8L846.9 155.2L847.2 151.5L845.6 149L846.9 144L849.4 139.6L851.9 137.1L853.8 140.2L851.9 145.2"/>
<path fill="none" stroke="#785046" stroke-width="4" stroke-linejoin="round" stroke-linecap="round" d="M853.8 140.2L855 137.8L856.2 132.8L858.8 126.5L862.5 120.9L865 117.1L866.2 112.1"/>
<path fill="none" stroke="#785046" stroke-width="4" stroke-linejoin="round" stroke-linecap="round" d="M855.6 112.1L853.8 117.8L854.4 121.5L852.5 124"/>
<path fill="none" stroke="#785046" stroke-width="5" stroke-linejoin="round" stroke-linecap="round" d="M871.9 112.1L870.6 116.5L868.8 119.6"/>
<path fill="none" stroke="#785046" stroke-width="3" stroke-linejoin="round" stroke-linecap="round" d="M798.8 191.1L837.5 191.1"/>
<path fill="none" stroke="#785046" stroke-width="4" stroke-linejoin="round" stroke-linecap="round" d="M836.2 190.2L838.1 195.9L839.8 200.9"/>
</g>
<g clip-path="url(#t8)">
<path fill="none" stroke="#785046" stroke-width="4" stroke-linejoin="round" stroke-linecap="round" d="M160.8 286.2L158.2 292.5L157 296.9"/>
</g>
<g clip-path="url(#t9)">
<path fill="none" stroke="#785046" stroke-width="3" stroke-linejoin="round" stroke-linecap="round" d="M183.1 199.4L183.8 205L180 208.8L175 211.9L171.9 216.2L168.8 220L168.1 222.5L198.8 222.5"/>
<path fill="none" stroke="#785046" stroke-width="3.5" stroke-linejoin="round" stroke-linecap="round" d="M208.1 199.4L205 203.8L201.9 207.5L203.8 211.9L201.2 216.2L198.8 221.2L200.6 225.6L197.5 228.8L196.9 231.9L191.2 234.4L188.1 236.2L190 240L191.9 242.5L188.1 245.6L183.8 246.9L185.6 251.2L181.2 252.5L178.1 254.4L180.6 258.8L181.9 262.5L182.5 268.1L178.8 269.4L175.6 271.9L172.5 273.1L171.2 276.9L170 281.2L165 282.5L162.5 287.5L161.2 292.5L159.4 296.9"/>
<path fill="none" stroke="#785046" stroke-width="3" stroke-linejoin="round" stroke-linecap="round" d="M172.5 275.2L288.8 275.2"/>
<path fill="none" stroke="#785046" stroke-width="3" stroke-linejoin="round" stroke-linecap="round" d="M270.6 275.2L273.8 278.8L275.6 281.2L275 290L274.4 296.9"/>
<path fill="none" stroke="#785046" stroke-width="4" stroke-linejoin="round" stroke-linecap="round" d="M272.5 199.4L274.4 203.8L275.6 206.9"/>
<path fill="none" stroke="#785046" stroke-width="4" stroke-linejoin="round" stroke-linecap="round" d="M277.5 199.4L280.6 205L283.1 211.2L282.5 216.2L279.4 220L280 225"/>
</g>
<g clip-path="url(#t10)">
<path fill="none" stroke="#785046" stroke-width="3" stroke-linejoin="round" stroke-linecap="round" d="M286.8 275L416.8 275.5"/>
<path fill="none" stroke="#785046" stroke-width="3" stroke-linejoin="round" stroke-linecap="round" d="M389.9 275.5L392.4 285L395.1 297.5"/>
<path fill="none" stroke="#785046" stroke-width="5" stroke-linejoin="round" stroke-linecap="round" d="M294.2 287.5L300.5 283.8L306.8 285L313 287.5L319.2 290.6L324.2 293.1L328.6 297.5"/>
</g>
<g clip-path="url(#t11)">
<path fill="none" stroke="#785046" stroke-width="3" stroke-linejoin="round" stroke-linecap="round" d="M544.8 213.8L541 215L536 220L532.2 223.1L529.8 220.6L529.1 217.5L524.8 218.8L521.6 221.9L519.8 224.4L516.6 223.8L515.4 226.9L513.5 231.9L508.5 232.5L503.5 234.4L498.5 237.5L493.5 240.6L488.5 243.8L485.4 245L478.5 244.4L472.2 246.2L468.5 248.8L464.8 251.9L463.5 256.2L462.2 260L458.5 261.9L453.5 261.2L451.6 265L451 275"/>
<path fill="none" stroke="#785046" stroke-width="3" stroke-linejoin="round" stroke-linecap="round" d="M414.8 275.5L466 275.8L508.5 275"/>
<path fill="none" stroke="#785046" stroke-width="3" stroke-linejoin="round" stroke-linecap="round" d="M508.5 275L516 272.5L523.5 271.2L527.2 268.1L536 265.6L538.5 264.4L544.8 264.4"/>
<path fill="none" stroke="#785046" stroke-width="3" stroke-linejoin="round" stroke-linecap="round" d="M508.5 275L506.6 278.1L502.2 282.5L497.2 287.5L495.4 292.5L501 296.5"/>
</g>
<g clip-path="url(#t12)">
<path fill="none" stroke="#785046" stroke-width="3" stroke-linejoin="round" stroke-linecap="round" d="M542.8 214.4L549 212.5L554.6 216.2L557.8 212.5L561.5 207.5L565.9 203.1L569 200.6L572.1 201.9"/>
<path fill="none" stroke="#785046" stroke-width="3" stroke-linejoin="round" stroke-linecap="round" d="M542.8 264.4L562.8 265L581.5 266.2L600.2 267.5L604 268.1L602.8 272.5L605.2 272.5L607.8 268.8L611.5 272.5L615.9 277.5L614 285L631.5 285.6L650.2 286.2L667.8 286.5L672.8 292.2"/>
</g>
<g clip-path="url(#t13)">
<path fill="none" stroke="#785046" stroke-width="5" stroke-linejoin="round" stroke-linecap="round" d="M789.5 246.9L792 249.4L797 251.2L800.8 252.5"/>
<path fill="none" stroke="#785046" stroke-width="5" stroke-linejoin="round" stroke-linecap="round" d="M788.9 267.5L790.8 271.9L793.9 275.6L798.2 278.1L800.8 278.8"/>
<path fill="none" stroke="#785046" stroke-width="5" stroke-linejoin="round" stroke-linecap="round" d="M770.1 288.8L772 292.5L774.5 296.9"/>
<path fill="none" stroke="#785046" stroke-width="4" stroke-linejoin="round" stroke-linecap="round" d="M779.5 296.9L784.5 293.1L790.8 291.2L797 290L800.8 289.4"/>
<path fill="none" stroke="#785046" stroke-width="4" stroke-linejoin="round" stroke-linecap="round" d="M785.1 290L786.4 293.1"/>
<path fill="none" stroke="#785046" stroke-width="3" stroke-linejoin="round" stroke-linecap="round" d="M671.4 289.4L674.5 293.1L677.2 296.9"/>
</g>
<g clip-path="url(#t14)">
<path fill="none" stroke="#785046" stroke-width="4" stroke-linejoin="round" stroke-linecap="round" d="M843.8 199.4L847.5 206.2L851.2 213.8L855 221.2L858.8 227.5L861.9 233.8L863.8 241.2L863.1 250L861.2 257.5L858.8 261.2L853.8 263.1L850 265"/>
<path fill="none" stroke="#785046" stroke-width="4" stroke-linejoin="round" stroke-linecap="round" d="M847.5 265.6L842.5 267.5L837.5 269.4L833.8 272.5L831.2 275.6"/>
<path fill="none" stroke="#785046" stroke-width="4" stroke-linejoin="round" stroke-linecap="round" d="M841.2 199.4L843.8 205L847.5 211.2L851.2 218.8L852.5 225L850.6 229.4L850 235.6L848.1 241.2L846.2 244.4L843.1 242.5L840 245.6L836.9 248.1L835 252.5L831.9 255L828.8 256.9L823.8 255.6L820 252.5L818.8 250"/>
<path fill="none" stroke="#785046" stroke-width="4" stroke-linejoin="round" stroke-linecap="round" d="M805.6 204.4L803.1 208.8L802.5 213.8L804.4 218.8L807.5 221.2L805 223.8L810 223.1L816.2 221.2L820.6 223.1L823.8 225L826.9 221.9L832.5 221.2L835.6 223.8L836.2 226.9L834.4 230L833.8 233.8L836.9 236.2L837.5 238.8L833.8 239.4L830.6 237.5"/>
<path fill="none" stroke="#785046" stroke-width="4" stroke-linejoin="round" stroke-linecap="round" d="M816.2 211.2L820 214.4L823.8 211.9L826.9 214.4L829.4 211.2L833.1 212.5L837.5 207.5L840 203.8L842.5 207.5"/>
<path fill="none" stroke="#785046" stroke-width="4" stroke-linejoin="round" stroke-linecap="round" d="M826.9 205L831.2 207.5L835 210.6"/>
<path fill="none" stroke="#785046" stroke-width="3.5" stroke-linejoin="round" stroke-linecap="round" d="M837.5 226.9L841.2 223.8L845 222.5L848.1 226.9L847.5 232.5L843.8 234.4L840 232.5L837.5 230L837.5 226.9"/>
<path fill="none" stroke="#785046" stroke-width="4" stroke-linejoin="round" stroke-linecap="round" d="M799.4 251.2L803.8 253.8L807.5 251.9L811.2 247.5L815 246.9L812.5 250L816.2 252.5L813.8 256.2L810 257.5L813.8 260L815 265L811.2 267.5L807.5 266.2L810 270L807.5 273.8L803.8 275L799.4 276.2"/>
<path fill="none" stroke="#785046" stroke-width="4" stroke-linejoin="round" stroke-linecap="round" d="M812.5 273.8L816.2 271.9L818.8 275L821.9 274.4L825 277.5L828.1 280L825 283.1L821.2 286.2L817.5 290L815 293.8L812.5 297.2"/>
<path fill="none" stroke="#785046" stroke-width="4" stroke-linejoin="round" stroke-linecap="round" d="M799.4 287.5L803.8 286.2L807.5 288.1L811.2 290L813.8 292.5"/>
<path fill="none" stroke="#785046" stroke-width="4" stroke-linejoin="round" stroke-linecap="round" d="M818.8 277.5L815 280L812.5 278.8L810 281.2L805 280L801.2 281.2"/>
</g>
<g clip-path="url(#t16)">
<path fill="none" stroke="#785046" stroke-width="4" stroke-linejoin="round" stroke-linecap="round" d="M160.8 299.8L158.2 304.8L154.5 308.5L150.1 310.4L148.9 314.1L144.5 316.6L142 320.4L145.1 322.2L143.2 327.2L139.5 329.8L135.1 329.1L137 333.5L139.5 338.5L135.8 340.4L130.8 341.6L128.2 345.4L132 348.5L137 346L134.5 351L129.5 352.2L127.6 356L130.8 359.8L135.8 361L133.2 366L137 368.5L134.5 372.2L130.8 374.8L130.8 378.5L133.9 381L132 386L130.1 389.1L133.2 393.2"/>
<path fill="none" stroke="#785046" stroke-width="3" stroke-linejoin="round" stroke-linecap="round" d="M44.5 382.6L130.8 382.6"/>
</g>
<g clip-path="url(#t17)">
<path fill="none" stroke="#785046" stroke-width="3" stroke-linejoin="round" stroke-linecap="round" d="M274.4 295.4L270 331L266.2 361L261.9 393.2"/>
<path fill="none" stroke="#785046" stroke-width="4" stroke-linejoin="round" stroke-linecap="round" d="M161.2 295.4L160 301.6"/>
</g>
<g clip-path="url(#t18)">
<path fill="none" stroke="#785046" stroke-width="3" stroke-linejoin="round" stroke-linecap="round" d="M394.2 295.4L398 314.8L401.8 336L405.5 358.5L409.2 381L411.4 393.2"/>
<path fill="none" stroke="#785046" stroke-width="6" stroke-linejoin="round" stroke-linecap="round" d="M358 359.1L361.8 354.8L364.9 353.8"/>
<path fill="none" stroke="#785046" stroke-width="4" stroke-linejoin="round" stroke-linecap="round" d="M348 382.2L349.2 387.2L352 393.2"/>
<path fill="none" stroke="#785046" stroke-width="5" stroke-linejoin="round" stroke-linecap="round" d="M324.2 295.4L329.9 297.9"/>
</g>
<g clip-path="url(#t19)">
<path fill="#785046" d="M459.8 317.9L463.5 321.6L467.9 318.5L471.6 313.5L474.5 309.8L472.9 306.2L468.5 305.4L465.8 307.2L467 312.2L464.1 315Z"/>
<path fill="none" stroke="#785046" stroke-width="4" stroke-linejoin="round" stroke-linecap="round" d="M499.8 295.4L504.8 298.5L509.8 302.2L514.8 304.8L518.5 302.9L521 299.8L519.1 295.4"/>
<path fill="none" stroke="#785046" stroke-width="5" stroke-linejoin="round" stroke-linecap="round" d="M516 307.9L519.8 309.8L522.2 313.5L524.8 318.5L528.5 324.8L531 329.8L532.2 334.8L531.6 338.5"/>
<path fill="none" stroke="#785046" stroke-width="5" stroke-linejoin="round" stroke-linecap="round" d="M533.5 333.5L538.5 332.2L542.2 336L544.8 339.1"/>
<path fill="none" stroke="#785046" stroke-width="5" stroke-linejoin="round" stroke-linecap="round" d="M531 348.5L536 347.9L541 346L544.8 344.1"/>
</g>
<g clip-path="url(#t20)">
<path fill="none" stroke="#785046" stroke-width="4" stroke-linejoin="round" stroke-linecap="round" d="M543.4 337.9L546.5 341.6L549.6 346L547.8 347.9L551.5 351L556.5 354.8L560.9 359.8L562.8 362.2L561.5 365.4L565.2 368.5L568.4 372.2L570.9 376L575.2 378.5L580.2 381L582.8 383.5L582.1 387.9L584 393.2"/>
<path fill="none" stroke="#785046" stroke-width="7" stroke-linejoin="round" stroke-linecap="round" d="M543.4 339.1L545.9 342.2L548.4 346"/>
<path fill="none" stroke="#785046" stroke-width="4" stroke-linejoin="round" stroke-linecap="round" d="M672.8 381.6L670.2 383.5L670.9 388.5L667.8 391L665.2 393.2"/>
<path fill="none" stroke="#785046" stroke-width="4" stroke-linejoin="round" stroke-linecap="round" d="M654 391.6L657.1 392"/>
</g>
<g clip-path="url(#t21)">
<path fill="none" stroke="#785046" stroke-width="3" stroke-linejoin="round" stroke-linecap="round" d="M675.8 295.4L688.2 307.9L700.8 320.4L713.2 332.2L718.2 336.6"/>
<path fill="none" stroke="#785046" stroke-width="4" stroke-linejoin="round" stroke-linecap="round" d="M718.2 336.6L724.5 334.8L732 333.5L739.5 334.1L744.5 337.2L747 337.9L749.5 332.2L752 326L755.8 318.5L760.8 311L767 305.4L773.2 301L778.2 297.9L782 295.4"/>
<path fill="none" stroke="#785046" stroke-width="5" stroke-linejoin="round" stroke-linecap="round" d="M746.4 319.1L747.6 326L746.8 336"/>
<path fill="none" stroke="#785046" stroke-width="5" stroke-linejoin="round" stroke-linecap="round" d="M770.8 295.4L773.2 299.1L775.8 295.4"/>
<path fill="none" stroke="#785046" stroke-width="4" stroke-linejoin="round" stroke-linecap="round" d="M718.2 336.6L712 340.4L705.8 346L699.5 352.2L694.5 358.5L690.8 363.5L689.5 368.5L688.2 372.2L687 376L683.2 378.5L679.5 381L675.8 382.2L671.4 383.5"/>
<path fill="none" stroke="#785046" stroke-width="4" stroke-linejoin="round" stroke-linecap="round" d="M690.8 363.5L688.2 360.4L685.1 363.5L683.9 368.5L687 371L689.5 368.5"/>
</g>
<g clip-path="url(#t22)">
<path fill="none" stroke="#785046" stroke-width="4" stroke-linejoin="round" stroke-linecap="round" d="M815 295.4L813.1 299.1"/>
</g>
<g clip-path="url(#t24)">
<path fill="none" stroke="#785046" stroke-width="4" stroke-linejoin="round" stroke-linecap="round" d="M132 391.4L130.8 394.5L135.8 397L138.2 400.8L133.2 403.2L132 405.8L137 404.5L139.5 408.2L135.8 412L139.5 415.1L142 418.9L145.1 421.4L140.8 423.2L137 426.4L133.2 425.8L132 429.5L135.8 428.2L139.5 429.5L138.2 433.2L134.5 434.5L133.2 438.9L129.5 441.4L125.8 444.5L123.2 447L124.5 450.8L127 448.2L124.5 445.8"/>
<path fill="none" stroke="#785046" stroke-width="4" stroke-linejoin="round" stroke-linecap="round" d="M124.5 450.8L122 453.2L118.2 457L115.8 458.2L118.2 462L120.8 460.1L117 464.5L115.1 468.2L117.6 470.8L114.5 473.2L115.8 477L110.8 478.2L108.9 479.5L112 482L110.1 485.8L111.4 489.2"/>
</g>
<g clip-path="url(#t25)">
<path fill="none" stroke="#785046" stroke-width="3" stroke-linejoin="round" stroke-linecap="round" d="M262.5 391.4L260 410.8L257.5 432L256.2 443.2L256.9 450.8L257.5 467L258.8 489.2"/>
</g>
<g clip-path="url(#t26)">
<path fill="none" stroke="#785046" stroke-width="4" stroke-linejoin="round" stroke-linecap="round" d="M411.1 391.4L413 399.5L415.5 408.2L417 412.6"/>
<path fill="none" stroke="#785046" stroke-width="3.5" stroke-linejoin="round" stroke-linecap="round" d="M417 430.5L413.2 439.2L412 448L415.8 453L417 460.5L415.5 470L413.2 478L418.2 488L420 492"/>
<path fill="none" stroke="#785046" stroke-width="5" stroke-linejoin="round" stroke-linecap="round" d="M412.3 443L414.6 455"/>
<path fill="none" stroke="#785046" stroke-width="5" stroke-linejoin="round" stroke-linecap="round" d="M349.2 394.5L351.8 391.4"/>
</g>
<g clip-path="url(#t27)">
<path fill="none" stroke="#785046" stroke-width="3.3" stroke-linejoin="round" stroke-linecap="round" d="M415.4 403.2L418.5 408.2L421 414.5L418.5 418.9L421.6 422.6L423.5 423.9L419.8 427L417.2 428.9L415.4 429.5"/>
<path fill="none" stroke="#785046" stroke-width="3.5" stroke-linejoin="round" stroke-linecap="round" d="M412 448L415.8 453L417 460.5L415.5 470L413.2 478"/>
</g>
<g clip-path="url(#t28)">
<path fill="none" stroke="#785046" stroke-width="4" stroke-linejoin="round" stroke-linecap="round" d="M584 391.4L585.9 397L586.5 403.2L590.2 407L594 409.5L595.9 414.5L597.8 418.2L599 423.2L597.8 428.2L600.2 432L604 433.9L607.8 435.1L610.2 437"/>
<path fill="none" stroke="#785046" stroke-width="5" stroke-linejoin="round" stroke-linecap="round" d="M610.2 437L612.1 433.2L615.2 428.9L619 425.8L622.1 422.6L626.5 422L630.2 418.9L630.9 414.5L627.8 410.8L624 409.5L620.2 409.5L619 413.2L620.2 418.2L619 422L616.5 420.1L614 415.8L612.1 408.2"/>
<path fill="none" stroke="#785046" stroke-width="4" stroke-linejoin="round" stroke-linecap="round" d="M624 415.1L627.1 416.4"/>
<path fill="none" stroke="#785046" stroke-width="5" stroke-linejoin="round" stroke-linecap="round" d="M630.2 410.8L636.5 410.8L641.5 408.2L640.9 404.5L644 407L650.2 404.5L654 402L657.1 398.2L656.5 393.9L654 392.6"/>
<path fill="none" stroke="#785046" stroke-width="5" stroke-linejoin="round" stroke-linecap="round" d="M657.1 398.2L662.8 395.1L666.5 391.4"/>
<path fill="none" stroke="#785046" stroke-width="5" stroke-linejoin="round" stroke-linecap="round" d="M610.2 437L612.1 440.1L607.8 442.6L605.2 445.1L602.8 443.2L600.2 442L599 445.8L602.1 448.2L600.2 452L596.5 453.2L593.4 450.1L592.1 452L595.2 455.8L597.8 458.2L596.5 462.6L593.4 464.5L589.6 462L588.4 463.9L592.1 467L593.4 470.8L590.9 474.5L586.5 473.2L582.1 472L585.2 475.8L590.2 477.6L592.8 479.5L589 482L585.9 483.9L583.4 481.4L585.2 485.8L583 489.5"/>
</g>
<g clip-path="url(#t32)">
<path fill="none" stroke="#785046" stroke-width="3" stroke-linejoin="round" stroke-linecap="round" d="M160.8 492.8L110.8 492.8L108.9 492.4L114.5 487.4"/>
<path fill="none" stroke="#785046" stroke-width="3.3" stroke-linejoin="round" stroke-linecap="round" d="M45.1 560.2L52 564.2L60.8 568.6L69.5 570.8L75.8 572L82 571.1L88.2 569L90.8 568L87 565.5L85.8 561.8L83.2 559.9L87 559.2L90.8 558L93.2 555.5L97 554.9L100.1 556.1L99.5 559.9L100.1 562.4L104.5 560.5L109.5 559.9L111.4 563L113.2 566.8L115.1 570.5L118.2 571.1L122 573L125.8 575.5L128.2 579.2L132 581.1L134.8 584.9"/>
<path fill="none" stroke="#785046" stroke-width="3.3" stroke-linejoin="round" stroke-linecap="round" d="M128.2 574.2L129.5 568L127 571.1"/>
<path fill="none" stroke="#785046" stroke-width="3.3" stroke-linejoin="round" stroke-linecap="round" d="M124.5 581.8L127.6 581.1L130.8 583"/>
<path fill="none" stroke="#785046" stroke-width="3.3" stroke-linejoin="round" stroke-linecap="round" d="M90.8 568L94.5 570.5L100.1 574.2L103.9 573.6L106.4 569.2L102 566.8L98.2 565.5L94.5 568L92 565.5L88.9 564.9"/>
</g>
<g clip-path="url(#t33)">
<path fill="none" stroke="#785046" stroke-width="3" stroke-linejoin="round" stroke-linecap="round" d="M158.8 492.8L200 492.8L197.5 499.2L194.4 504.2L193.1 510.5L195.6 516.8L200 523L203.1 529.2L204.4 535.5"/>
<path fill="none" stroke="#785046" stroke-width="3.6" stroke-linejoin="round" stroke-linecap="round" d="M204.4 535.5L210 534.9L213.8 530.5L218.8 528L226.2 526.1L233.8 523.6L238.8 523L243.8 525.5L250 526.1L256.2 528.6L260 528L265 524.2L270 526.8L273.1 526.1L274.4 519.2L276.9 510.5L278.8 507.4L281.2 510.5L282.5 516.8L283.1 521.8L285 524.9L288.8 526.8"/>
<path fill="none" stroke="#785046" stroke-width="3" stroke-linejoin="round" stroke-linecap="round" d="M259.4 487.4L260 506.8L260.6 528"/>
<path fill="none" stroke="#785046" stroke-width="3.3" stroke-linejoin="round" stroke-linecap="round" d="M200 536.1L196.2 534.9L191.2 532.4L186.2 531.1L181.2 526.8L176.2 524.9L171.9 528L167.5 533L165.6 538L168.1 542.4L173.8 544.2L180 545.5L186.2 544.2L190 540.5L193.8 538.6L198.8 539.2"/>
<path fill="none" stroke="#785046" stroke-width="6.4" stroke-linejoin="round" stroke-linecap="round" d="M199.4 536.8L203.1 537.4L201.9 540.5"/>
<path fill="none" stroke="#785046" stroke-width="3.3" stroke-linejoin="round" stroke-linecap="round" d="M193.8 546.8L197.5 550.5L201.2 553L205 551.8L206.9 548L208.1 544.2L211.2 542.4L215 543L213.8 546.8L215 550.5L216.9 554.2"/>
<path fill="none" stroke="#785046" stroke-width="3.3" stroke-linejoin="round" stroke-linecap="round" d="M194.4 546.8L196.2 543.6L201.2 543"/>
<path fill="none" stroke="#785046" stroke-width="4.8" stroke-linejoin="round" stroke-linecap="round" d="M200 563L203.8 564.2L207.5 563L211.2 560.5L215 558.6L218.8 556.8L216.2 554.2L212.5 556.1L210 558"/>
<path fill="none" stroke="#785046" stroke-width="3.3" stroke-linejoin="round" stroke-linecap="round" d="M197.5 566.1L200 570.5L203.8 574.2L206.9 578L210 580.5L215 581.8L220 583L225 585.2"/>
<path fill="none" stroke="#785046" stroke-width="3.3" stroke-linejoin="round" stroke-linecap="round" d="M197.5 566.1L202.5 568"/>
<path fill="none" stroke="#785046" stroke-width="3.3" stroke-linejoin="round" stroke-linecap="round" d="M176.2 570.5L181.2 573L186.2 575.5L191.2 578L193.8 574.2L196.2 578L197.5 583L203.8 583"/>
<path fill="none" stroke="#785046" stroke-width="3.3" stroke-linejoin="round" stroke-linecap="round" d="M182.5 575.5L185 580.5L183.8 585.2"/>
<path fill="none" stroke="#785046" stroke-width="3.3" stroke-linejoin="round" stroke-linecap="round" d="M159.4 583L166.2 585.2"/>
<path fill="none" stroke="#785046" stroke-width="5.6" stroke-linejoin="round" stroke-linecap="round" d="M227.5 532.4L230 534.9"/>
<path fill="none" stroke="#785046" stroke-width="3.6" stroke-linejoin="round" stroke-linecap="round" d="M218.1 542.4L225 537.4"/>
<path fill="none" stroke="#785046" stroke-width="3.6" stroke-linejoin="round" stroke-linecap="round" d="M246.2 533L260 534.9"/>
<path fill="none" stroke="#785046" stroke-width="3.6" stroke-linejoin="round" stroke-linecap="round" d="M264.4 533L276.2 532.4"/>
<path fill="none" stroke="#785046" stroke-width="3.6" stroke-linejoin="round" stroke-linecap="round" d="M280 533.6L288.8 533"/>
<path fill="none" stroke="#785046" stroke-width="3.3" stroke-linejoin="round" stroke-linecap="round" d="M240 544.2L241.9 550.5L240 558.6"/>
<path fill="none" stroke="#785046" stroke-width="3.6" stroke-linejoin="round" stroke-linecap="round" d="M223.8 574.2L225.6 573"/>
<path fill="none" stroke="#785046" stroke-width="3.6" stroke-linejoin="round" stroke-linecap="round" d="M228.8 571.1L230.6 569.2"/>
</g>
<g clip-path="url(#t34)">
<path fill="none" stroke="#785046" stroke-width="3" stroke-linejoin="round" stroke-linecap="round" d="M416.8 492.8L298 492.8L296.1 499.2L300.5 504.2L306.8 509.9L304.9 516.8L306.8 521.8L303 525.5L298 528L301.8 530.5"/>
<path fill="none" stroke="#785046" stroke-width="3.6" stroke-linejoin="round" stroke-linecap="round" d="M287.4 534.2L294.2 533L301.8 531.1L309.2 528L316.8 525.5L325.5 524.2L335.5 523.6L345.5 523L353 524.2L360.5 525.5L368 526.8L374.2 530.5L380.5 534.2L386.8 538L391.8 541.8L395.5 546.8L400.5 550.5L403.6 554.2L404.9 559.2L403 563L399.9 561.8L398.6 556.8L401.1 554.2"/>
<path fill="none" stroke="#785046" stroke-width="3.6" stroke-linejoin="round" stroke-linecap="round" d="M403 563L408 563L413 561.8L416.8 561.1"/>
<path fill="none" stroke="#785046" stroke-width="3.6" stroke-linejoin="round" stroke-linecap="round" d="M408 563.6L416.8 568"/>
<path fill="none" stroke="#785046" stroke-width="3.6" stroke-linejoin="round" stroke-linecap="round" d="M288 524.2L289.9 529.2L287.4 531.1"/>
<path fill="none" stroke="#785046" stroke-width="3.6" stroke-linejoin="round" stroke-linecap="round" d="M306.8 521.8L311.8 525.5"/>
<path fill="none" stroke="#785046" stroke-width="3.6" stroke-linejoin="round" stroke-linecap="round" d="M316.8 516.8L319.2 520.5L320.5 518L321.8 521.8L325.5 514.2L326.8 519.2L329.2 521.8L325.5 523L318 524.2"/>
<path fill="none" stroke="#785046" stroke-width="3.6" stroke-linejoin="round" stroke-linecap="round" d="M345.5 523L350.5 519.2L358 518.6L364.2 519.2L366.8 523L365.5 526.1L361.8 525.5L358 523L353 522.4"/>
<path fill="none" stroke="#785046" stroke-width="4.8" stroke-linejoin="round" stroke-linecap="round" d="M379.2 531.1L385.5 531.8L393 530.5L388 534.2L383 538"/>
<path fill="none" stroke="#785046" stroke-width="4.8" stroke-linejoin="round" stroke-linecap="round" d="M391.8 538L396.8 539.2L399.2 544.2"/>
</g>
<g clip-path="url(#t35)">
<path fill="none" stroke="#785046" stroke-width="3" stroke-linejoin="round" stroke-linecap="round" d="M544.8 514.9L516 513.6L478.5 511.1L447.2 508.6L428.5 507.4L424.8 506.8"/>
<path fill="none" stroke="#785046" stroke-width="3.6" stroke-linejoin="round" stroke-linecap="round" d="M417.9 487.4L419.8 494.2L421.6 500.5L420.4 504.2L424.8 506.8"/>
<path fill="none" stroke="#785046" stroke-width="3.6" stroke-linejoin="round" stroke-linecap="round" d="M424.8 506.8L428.5 503L430.4 498.6"/>
<path fill="none" stroke="#785046" stroke-width="3.6" stroke-linejoin="round" stroke-linecap="round" d="M428.5 503.6L434.1 503.6"/>
<path fill="none" stroke="#785046" stroke-width="3.6" stroke-linejoin="round" stroke-linecap="round" d="M415.4 568L419.8 568L424.8 564.9L429.8 561.8L434.8 558L438.5 554.9L442.2 551.8L447.2 551.1L449.1 548L446.6 545.5L450.4 543.6L456 541.8L463.5 541.5L468.5 543.6L473.5 546.8L478.5 549.2L482.2 553L484.8 558L487.2 561.8L492.2 564.2L494.8 567.4L492.9 571.1L496 574.9L501 578L503.5 581.1L505.6 585.2"/>
<path fill="none" stroke="#785046" stroke-width="3.3" stroke-linejoin="round" stroke-linecap="round" d="M415.4 561.1L419.8 559.2L423.5 559.2L426 561.8L421 564.2L416 564.9"/>
<path fill="none" stroke="#785046" stroke-width="6.4" stroke-linejoin="round" stroke-linecap="round" d="M434.8 556.1L437.9 556.8"/>
<path fill="none" stroke="#785046" stroke-width="6.4" stroke-linejoin="round" stroke-linecap="round" d="M444.8 546.8L449.1 549.9"/>
</g>
<g clip-path="url(#t36)">
<path fill="none" stroke="#785046" stroke-width="3.5" stroke-linejoin="round" stroke-linecap="round" d="M543.4 514.9L547.8 516.1L549 525.5L550.9 526.8L555.9 526.8L557.1 519.2L556.5 509.2L559.6 502.4L564 501.8L571.5 504.9L579 508L582.8 509.2"/>
<path fill="none" stroke="#785046" stroke-width="3.5" stroke-linejoin="round" stroke-linecap="round" d="M584 487.4L584 491.8L581.5 500.5L583.4 506.8L584 510.5L582.1 514.9L584.6 519.2L587.1 524.2L589 533L592.1 544.2L595.2 555.5L599 568L602.8 580.5L604.2 585.2"/>
<path fill="none" stroke="#785046" stroke-width="5.5" stroke-linejoin="round" stroke-linecap="round" d="M585 488L584.2 495.5L583.5 505.5"/>
<path fill="none" stroke="#785046" stroke-width="5.5" stroke-linejoin="round" stroke-linecap="round" d="M583 513L583.8 516.1"/>
<path fill="none" stroke="#785046" stroke-width="5" stroke-linejoin="round" stroke-linecap="round" d="M580.2 524.2L575.9 524.9L574.6 529.2L572.8 531.1L574 536.8L573.4 543L575.9 546.8L579 549.2L577.1 553L579.6 558L577.8 561.8L575.2 564.2L576.5 568.6"/>
</g>
<g clip-path="url(#t40)">
<path fill="none" stroke="#785046" stroke-width="3.3" stroke-linejoin="round" stroke-linecap="round" d="M124.5 583.4L128.2 585.9L132 587.1L135.8 584.6"/>
<path fill="none" stroke="#785046" stroke-width="3.3" stroke-linejoin="round" stroke-linecap="round" d="M132 587.1L135.8 589L139.5 589.6L143.2 591.5L147 592.1L150.8 594.6L153.2 592.8L155.8 589L157 585.2L159.5 583.4"/>
<path fill="none" stroke="#785046" stroke-width="3.3" stroke-linejoin="round" stroke-linecap="round" d="M152 597.8L155.1 596.5"/>
</g>
<g clip-path="url(#t41)">
<path fill="none" stroke="#785046" stroke-width="3.6" stroke-linejoin="round" stroke-linecap="round" d="M159.4 584.6L163.8 583.4"/>
<path fill="none" stroke="#785046" stroke-width="3.6" stroke-linejoin="round" stroke-linecap="round" d="M167.5 583.4L172.5 586.5L175 591.5L176.2 596.5L180 594L182.5 590.2L185 586.5L188.8 587.8L186.9 584"/>
<path fill="none" stroke="#785046" stroke-width="3.6" stroke-linejoin="round" stroke-linecap="round" d="M193.8 583.4L200 585.2L205 584L207.5 587.8L212.5 585.9L215 583.4"/>
<path fill="none" stroke="#785046" stroke-width="3.6" stroke-linejoin="round" stroke-linecap="round" d="M207.5 587.8L211.2 590.2L213.8 594L216.2 597.8L218.8 592.8L221.2 595.2L218.8 599L215 602.8L213.8 605.2"/>
<path fill="none" stroke="#785046" stroke-width="3.6" stroke-linejoin="round" stroke-linecap="round" d="M221.2 595.2L225 596.5L226.2 600.2L229.4 596.5L231.2 591.5L233.1 589.6L230 587.8L227.5 584L225 583.4"/>
</g>
<g clip-path="url(#t43)">
<path fill="none" stroke="#785046" stroke-width="3.18" stroke-linejoin="round" stroke-linecap="round" d="M503.5 583.4L507.2 585.9L509.8 590.2L514.8 591.2L519.8 591.5L523.5 596.5L526 602.8L529.8 607.8L527.9 612.8L529.1 617.8L528.5 624L526.6 630.2L524.8 636.5L522.9 641.5L521.6 646.5L522.9 650.2L522.2 655.9"/>
<path fill="none" stroke="#785046" stroke-width="3.6" stroke-linejoin="round" stroke-linecap="round" d="M526 652.8L528.5 655.9"/>
</g>
<g clip-path="url(#t44)">
<path fill="#785046" d="M612.1 615.2L614.6 612.5L616.5 615.2L617.1 621.5L620.2 620.2L625.2 625.2L627.5 630.2L625.9 635.2L625 642.8L627.8 655.9L625.9 656.5L621.5 644L617.1 631.5L613.4 621.5Z"/>
<path fill="none" stroke="#785046" stroke-width="3.3" stroke-linejoin="round" stroke-linecap="round" d="M602.1 583.4L605.2 589L609 596.5L612.8 602.8L616.5 609.6L620.2 615.2L624 620.9L626.5 626.5L627.1 631.5L625.2 634L624 639L625.2 646.5L627.1 655.9"/>
</g>
</g>
<path d="M40.2 654.9H46.5" stroke="#000" stroke-width="2"/>
<path d="M40.2 600.7H46.5" stroke="#000" stroke-width="2"/>
<path d="M40.2 546.5H46.5" stroke="#000" stroke-width="2"/>
<path d="M40.2 492.3H46.5" stroke="#000" stroke-width="2"/>
<path d="M40.2 438.1H46.5" stroke="#000" stroke-width="2"/>
<path d="M40.2 383.9H46.5" stroke="#000" stroke-width="2"/>
<path d="M40.2 329.7H46.5" stroke="#000" stroke-width="2"/>
<path d="M40.2 275.5H46.5" stroke="#000" stroke-width="2"/>
<path d="M40.2 221.3H46.5" stroke="#000" stroke-width="2"/>
<path d="M40.2 167.1H46.5" stroke="#000" stroke-width="2"/>
<path d="M40.2 112.9H46.5" stroke="#000" stroke-width="2"/>
<path d="M93 654.9V660.7" stroke="#000" stroke-width="2"/>
<path d="M186.1 654.9V660.7" stroke="#000" stroke-width="2"/>
<path d="M279.2 654.9V660.7" stroke="#000" stroke-width="2"/>
<path d="M372.4 654.9V660.7" stroke="#000" stroke-width="2"/>
<path d="M465.5 654.9V660.7" stroke="#000" stroke-width="2"/>
<path d="M558.6 654.9V660.7" stroke="#000" stroke-width="2"/>
<path d="M651.7 654.9V660.7" stroke="#000" stroke-width="2"/>
<path d="M744.8 654.9V660.7" stroke="#000" stroke-width="2"/>
<path d="M838 654.9V660.7" stroke="#000" stroke-width="2"/>
<path d="M931.1 654.9V660.7" stroke="#000" stroke-width="2"/>
<path d="M3.6 651.78L3.6 651.21L4.15 650.07L4.7 649.5L5.8 648.93L8 648.93L9.1 649.5L9.65 650.07L10.2 651.21L10.2 652.35L9.65 653.49L8.55 655.2L3.05 660.9L10.75 660.9M16.8 648.93L15.15 649.5L14.6 650.64L14.6 651.78L15.15 652.92L16.25 653.49L18.45 654.06L20.1 654.63L21.2 655.77L21.75 656.91L21.75 658.62L21.2 659.76L20.65 660.33L19 660.9L16.8 660.9L15.15 660.33L14.6 659.76L14.05 658.62L14.05 656.91L14.6 655.77L15.7 654.63L17.35 654.06L19.55 653.49L20.65 652.92L21.2 651.78L21.2 650.64L20.65 649.5L19 648.93L16.8 648.93M25.6 648.93L25.6 660.9M25.6 648.93L33.3 660.9M33.3 648.93L33.3 660.9M3.6 597.58L3.6 597.01L4.15 595.87L4.7 595.3L5.8 594.73L8 594.73L9.1 595.3L9.65 595.87L10.2 597.01L10.2 598.15L9.65 599.29L8.55 601L3.05 606.7L10.75 606.7M21.2 598.72L20.65 600.43L19.55 601.57L17.9 602.14L17.35 602.14L15.7 601.57L14.6 600.43L14.05 598.72L14.05 598.15L14.6 596.44L15.7 595.3L17.35 594.73L17.9 594.73L19.55 595.3L20.65 596.44L21.2 598.72L21.2 601.57L20.65 604.42L19.55 606.13L17.9 606.7L16.8 606.7L15.15 606.13L14.6 604.99M25.6 594.73L25.6 606.7M25.6 594.73L33.3 606.7M33.3 594.73L33.3 606.7M4.15 540.53L10.2 540.53L6.9 545.09L8.55 545.09L9.65 545.66L10.2 546.23L10.75 547.94L10.75 549.08L10.2 550.79L9.1 551.93L7.45 552.5L5.8 552.5L4.15 551.93L3.6 551.36L3.05 550.22M17.35 540.53L15.7 541.1L14.6 542.81L14.05 545.66L14.05 547.37L14.6 550.22L15.7 551.93L17.35 552.5L18.45 552.5L20.1 551.93L21.2 550.22L21.75 547.37L21.75 545.66L21.2 542.81L20.1 541.1L18.45 540.53L17.35 540.53M25.6 540.53L25.6 552.5M25.6 540.53L33.3 552.5M33.3 540.53L33.3 552.5M4.15 486.33L10.2 486.33L6.9 490.89L8.55 490.89L9.65 491.46L10.2 492.03L10.75 493.74L10.75 494.88L10.2 496.59L9.1 497.73L7.45 498.3L5.8 498.3L4.15 497.73L3.6 497.16L3.05 496.02M15.7 488.61L16.8 488.04L18.45 486.33L18.45 498.3M25.6 486.33L25.6 498.3M25.6 486.33L33.3 498.3M33.3 486.33L33.3 498.3M4.15 432.13L10.2 432.13L6.9 436.69L8.55 436.69L9.65 437.26L10.2 437.83L10.75 439.54L10.75 440.68L10.2 442.39L9.1 443.53L7.45 444.1L5.8 444.1L4.15 443.53L3.6 442.96L3.05 441.82M14.6 434.98L14.6 434.41L15.15 433.27L15.7 432.7L16.8 432.13L19 432.13L20.1 432.7L20.65 433.27L21.2 434.41L21.2 435.55L20.65 436.69L19.55 438.4L14.05 444.1L21.75 444.1M25.6 432.13L25.6 444.1M25.6 432.13L33.3 444.1M33.3 432.13L33.3 444.1M4.15 377.93L10.2 377.93L6.9 382.49L8.55 382.49L9.65 383.06L10.2 383.63L10.75 385.34L10.75 386.48L10.2 388.19L9.1 389.33L7.45 389.9L5.8 389.9L4.15 389.33L3.6 388.76L3.05 387.62M15.15 377.93L21.2 377.93L17.9 382.49L19.55 382.49L20.65 383.06L21.2 383.63L21.75 385.34L21.75 386.48L21.2 388.19L20.1 389.33L18.45 389.9L16.8 389.9L15.15 389.33L14.6 388.76L14.05 387.62M25.6 377.93L25.6 389.9M25.6 377.93L33.3 389.9M33.3 377.93L33.3 389.9M4.15 323.73L10.2 323.73L6.9 328.29L8.55 328.29L9.65 328.86L10.2 329.43L10.75 331.14L10.75 332.28L10.2 333.99L9.1 335.13L7.45 335.7L5.8 335.7L4.15 335.13L3.6 334.56L3.05 333.42M19.55 323.73L14.05 331.71L22.3 331.71M19.55 323.73L19.55 335.7M25.6 323.73L25.6 335.7M25.6 323.73L33.3 335.7M33.3 323.73L33.3 335.7M4.15 269.53L10.2 269.53L6.9 274.09L8.55 274.09L9.65 274.66L10.2 275.23L10.75 276.94L10.75 278.08L10.2 279.79L9.1 280.93L7.45 281.5L5.8 281.5L4.15 280.93L3.6 280.36L3.05 279.22M20.65 269.53L15.15 269.53L14.6 274.66L15.15 274.09L16.8 273.52L18.45 273.52L20.1 274.09L21.2 275.23L21.75 276.94L21.75 278.08L21.2 279.79L20.1 280.93L18.45 281.5L16.8 281.5L15.15 280.93L14.6 280.36L14.05 279.22M25.6 269.53L25.6 281.5M25.6 269.53L33.3 281.5M33.3 269.53L33.3 281.5M4.15 215.33L10.2 215.33L6.9 219.89L8.55 219.89L9.65 220.46L10.2 221.03L10.75 222.74L10.75 223.88L10.2 225.59L9.1 226.73L7.45 227.3L5.8 227.3L4.15 226.73L3.6 226.16L3.05 225.02M21.2 217.04L20.65 215.9L19 215.33L17.9 215.33L16.25 215.9L15.15 217.61L14.6 220.46L14.6 223.31L15.15 225.59L16.25 226.73L17.9 227.3L18.45 227.3L20.1 226.73L21.2 225.59L21.75 223.88L21.75 223.31L21.2 221.6L20.1 220.46L18.45 219.89L17.9 219.89L16.25 220.46L15.15 221.6L14.6 223.31M25.6 215.33L25.6 227.3M25.6 215.33L33.3 227.3M33.3 215.33L33.3 227.3M4.15 161.13L10.2 161.13L6.9 165.69L8.55 165.69L9.65 166.26L10.2 166.83L10.75 168.54L10.75 169.68L10.2 171.39L9.1 172.53L7.45 173.1L5.8 173.1L4.15 172.53L3.6 171.96L3.05 170.82M21.75 161.13L16.25 173.1M14.05 161.13L21.75 161.13M25.6 161.13L25.6 173.1M25.6 161.13L33.3 173.1M33.3 161.13L33.3 173.1M4.15 106.93L10.2 106.93L6.9 111.49L8.55 111.49L9.65 112.06L10.2 112.63L10.75 114.34L10.75 115.48L10.2 117.19L9.1 118.33L7.45 118.9L5.8 118.9L4.15 118.33L3.6 117.76L3.05 116.62M16.8 106.93L15.15 107.5L14.6 108.64L14.6 109.78L15.15 110.92L16.25 111.49L18.45 112.06L20.1 112.63L21.2 113.77L21.75 114.91L21.75 116.62L21.2 117.76L20.65 118.33L19 118.9L16.8 118.9L15.15 118.33L14.6 117.76L14.05 116.62L14.05 114.91L14.6 113.77L15.7 112.63L17.35 112.06L19.55 111.49L20.65 110.92L21.2 109.78L21.2 108.64L20.65 107.5L19 106.93L16.8 106.93M25.6 106.93L25.6 118.9M25.6 106.93L33.3 118.9M33.3 106.93L33.3 118.9M84.12 669.72L83.58 671.43L82.48 672.57L80.83 673.14L80.28 673.14L78.62 672.57L77.53 671.43L76.98 669.72L76.98 669.15L77.53 667.44L78.62 666.3L80.28 665.73L80.83 665.73L82.48 666.3L83.58 667.44L84.12 669.72L84.12 672.57L83.58 675.42L82.48 677.13L80.83 677.7L79.73 677.7L78.08 677.13L77.53 675.99M88.53 668.58L88.53 668.01L89.08 666.87L89.62 666.3L90.73 665.73L92.93 665.73L94.03 666.3L94.58 666.87L95.12 668.01L95.12 669.15L94.58 670.29L93.48 672L87.98 677.7L95.68 677.7M98.43 665.73L101.18 677.7M103.93 665.73L101.18 677.7M103.93 665.73L106.68 677.7M109.43 665.73L106.68 677.7M177.25 669.72L176.69 671.43L175.59 672.57L173.94 673.14L173.39 673.14L171.75 672.57L170.64 671.43L170.09 669.72L170.09 669.15L170.64 667.44L171.75 666.3L173.39 665.73L173.94 665.73L175.59 666.3L176.69 667.44L177.25 669.72L177.25 672.57L176.69 675.42L175.59 677.13L173.94 677.7L172.84 677.7L171.19 677.13L170.64 675.99M184.39 665.73L182.75 666.3L181.64 668.01L181.09 670.86L181.09 672.57L181.64 675.42L182.75 677.13L184.39 677.7L185.5 677.7L187.14 677.13L188.25 675.42L188.79 672.57L188.79 670.86L188.25 668.01L187.14 666.3L185.5 665.73L184.39 665.73M191.54 665.73L194.29 677.7M197.04 665.73L194.29 677.7M197.04 665.73L199.79 677.7M202.54 665.73L199.79 677.7M265.96 665.73L264.31 666.3L263.76 667.44L263.76 668.58L264.31 669.72L265.42 670.29L267.62 670.86L269.26 671.43L270.37 672.57L270.92 673.71L270.92 675.42L270.37 676.56L269.81 677.13L268.17 677.7L265.96 677.7L264.31 677.13L263.76 676.56L263.21 675.42L263.21 673.71L263.76 672.57L264.87 671.43L266.51 670.86L268.71 670.29L269.81 669.72L270.37 668.58L270.37 667.44L269.81 666.3L268.17 665.73L265.96 665.73M276.96 665.73L275.31 666.3L274.76 667.44L274.76 668.58L275.31 669.72L276.42 670.29L278.62 670.86L280.26 671.43L281.37 672.57L281.92 673.71L281.92 675.42L281.37 676.56L280.81 677.13L279.17 677.7L276.96 677.7L275.31 677.13L274.76 676.56L274.21 675.42L274.21 673.71L274.76 672.57L275.87 671.43L277.51 670.86L279.71 670.29L280.81 669.72L281.37 668.58L281.37 667.44L280.81 666.3L279.17 665.73L276.96 665.73M284.67 665.73L287.42 677.7M290.17 665.73L287.42 677.7M290.17 665.73L292.92 677.7M295.67 665.73L292.92 677.7M359.08 665.73L357.44 666.3L356.88 667.44L356.88 668.58L357.44 669.72L358.54 670.29L360.74 670.86L362.38 671.43L363.49 672.57L364.04 673.71L364.04 675.42L363.49 676.56L362.94 677.13L361.29 677.7L359.08 677.7L357.44 677.13L356.88 676.56L356.33 675.42L356.33 673.71L356.88 672.57L357.99 671.43L359.63 670.86L361.83 670.29L362.94 669.72L363.49 668.58L363.49 667.44L362.94 666.3L361.29 665.73L359.08 665.73M374.49 667.44L373.94 666.3L372.29 665.73L371.19 665.73L369.54 666.3L368.44 668.01L367.88 670.86L367.88 673.71L368.44 675.99L369.54 677.13L371.19 677.7L371.74 677.7L373.38 677.13L374.49 675.99L375.04 674.28L375.04 673.71L374.49 672L373.38 670.86L371.74 670.29L371.19 670.29L369.54 670.86L368.44 672L367.88 673.71M377.79 665.73L380.54 677.7M383.29 665.73L380.54 677.7M383.29 665.73L386.04 677.7M388.79 665.73L386.04 677.7M452.2 665.73L450.56 666.3L450 667.44L450 668.58L450.56 669.72L451.66 670.29L453.86 670.86L455.5 671.43L456.61 672.57L457.16 673.71L457.16 675.42L456.61 676.56L456.06 677.13L454.41 677.7L452.2 677.7L450.56 677.13L450 676.56L449.45 675.42L449.45 673.71L450 672.57L451.11 671.43L452.75 670.86L454.95 670.29L456.06 669.72L456.61 668.58L456.61 667.44L456.06 666.3L454.41 665.73L452.2 665.73M465.95 665.73L460.45 673.71L468.7 673.71M465.95 665.73L465.95 677.7M470.91 665.73L473.66 677.7M476.41 665.73L473.66 677.7M476.41 665.73L479.16 677.7M481.91 665.73L479.16 677.7M545.33 665.73L543.68 666.3L543.13 667.44L543.13 668.58L543.68 669.72L544.78 670.29L546.98 670.86L548.63 671.43L549.73 672.57L550.28 673.71L550.28 675.42L549.73 676.56L549.18 677.13L547.53 677.7L545.33 677.7L543.68 677.13L543.13 676.56L542.58 675.42L542.58 673.71L543.13 672.57L544.23 671.43L545.88 670.86L548.08 670.29L549.18 669.72L549.73 668.58L549.73 667.44L549.18 666.3L547.53 665.73L545.33 665.73M554.13 668.58L554.13 668.01L554.68 666.87L555.23 666.3L556.33 665.73L558.53 665.73L559.63 666.3L560.18 666.87L560.73 668.01L560.73 669.15L560.18 670.29L559.08 672L553.58 677.7L561.28 677.7M564.03 665.73L566.78 677.7M569.53 665.73L566.78 677.7M569.53 665.73L572.28 677.7M575.03 665.73L572.28 677.7M638.45 665.73L636.8 666.3L636.25 667.44L636.25 668.58L636.8 669.72L637.9 670.29L640.1 670.86L641.75 671.43L642.85 672.57L643.4 673.71L643.4 675.42L642.85 676.56L642.3 677.13L640.65 677.7L638.45 677.7L636.8 677.13L636.25 676.56L635.7 675.42L635.7 673.71L636.25 672.57L637.35 671.43L639 670.86L641.2 670.29L642.3 669.72L642.85 668.58L642.85 667.44L642.3 666.3L640.65 665.73L638.45 665.73M650 665.73L648.35 666.3L647.25 668.01L646.7 670.86L646.7 672.57L647.25 675.42L648.35 677.13L650 677.7L651.1 677.7L652.75 677.13L653.85 675.42L654.4 672.57L654.4 670.86L653.85 668.01L652.75 666.3L651.1 665.73L650 665.73M657.15 665.73L659.9 677.7M662.65 665.73L659.9 677.7M662.65 665.73L665.4 677.7M668.15 665.73L665.4 677.7M736.52 665.73L731.02 677.7M728.82 665.73L736.52 665.73M742.57 665.73L740.92 666.3L740.37 667.44L740.37 668.58L740.92 669.72L742.02 670.29L744.22 670.86L745.87 671.43L746.97 672.57L747.52 673.71L747.52 675.42L746.97 676.56L746.42 677.13L744.77 677.7L742.57 677.7L740.92 677.13L740.37 676.56L739.82 675.42L739.82 673.71L740.37 672.57L741.47 671.43L743.12 670.86L745.32 670.29L746.42 669.72L746.97 668.58L746.97 667.44L746.42 666.3L744.77 665.73L742.57 665.73M750.27 665.73L753.02 677.7M755.77 665.73L753.02 677.7M755.77 665.73L758.52 677.7M761.27 665.73L758.52 677.7M829.64 665.73L824.14 677.7M821.94 665.73L829.64 665.73M840.09 667.44L839.54 666.3L837.89 665.73L836.79 665.73L835.14 666.3L834.04 668.01L833.49 670.86L833.49 673.71L834.04 675.99L835.14 677.13L836.79 677.7L837.34 677.7L838.99 677.13L840.09 675.99L840.64 674.28L840.64 673.71L840.09 672L838.99 670.86L837.34 670.29L836.79 670.29L835.14 670.86L834.04 672L833.49 673.71M843.39 665.73L846.14 677.7M848.89 665.73L846.14 677.7M848.89 665.73L851.64 677.7M854.39 665.73L851.64 677.7M922.76 665.73L917.26 677.7M915.06 665.73L922.76 665.73M931.56 665.73L926.06 673.71L934.31 673.71M931.56 665.73L931.56 677.7M936.51 665.73L939.26 677.7M942.01 665.73L939.26 677.7M942.01 665.73L944.76 677.7M947.51 665.73L944.76 677.7" fill="none" stroke="#000" stroke-width="1.75" stroke-linecap="round" stroke-linejoin="round"/>
<path d="M113.62 7.55L113.62 20M113.62 7.55L118.51 7.55L120.6 8.14L122 9.33L122.7 10.51L123.4 12.29L123.4 15.26L122.7 17.04L122 18.22L120.6 19.41L118.51 20L113.62 20M127.58 15.26L135.96 15.26L135.96 14.07L135.26 12.88L134.56 12.29L133.17 11.7L131.07 11.7L129.68 12.29L128.28 13.48L127.58 15.26L127.58 16.44L128.28 18.22L129.68 19.41L131.07 20L133.17 20L134.56 19.41L135.96 18.22M140.85 11.7L140.85 24.15M140.85 13.48L142.24 12.29L143.64 11.7L145.73 11.7L147.13 12.29L148.53 13.48L149.22 15.26L149.22 16.44L148.53 18.22L147.13 19.41L145.73 20L143.64 20L142.24 19.41L140.85 18.22M154.81 7.55L154.81 17.63L155.5 19.41L156.9 20L158.3 20M152.71 11.7L157.6 11.7M162.48 7.55L162.48 20M162.48 14.07L164.58 12.29L165.97 11.7L168.07 11.7L169.47 12.29L170.16 14.07L170.16 20M192.12 11.7L190.72 12.29L189.32 13.48L188.62 15.26L188.62 16.44L189.32 18.22L190.72 19.41L192.12 20L194.21 20L195.61 19.41L197 18.22L197.7 16.44L197.7 15.26L197 13.48L195.61 12.29L194.21 11.7L192.12 11.7M206.77 7.55L205.38 7.55L203.98 8.14L203.28 9.92L203.28 20M201.19 11.7L206.07 11.7M231.9 9.33L230.5 8.14L228.41 7.55L225.62 7.55L223.52 8.14L222.12 9.33L222.12 10.51L222.82 11.7L223.52 12.29L224.92 12.88L229.11 14.07L230.5 14.66L231.2 15.26L231.9 16.44L231.9 18.22L230.5 19.41L228.41 20L225.62 20L223.52 19.41L222.12 18.22M244.46 11.7L244.46 20M244.46 13.48L243.06 12.29L241.67 11.7L239.57 11.7L238.18 12.29L236.78 13.48L236.09 15.26L236.09 16.44L236.78 18.22L238.18 19.41L239.57 20L241.67 20L243.06 19.41L244.46 18.22M250.74 7.55L250.74 17.63L251.44 19.41L252.84 20L254.23 20M248.65 11.7L253.53 11.7M258.42 11.7L258.42 17.63L259.12 19.41L260.51 20L262.61 20L264 19.41L266.1 17.63M266.1 11.7L266.1 20M271.68 11.7L271.68 20M271.68 15.26L272.38 13.48L273.78 12.29L275.17 11.7L277.27 11.7M288.44 11.7L288.44 20M288.44 13.48L287.04 12.29L285.64 11.7L283.55 11.7L282.15 12.29L280.76 13.48L280.06 15.26L280.06 16.44L280.76 18.22L282.15 19.41L283.55 20L285.64 20L287.04 19.41L288.44 18.22M294.72 7.55L294.72 17.63L295.42 19.41L296.81 20L298.21 20M292.62 11.7L297.51 11.7M301.7 15.26L310.07 15.26L310.07 14.07L309.38 12.88L308.68 12.29L307.28 11.7L305.19 11.7L303.79 12.29L302.39 13.48L301.7 15.26L301.7 16.44L302.39 18.22L303.79 19.41L305.19 20L307.28 20L308.68 19.41L310.07 18.22M322.64 7.55L322.64 20M322.64 13.48L321.24 12.29L319.85 11.7L317.75 11.7L316.36 12.29L314.96 13.48L314.26 15.26L314.26 16.44L314.96 18.22L316.36 19.41L317.75 20L319.85 20L321.24 19.41L322.64 18.22M329.62 19.41L328.92 20L328.22 19.41L328.92 18.81L329.62 19.41L329.62 20.59L328.92 21.78L328.22 22.37M356.4 9.33L355 8.14L352.91 7.55L350.12 7.55L348.02 8.14L346.62 9.33L346.62 10.51L347.32 11.7L348.02 12.29L349.42 12.88L353.61 14.07L355 14.66L355.7 15.26L356.4 16.44L356.4 18.22L355 19.41L352.91 20L350.12 20L348.02 19.41L346.62 18.22M359.89 11.7L364.07 20M368.26 11.7L364.07 20L362.68 22.37L361.28 23.56L359.89 24.15L359.19 24.15M372.45 11.7L372.45 20M372.45 14.07L374.55 12.29L375.94 11.7L378.04 11.7L379.43 12.29L380.13 14.07L380.13 20M380.13 14.07L382.22 12.29L383.62 11.7L385.71 11.7L387.11 12.29L387.81 14.07L387.81 20M393.39 11.7L393.39 20M393.39 14.07L395.49 12.29L396.88 11.7L398.98 11.7L400.37 12.29L401.07 14.07L401.07 20M401.07 14.07L403.16 12.29L404.56 11.7L406.65 11.7L408.05 12.29L408.75 14.07L408.75 20M413.63 15.26L422.01 15.26L422.01 14.07L421.31 12.88L420.61 12.29L419.22 11.7L417.12 11.7L415.73 12.29L414.33 13.48L413.63 15.26L413.63 16.44L414.33 18.22L415.73 19.41L417.12 20L419.22 20L420.61 19.41L422.01 18.22M427.59 7.55L427.59 17.63L428.29 19.41L429.69 20L431.08 20M425.5 11.7L430.38 11.7M435.27 11.7L435.27 20M435.27 15.26L435.97 13.48L437.37 12.29L438.76 11.7L440.86 11.7M443.65 7.55L444.35 8.14L445.04 7.55L444.35 6.95L443.65 7.55M444.35 11.7L444.35 20M457.61 13.48L456.21 12.29L454.81 11.7L452.72 11.7L451.32 12.29L449.93 13.48L449.23 15.26L449.23 16.44L449.93 18.22L451.32 19.41L452.72 20L454.81 20L456.21 19.41L457.61 18.22M470.17 11.7L470.17 20M470.17 13.48L468.77 12.29L467.38 11.7L465.28 11.7L463.89 12.29L462.49 13.48L461.8 15.26L461.8 16.44L462.49 18.22L463.89 19.41L465.28 20L467.38 20L468.77 19.41L470.17 18.22M475.75 7.55L475.75 20M481.34 7.55L481.34 20M485.53 11.7L489.72 20M493.9 11.7L489.72 20L488.32 22.37L486.92 23.56L485.53 24.15L484.83 24.15M510.88 7.55L510.88 16.44L511.57 18.22L512.97 19.41L515.06 20L516.46 20L518.55 19.41L519.95 18.22L520.65 16.44L520.65 7.55M526.23 11.7L526.23 20M526.23 14.07L528.33 12.29L529.72 11.7L531.82 11.7L533.21 12.29L533.91 14.07L533.91 20M546.47 13.48L545.77 12.29L543.68 11.7L541.59 11.7L539.49 12.29L538.8 13.48L539.49 14.66L540.89 15.26L544.38 15.85L545.77 16.44L546.47 17.63L546.47 18.22L545.77 19.41L543.68 20L541.59 20L539.49 19.41L538.8 18.22M552.06 7.55L552.06 17.63L552.75 19.41L554.15 20L555.55 20M549.96 11.7L554.85 11.7M567.41 11.7L567.41 20M567.41 13.48L566.02 12.29L564.62 11.7L562.53 11.7L561.13 12.29L559.74 13.48L559.04 15.26L559.04 16.44L559.74 18.22L561.13 19.41L562.53 20L564.62 20L566.02 19.41L567.41 18.22M573 7.55L573 20M573 13.48L574.39 12.29L575.79 11.7L577.88 11.7L579.28 12.29L580.68 13.48L581.37 15.26L581.37 16.44L580.68 18.22L579.28 19.41L577.88 20L575.79 20L574.39 19.41L573 18.22M586.26 7.55L586.26 20M591.14 15.26L599.52 15.26L599.52 14.07L598.82 12.88L598.12 12.29L596.73 11.7L594.63 11.7L593.24 12.29L591.84 13.48L591.14 15.26L591.14 16.44L591.84 18.22L593.24 19.41L594.63 20L596.73 20L598.12 19.41L599.52 18.22M621.71 7.55L616.12 20M621.71 7.55L627.29 20M618.22 15.85L625.2 15.85M631.48 7.55L631.48 17.63L632.18 19.41L633.58 20L634.97 20M629.39 11.7L634.27 11.7M639.16 11.7L639.16 20M639.16 14.07L641.25 12.29L642.65 11.7L644.74 11.7L646.14 12.29L646.84 14.07L646.84 20M646.84 14.07L648.93 12.29L650.33 11.7L652.42 11.7L653.82 12.29L654.51 14.07L654.51 20M662.89 11.7L661.5 12.29L660.1 13.48L659.4 15.26L659.4 16.44L660.1 18.22L661.5 19.41L662.89 20L664.99 20L666.38 19.41L667.78 18.22L668.48 16.44L668.48 15.26L667.78 13.48L666.38 12.29L664.99 11.7L662.89 11.7M680.34 13.48L679.64 12.29L677.55 11.7L675.46 11.7L673.36 12.29L672.66 13.48L673.36 14.66L674.76 15.26L678.25 15.85L679.64 16.44L680.34 17.63L680.34 18.22L679.64 19.41L677.55 20L675.46 20L673.36 19.41L672.66 18.22M685.23 11.7L685.23 24.15M685.23 13.48L686.62 12.29L688.02 11.7L690.11 11.7L691.51 12.29L692.9 13.48L693.6 15.26L693.6 16.44L692.9 18.22L691.51 19.41L690.11 20L688.02 20L686.62 19.41L685.23 18.22M698.49 7.55L698.49 20M698.49 14.07L700.58 12.29L701.98 11.7L704.07 11.7L705.47 12.29L706.17 14.07L706.17 20M711.05 15.26L719.43 15.26L719.43 14.07L718.73 12.88L718.03 12.29L716.64 11.7L714.54 11.7L713.15 12.29L711.75 13.48L711.05 15.26L711.05 16.44L711.75 18.22L713.15 19.41L714.54 20L716.64 20L718.03 19.41L719.43 18.22M724.32 11.7L724.32 20M724.32 15.26L725.01 13.48L726.41 12.29L727.81 11.7L729.9 11.7M732.69 15.26L741.07 15.26L741.07 14.07L740.37 12.88L739.67 12.29L738.27 11.7L736.18 11.7L734.78 12.29L733.39 13.48L732.69 15.26L732.69 16.44L733.39 18.22L734.78 19.41L736.18 20L738.27 20L739.67 19.41L741.07 18.22M762.51 5.18L761.12 6.36L759.72 8.14L758.32 10.51L757.62 13.48L757.62 15.85L758.32 18.81L759.72 21.19L761.12 22.96L762.51 24.15M774.38 13.48L773.68 12.29L771.58 11.7L769.49 11.7L767.4 12.29L766.7 13.48L767.4 14.66L768.79 15.26L772.28 15.85L773.68 16.44L774.38 17.63L774.38 18.22L773.68 19.41L771.58 20L769.49 20L767.4 19.41L766.7 18.22M779.26 7.55L779.26 20M779.26 14.07L781.36 12.29L782.75 11.7L784.85 11.7L786.24 12.29L786.94 14.07L786.94 20M800.2 11.7L800.2 20M800.2 13.48L798.81 12.29L797.41 11.7L795.32 11.7L793.92 12.29L792.52 13.48L791.83 15.26L791.83 16.44L792.52 18.22L793.92 19.41L795.32 20L797.41 20L798.81 19.41L800.2 18.22M813.46 7.55L813.46 20M813.46 13.48L812.07 12.29L810.67 11.7L808.58 11.7L807.18 12.29L805.79 13.48L805.09 15.26L805.09 16.44L805.79 18.22L807.18 19.41L808.58 20L810.67 20L812.07 19.41L813.46 18.22M818.35 15.26L826.73 15.26L826.73 14.07L826.03 12.88L825.33 12.29L823.93 11.7L821.84 11.7L820.44 12.29L819.05 13.48L818.35 15.26L818.35 16.44L819.05 18.22L820.44 19.41L821.84 20L823.93 20L825.33 19.41L826.73 18.22M839.29 7.55L839.29 20M839.29 13.48L837.89 12.29L836.5 11.7L834.4 11.7L833.01 12.29L831.61 13.48L830.91 15.26L830.91 16.44L831.61 18.22L833.01 19.41L834.4 20L836.5 20L837.89 19.41L839.29 18.22M846.27 19.41L845.57 20L844.88 19.41L845.57 18.81L846.27 19.41L846.27 20.59L845.57 21.78L844.88 22.37M865.02 11.7L865.02 20M865.02 14.07L867.12 12.29L868.51 11.7L870.61 11.7L872 12.29L872.7 14.07L872.7 20M872.7 14.07L874.8 12.29L876.19 11.7L878.29 11.7L879.68 12.29L880.38 14.07L880.38 20M885.96 7.55L885.96 20M885.96 13.48L887.36 12.29L888.76 11.7L890.85 11.7L892.25 12.29L893.64 13.48L894.34 15.26L894.34 16.44L893.64 18.22L892.25 19.41L890.85 20L888.76 20L887.36 19.41L885.96 18.22M898.53 5.18L899.92 6.36L901.32 8.14L902.72 10.51L903.41 13.48L903.41 15.85L902.72 18.81L901.32 21.19L899.92 22.96L898.53 24.15M909.7 11.7L909 12.29L909.7 12.88L910.39 12.29L909.7 11.7M909.7 18.81L909 19.41L909.7 20L910.39 19.41L909.7 18.81" fill="none" stroke="#000" stroke-width="1.25" stroke-linecap="round" stroke-linejoin="round"/>
<path d="M171.88 93.12L171.88 105.4M171.88 93.12L177.46 105.4M183.04 93.12L177.46 105.4M183.04 93.12L183.04 105.4M191.42 97.21L190.02 97.8L188.63 98.97L187.93 100.72L187.93 101.89L188.63 103.65L190.02 104.82L191.42 105.4L193.51 105.4L194.91 104.82L196.31 103.65L197 101.89L197 100.72L196.31 98.97L194.91 97.8L193.51 97.21L191.42 97.21M209.57 93.12L209.57 105.4M209.57 98.97L208.17 97.8L206.78 97.21L204.68 97.21L203.28 97.8L201.89 98.97L201.19 100.72L201.19 101.89L201.89 103.65L203.28 104.82L204.68 105.4L206.78 105.4L208.17 104.82L209.57 103.65M214.45 100.72L222.83 100.72L222.83 99.55L222.13 98.38L221.43 97.8L220.04 97.21L217.94 97.21L216.55 97.8L215.15 98.97L214.45 100.72L214.45 101.89L215.15 103.65L216.55 104.82L217.94 105.4L220.04 105.4L221.43 104.82L222.83 103.65M227.72 93.12L227.72 105.4M245.62 93.12L245.62 105.4M245.62 93.12L254.7 93.12M245.62 98.97L251.21 98.97M260.98 97.21L259.58 97.8L258.19 98.97L257.49 100.72L257.49 101.89L258.19 103.65L259.58 104.82L260.98 105.4L263.07 105.4L264.47 104.82L265.87 103.65L266.56 101.89L266.56 100.72L265.87 98.97L264.47 97.8L263.07 97.21L260.98 97.21M271.45 97.21L271.45 105.4M271.45 100.72L272.15 98.97L273.55 97.8L274.94 97.21L277.03 97.21M279.83 100.72L288.2 100.72L288.2 99.55L287.5 98.38L286.81 97.8L285.41 97.21L283.32 97.21L281.92 97.8L280.52 98.97L279.83 100.72L279.83 101.89L280.52 103.65L281.92 104.82L283.32 105.4L285.41 105.4L286.81 104.82L288.2 103.65M300.77 98.97L299.37 97.8L297.98 97.21L295.88 97.21L294.49 97.8L293.09 98.97L292.39 100.72L292.39 101.89L293.09 103.65L294.49 104.82L295.88 105.4L297.98 105.4L299.37 104.82L300.77 103.65M313.33 97.21L313.33 105.4M313.33 98.97L311.94 97.8L310.54 97.21L308.44 97.21L307.05 97.8L305.65 98.97L304.95 100.72L304.95 101.89L305.65 103.65L307.05 104.82L308.44 105.4L310.54 105.4L311.94 104.82L313.33 103.65M325.89 98.97L325.2 97.8L323.1 97.21L321.01 97.21L318.91 97.8L318.22 98.97L318.91 100.14L320.31 100.72L323.8 101.31L325.2 101.89L325.89 103.06L325.89 103.65L325.2 104.82L323.1 105.4L321.01 105.4L318.91 104.82L318.22 103.65M331.48 93.12L331.48 103.06L332.18 104.82L333.57 105.4L334.97 105.4M329.38 97.21L334.27 97.21M362.35 96.04L361.65 94.87L360.25 93.7L358.86 93.12L356.06 93.12L354.67 93.7L353.27 94.87L352.57 96.04L351.88 97.8L351.88 100.72L352.57 102.48L353.27 103.65L354.67 104.82L356.06 105.4L358.86 105.4L360.25 104.82L361.65 103.65L362.35 102.48M370.72 93.12L365.14 105.4M370.72 93.12L376.31 105.4M367.23 101.31L374.21 101.31M379.8 93.12L379.8 105.4M379.8 93.12L386.08 93.12L388.17 93.7L388.87 94.29L389.57 95.46L389.57 97.21L388.87 98.38L388.17 98.97L386.08 99.55L379.8 99.55M394.45 93.12L394.45 105.4M394.45 93.12L403.53 93.12M394.45 98.97L400.04 98.97M394.45 105.4L403.53 105.4M424.76 90.78L423.37 91.95L421.97 93.7L420.57 96.04L419.88 98.97L419.88 101.31L420.57 104.23L421.97 106.57L423.37 108.33L424.76 109.5M436.63 98.97L435.93 97.8L433.84 97.21L431.74 97.21L429.65 97.8L428.95 98.97L429.65 100.14L431.04 100.72L434.53 101.31L435.93 101.89L436.63 103.06L436.63 103.65L435.93 104.82L433.84 105.4L431.74 105.4L429.65 104.82L428.95 103.65M441.51 93.12L441.51 105.4M441.51 99.55L443.61 97.8L445 97.21L447.1 97.21L448.49 97.8L449.19 99.55L449.19 105.4M462.45 97.21L462.45 105.4M462.45 98.97L461.06 97.8L459.66 97.21L457.57 97.21L456.17 97.8L454.78 98.97L454.08 100.72L454.08 101.89L454.78 103.65L456.17 104.82L457.57 105.4L459.66 105.4L461.06 104.82L462.45 103.65M475.72 93.12L475.72 105.4M475.72 98.97L474.32 97.8L472.92 97.21L470.83 97.21L469.43 97.8L468.04 98.97L467.34 100.72L467.34 101.89L468.04 103.65L469.43 104.82L470.83 105.4L472.92 105.4L474.32 104.82L475.72 103.65M480.6 100.72L488.98 100.72L488.98 99.55L488.28 98.38L487.58 97.8L486.19 97.21L484.09 97.21L482.7 97.8L481.3 98.97L480.6 100.72L480.6 101.89L481.3 103.65L482.7 104.82L484.09 105.4L486.19 105.4L487.58 104.82L488.98 103.65M501.54 93.12L501.54 105.4M501.54 98.97L500.15 97.8L498.75 97.21L496.66 97.21L495.26 97.8L493.86 98.97L493.17 100.72L493.17 101.89L493.86 103.65L495.26 104.82L496.66 105.4L498.75 105.4L500.15 104.82L501.54 103.65M508.52 104.82L507.82 105.4L507.12 104.82L507.82 104.23L508.52 104.82L508.52 105.98L507.82 107.16L507.12 107.74M532.61 93.12L532.61 102.48L531.91 104.23L531.21 104.82L529.81 105.4L528.42 105.4L527.02 104.82L526.32 104.23L525.62 102.48L525.62 101.31M549.36 90.78L536.79 109.5M553.55 93.12L553.55 105.4M560.53 97.21L553.55 103.06M556.34 100.72L561.22 105.4M573.09 97.21L573.09 106.57L572.39 108.33L571.69 108.91L570.3 109.5L568.2 109.5L566.81 108.91M573.09 98.97L571.69 97.8L570.3 97.21L568.2 97.21L566.81 97.8L565.41 98.97L564.71 100.72L564.71 101.89L565.41 103.65L566.81 104.82L568.2 105.4L570.3 105.4L571.69 104.82L573.09 103.65M577.98 90.78L579.37 91.95L580.77 93.7L582.16 96.04L582.86 98.97L582.86 101.31L582.16 104.23L580.77 106.57L579.37 108.33L577.98 109.5M614.58 98.38L614.58 97.8L613.89 97.21L613.19 97.21L612.49 97.8L611.79 98.97L610.4 101.89L609 103.65L607.6 104.82L606.21 105.4L603.42 105.4L602.02 104.82L601.32 104.23L600.62 103.06L600.62 101.89L601.32 100.72L602.02 100.14L606.91 97.8L607.6 97.21L608.3 96.04L608.3 94.87L607.6 93.7L606.21 93.12L604.81 93.7L604.11 94.87L604.11 96.04L604.81 97.8L606.21 99.55L609.7 103.65L611.09 104.82L612.49 105.4L613.89 105.4L614.58 104.82L614.58 104.23M631.62 93.12L631.62 105.4M631.62 93.12L637.21 105.4M642.79 93.12L637.21 105.4M642.79 93.12L642.79 105.4M657.45 94.87L656.05 93.7L653.96 93.12L651.17 93.12L649.07 93.7L647.68 94.87L647.68 96.04L648.38 97.21L649.07 97.8L650.47 98.38L654.66 99.55L656.05 100.14L656.75 100.72L657.45 101.89L657.45 103.65L656.05 104.82L653.96 105.4L651.17 105.4L649.07 104.82L647.68 103.65M662.34 93.12L662.34 105.4M662.34 105.4L670.71 105.4M674.2 93.12L674.2 105.4M674.2 93.12L680.49 93.12L682.58 93.7L683.28 94.29L683.97 95.46L683.97 97.21L683.28 98.38L682.58 98.97L680.49 99.55L674.2 99.55M706.51 90.78L705.12 91.95L703.72 93.7L702.32 96.04L701.62 98.97L701.62 101.31L702.32 104.23L703.72 106.57L705.12 108.33L706.51 109.5M719.07 98.97L717.68 97.8L716.28 97.21L714.19 97.21L712.79 97.8L711.4 98.97L710.7 100.72L710.7 101.89L711.4 103.65L712.79 104.82L714.19 105.4L716.28 105.4L717.68 104.82L719.07 103.65M726.75 97.21L725.36 97.8L723.96 98.97L723.26 100.72L723.26 101.89L723.96 103.65L725.36 104.82L726.75 105.4L728.85 105.4L730.24 104.82L731.64 103.65L732.34 101.89L732.34 100.72L731.64 98.97L730.24 97.8L728.85 97.21L726.75 97.21M737.22 97.21L737.22 105.4M737.22 99.55L739.32 97.8L740.71 97.21L742.81 97.21L744.2 97.8L744.9 99.55L744.9 105.4M751.18 93.12L751.18 103.06L751.88 104.82L753.28 105.4L754.67 105.4M749.09 97.21L753.97 97.21M761.65 97.21L760.26 97.8L758.86 98.97L758.16 100.72L758.16 101.89L758.86 103.65L760.26 104.82L761.65 105.4L763.75 105.4L765.14 104.82L766.54 103.65L767.24 101.89L767.24 100.72L766.54 98.97L765.14 97.8L763.75 97.21L761.65 97.21M772.12 97.21L772.12 103.06L772.82 104.82L774.22 105.4L776.31 105.4L777.71 104.82L779.8 103.06M779.8 97.21L779.8 105.4M785.38 97.21L785.38 105.4M785.38 100.72L786.08 98.97L787.48 97.8L788.88 97.21L790.97 97.21M795.86 104.82L795.16 105.4L794.46 104.82L795.16 104.23L795.86 104.82L795.86 105.98L795.16 107.16L794.46 107.74M814.12 97.21L814.12 105.4M814.12 99.55L816.22 97.8L817.62 97.21L819.71 97.21L821.11 97.8L821.8 99.55L821.8 105.4M821.8 99.55L823.9 97.8L825.29 97.21L827.39 97.21L828.78 97.8L829.48 99.55L829.48 105.4M835.06 93.12L835.06 105.4M835.06 98.97L836.46 97.8L837.86 97.21L839.95 97.21L841.35 97.8L842.74 98.97L843.44 100.72L843.44 101.89L842.74 103.65L841.35 104.82L839.95 105.4L837.86 105.4L836.46 104.82L835.06 103.65M847.63 90.78L849.02 91.95L850.42 93.7L851.82 96.04L852.51 98.97L852.51 101.31L851.82 104.23L850.42 106.57L849.02 108.33L847.63 109.5" fill="none" stroke="#000" stroke-width="1.25" stroke-linecap="round" stroke-linejoin="round"/>
<path d="M331.94 38.19L331.94 48.83L331.18 50.83L330.43 51.49L328.92 52.16L326.65 52.16L325.14 51.49M331.94 40.19L330.43 38.86L328.92 38.19L326.65 38.19L325.14 38.86L323.63 40.19L322.88 42.18L322.88 43.51L323.63 45.51L325.14 46.84L326.65 47.5L328.92 47.5L330.43 46.84L331.94 45.51M344.91 30.88L343.4 32.2L341.89 34.2L340.38 36.86L339.62 40.19L339.62 42.84L340.38 46.17L341.89 48.83L343.4 50.83L344.91 52.16M356.42 33.53L354.91 33.53L353.39 34.2L352.64 36.2L352.64 47.5M350.38 38.19L355.66 38.19M367.17 35.53L367.17 47.5M360.38 41.52L373.97 41.52M401.43 30.88L402.94 32.2L404.45 34.2L405.96 36.86L406.71 40.19L406.71 42.84L405.96 46.17L404.45 48.83L402.94 50.83L401.43 52.16M418.91 30.88L417.4 32.2L415.89 34.2L414.38 36.86L413.62 40.19L413.62 42.84L414.38 46.17L415.89 48.83L417.4 50.83L418.91 52.16M433.99 33.53L433.99 47.5M433.99 40.19L432.48 38.86L430.97 38.19L428.7 38.19L427.19 38.86L425.68 40.19L424.93 42.18L424.93 43.51L425.68 45.51L427.19 46.84L428.7 47.5L430.97 47.5L432.48 46.84L433.99 45.51M475.22 30.88L461.62 52.16M490.58 33.53L490.58 47.5M490.58 40.19L489.07 38.86L487.56 38.19L485.3 38.19L483.79 38.86L482.28 40.19L481.52 42.18L481.52 43.51L482.28 45.51L483.79 46.84L485.3 47.5L487.56 47.5L489.07 46.84L490.58 45.51M503.68 38.19L495.38 47.5M495.38 38.19L503.68 38.19M495.38 47.5L503.68 47.5M509.62 30.88L511.13 32.2L512.64 34.2L514.15 36.86L514.91 40.19L514.91 42.84L514.15 46.17L512.64 48.83L511.13 50.83L509.62 52.16" fill="none" stroke="#fa3c3c" stroke-width="1.25" stroke-linecap="round" stroke-linejoin="round"/>
<path d="M386.37 32.88L384.53 33.6L383.61 34.32L383.61 35.04L384.53 35.76L387.29 36.48L390.05 36.48M390.05 36.48L386.37 37.92L383.61 39.36L380.85 41.52L379.93 43.68L379.93 45.12L380.85 46.56L382.69 48L385.45 49.44L386.37 50.88L386.37 52.32L385.45 53.04L383.61 53.04L382.69 51.6" fill="none" stroke="#fa3c3c" stroke-width="1.25" stroke-linecap="round" stroke-linejoin="round"/>
<path d="M446.23 32.89L444.62 33.6L443.03 35.73L442.23 37.15L441.43 39.28L440.62 42.83L440.62 45.67L441.43 47.09L442.23 47.8L443.83 47.8L445.43 47.09L447.03 44.96L447.83 43.54L448.62 41.41L449.43 37.86L449.43 35.02L448.62 33.6L447.83 32.89L446.23 32.89M441.43 39.99L448.62 39.99" fill="none" stroke="#fa3c3c" stroke-width="1.75" stroke-linecap="round" stroke-linejoin="round"/>
<path d="M397.63 46.7L397.63 51.5L397.29 52.4L396.95 52.7L396.27 53L395.25 53L394.57 52.7M397.63 47.6L396.95 47L396.27 46.7L395.25 46.7L394.57 47L393.89 47.6L393.55 48.5L393.55 49.1L393.89 50L394.57 50.6L395.25 50.9L396.27 50.9L396.95 50.6L397.63 50" fill="none" stroke="#fa3c3c" stroke-width="1.3" stroke-linecap="round" stroke-linejoin="round"/>
<path d="M453.95 44.6L453.95 50.9M453.95 44.6L458.37 44.6M453.95 47.6L456.67 47.6M453.95 50.9L458.37 50.9" fill="none" stroke="#fa3c3c" stroke-width="1.3" stroke-linecap="round" stroke-linejoin="round"/>
<rect x="301.5" y="56.9" width="235" height="2.7" fill="#f00082"/>
<path d="M354.47 65.03L352.96 65.03L351.44 65.7L350.69 67.69L350.69 79M348.43 69.69L353.71 69.69M363.41 62.38L361.9 63.7L360.39 65.7L358.88 68.36L358.12 71.69L358.12 74.34L358.88 77.67L360.39 80.33L361.9 82.33L363.41 83.66M378.58 65.03L378.58 79M378.58 71.69L377.07 70.36L375.56 69.69L373.3 69.69L371.79 70.36L370.28 71.69L369.52 73.68L369.52 75.01L370.28 77L371.79 78.33L373.3 79L375.56 79L377.07 78.33L378.58 77M382.52 65.03L388.56 79M394.6 65.03L388.56 79M419.02 62.38L405.43 83.66M434.08 65.03L434.08 79M434.08 71.69L432.57 70.36L431.06 69.69L428.8 69.69L427.29 70.36L425.78 71.69L425.02 73.68L425.02 75.01L425.78 77L427.29 78.33L428.8 79L431.06 79L432.57 78.33L434.08 77M446.63 69.69L438.32 79M438.32 69.69L446.63 69.69M438.32 79L446.63 79M451.88 62.38L453.38 63.7L454.9 65.7L456.41 68.36L457.16 71.69L457.16 74.34L456.41 77.67L454.9 80.33L453.38 82.33L451.88 83.66" fill="none" stroke="#fa3c3c" stroke-width="1.25" stroke-linecap="round" stroke-linejoin="round"/>
<path d="M478.48 64.39L476.88 65.1L475.28 67.23L474.48 68.65L473.68 70.78L472.88 74.33L472.88 77.17L473.68 78.59L474.48 79.3L476.08 79.3L477.68 78.59L479.28 76.46L480.08 75.04L480.88 72.91L481.68 69.36L481.68 66.52L480.88 65.1L480.08 64.39L478.48 64.39M473.68 71.49L480.88 71.49" fill="none" stroke="#fa3c3c" stroke-width="1.75" stroke-linecap="round" stroke-linejoin="round"/>
<path d="M402.83 78.4L402.83 83.2L402.49 84.1L402.15 84.4L401.47 84.7L400.45 84.7L399.77 84.4M402.83 79.3L402.15 78.7L401.47 78.4L400.45 78.4L399.77 78.7L399.09 79.3L398.75 80.2L398.75 80.8L399.09 81.7L399.77 82.3L400.45 82.6L401.47 82.6L402.15 82.3L402.83 81.7" fill="none" stroke="#fa3c3c" stroke-width="1.3" stroke-linecap="round" stroke-linejoin="round"/>
<path d="M463.69 65.8L463.69 65.5L464.03 64.9L464.37 64.6L465.05 64.3L466.41 64.3L467.09 64.6L467.43 64.9L467.77 65.5L467.77 66.1L467.43 66.7L466.75 67.6L463.35 70.6L468.11 70.6" fill="none" stroke="#fa3c3c" stroke-width="1.3" stroke-linecap="round" stroke-linejoin="round"/>
<path d="M486.75 76.8L486.75 83.1M486.75 76.8L491.17 76.8M486.75 79.8L489.47 79.8M486.75 83.1L491.17 83.1" fill="none" stroke="#fa3c3c" stroke-width="1.3" stroke-linecap="round" stroke-linejoin="round"/>
<path d="M576.23 53.82L562.62 60.21L576.23 66.6M597.62 54.53L599.32 53.82L601.88 51.69L601.88 66.6M643.38 58.08L643.38 57.37L642.53 56.66L641.68 56.66L640.83 57.37L639.98 58.79L638.28 62.34L636.58 64.47L634.88 65.89L633.18 66.6L629.78 66.6L628.08 65.89L627.23 65.18L626.38 63.76L626.38 62.34L627.23 60.92L628.08 60.21L634.03 57.37L634.88 56.66L635.73 55.24L635.73 53.82L634.88 52.4L633.18 51.69L631.48 52.4L630.62 53.82L630.62 55.24L631.48 57.37L633.18 59.5L637.43 64.47L639.12 65.89L640.83 66.6L642.53 66.6L643.38 65.89L643.38 65.18M662.23 51.69L662.23 66.6M662.23 51.69L669.88 51.69L672.43 52.4L673.28 53.11L674.12 54.53L674.12 55.95L673.28 57.37L672.43 58.08L669.88 58.79L662.23 58.79M668.18 58.79L674.12 66.6M680.08 51.69L680.08 66.6M691.98 51.69L691.98 66.6M680.08 58.79L691.98 58.79M712.88 53.82L726.48 60.21L712.88 66.6M757.68 56.66L756.83 58.79L755.12 60.21L752.58 60.92L751.73 60.92L749.18 60.21L747.48 58.79L746.62 56.66L746.62 55.95L747.48 53.82L749.18 52.4L751.73 51.69L752.58 51.69L755.12 52.4L756.83 53.82L757.68 56.66L757.68 60.21L756.83 63.76L755.12 65.89L752.58 66.6L750.88 66.6L748.33 65.89L747.48 64.47M773.83 51.69L765.33 51.69L764.48 58.08L765.33 57.37L767.88 56.66L770.43 56.66L772.98 57.37L774.68 58.79L775.53 60.92L775.53 62.34L774.68 64.47L772.98 65.89L770.43 66.6L767.88 66.6L765.33 65.89L764.48 65.18L763.62 63.76M795.93 51.69L794.23 52.4L791.68 53.11L789.12 53.11L786.58 52.4L784.88 51.69L783.18 51.69L781.48 52.4L780.62 53.82L780.62 55.24L782.33 56.66L784.03 56.66L785.73 55.95L786.58 54.53L786.58 53.11L784.88 51.69M795.93 51.69L780.62 66.6M794.23 61.63L792.53 61.63L790.83 62.34L789.98 63.76L789.98 65.18L791.68 66.6L793.38 66.6L795.08 65.89L795.93 64.47L795.93 63.05L794.23 61.63" fill="none" stroke="#fa3c3c" stroke-width="1.25" stroke-linecap="round" stroke-linejoin="round"/>
<path d="M163.8 684.65L161.71 685.26L160.32 687.08L159.62 690.12L159.62 691.94L160.32 694.97L161.71 696.79L163.8 697.4L165.19 697.4L167.28 696.79L168.67 694.97L169.37 691.94L169.37 690.12L168.67 687.08L167.28 685.26L165.19 684.65L163.8 684.65M182.59 686.47L181.9 685.26L179.81 684.65L178.42 684.65L176.33 685.26L174.94 687.08L174.24 690.12L174.24 693.15L174.94 695.58L176.33 696.79L178.42 697.4L179.11 697.4L181.2 696.79L182.59 695.58L183.29 693.76L183.29 693.15L182.59 691.33L181.2 690.12L179.11 689.51L178.42 689.51L176.33 690.12L174.94 691.33L174.24 693.15M197.21 684.65L187.47 697.4M187.47 684.65L197.21 684.65M187.47 697.4L197.21 697.4M205.56 684.65L203.47 685.26L202.08 687.08L201.38 690.12L201.38 691.94L202.08 694.97L203.47 696.79L205.56 697.4L206.95 697.4L209.04 696.79L210.43 694.97L211.13 691.94L211.13 690.12L210.43 687.08L209.04 685.26L206.95 684.65L205.56 684.65M224.35 688.9L223.66 690.72L222.26 691.94L220.18 692.54L219.48 692.54L217.39 691.94L216 690.72L215.31 688.9L215.31 688.29L216 686.47L217.39 685.26L219.48 684.65L220.18 684.65L222.26 685.26L223.66 686.47L224.35 688.9L224.35 691.94L223.66 694.97L222.26 696.79L220.18 697.4L218.78 697.4L216.7 696.79L216 695.58M229.92 684.65L229.92 697.4M229.92 684.65L235.49 697.4M241.06 684.65L235.49 697.4M241.06 684.65L241.06 697.4M250.11 684.65L244.54 697.4M250.11 684.65L255.67 697.4M246.62 693.15L253.58 693.15M259.15 684.65L259.15 697.4M259.15 684.65L265.42 684.65L267.5 685.26L268.2 685.87L268.9 687.08L268.9 688.29L268.2 689.51L267.5 690.12L265.42 690.72L259.15 690.72M264.02 690.72L268.9 697.4M273.77 687.69L273.77 687.08L274.47 685.87L275.16 685.26L276.55 684.65L279.34 684.65L280.73 685.26L281.43 685.87L282.12 687.08L282.12 688.29L281.43 689.51L280.03 691.33L273.07 697.4L282.82 697.4M291.17 684.65L289.08 685.26L287.69 687.08L286.99 690.12L286.99 691.94L287.69 694.97L289.08 696.79L291.17 697.4L292.56 697.4L294.65 696.79L296.04 694.97L296.74 691.94L296.74 690.12L296.04 687.08L294.65 685.26L292.56 684.65L291.17 684.65M301.61 687.69L301.61 687.08L302.31 685.87L303 685.26L304.39 684.65L307.18 684.65L308.57 685.26L309.26 685.87L309.96 687.08L309.96 688.29L309.26 689.51L307.87 691.33L300.91 697.4L310.66 697.4M323.88 686.47L323.19 685.26L321.1 684.65L319.7 684.65L317.62 685.26L316.23 687.08L315.53 690.12L315.53 693.15L316.23 695.58L317.62 696.79L319.7 697.4L320.4 697.4L322.49 696.79L323.88 695.58L324.58 693.76L324.58 693.15L323.88 691.33L322.49 690.12L320.4 689.51L319.7 689.51L317.62 690.12L316.23 691.33L315.53 693.15M344.62 687.08L346.02 686.47L348.11 684.65L348.11 697.4M357.15 687.69L357.15 687.08L357.85 685.87L358.55 685.26L359.94 684.65L362.72 684.65L364.11 685.26L364.81 685.87L365.5 687.08L365.5 688.29L364.81 689.51L363.42 691.33L356.46 697.4L366.2 697.4M371.07 684.65L371.07 697.4M378.03 688.9L371.07 694.97M373.86 692.54L378.73 697.4M382.91 688.9L382.91 697.4M382.91 691.33L384.99 689.51L386.38 688.9L388.47 688.9L389.87 689.51L390.56 691.33L390.56 697.4M390.56 691.33L392.65 689.51L394.04 688.9L396.13 688.9L397.52 689.51L398.22 691.33L398.22 697.4M415.62 684.65L415.62 697.4M415.62 684.65L425.37 697.4M425.37 684.65L425.37 697.4M434.42 684.65L428.85 697.4M434.42 684.65L439.99 697.4M430.94 693.15L437.9 693.15M443.47 684.65L443.47 697.4M443.47 684.65L449.03 697.4M454.6 684.65L449.03 697.4M454.6 684.65L454.6 697.4M474.02 684.65L481.67 684.65L477.5 689.51L479.58 689.51L480.98 690.12L481.67 690.72L482.37 692.54L482.37 693.76L481.67 695.58L480.28 696.79L478.19 697.4L476.1 697.4L474.02 696.79L473.32 696.19L472.62 694.97M495.59 688.9L494.9 690.72L493.5 691.94L491.42 692.54L490.72 692.54L488.63 691.94L487.24 690.72L486.54 688.9L486.54 688.29L487.24 686.47L488.63 685.26L490.72 684.65L491.42 684.65L493.5 685.26L494.9 686.47L495.59 688.9L495.59 691.94L494.9 694.97L493.5 696.79L491.42 697.4L490.02 697.4L487.94 696.79L487.24 695.58M501.16 684.65L501.16 697.4M501.16 691.33L503.25 689.51L504.64 688.9L506.73 688.9L508.12 689.51L508.82 691.33L508.82 697.4M514.38 688.9L514.38 697.4M514.38 692.54L515.08 690.72L516.47 689.51L517.87 688.9L519.95 688.9M540.69 684.65L539.3 684.65L537.91 685.26L537.21 687.08L537.21 697.4M535.12 688.9L540 688.9M547.65 688.9L546.26 689.51L544.87 690.72L544.17 692.54L544.17 693.76L544.87 695.58L546.26 696.79L547.65 697.4L549.74 697.4L551.13 696.79L552.52 695.58L553.22 693.76L553.22 692.54L552.52 690.72L551.13 689.51L549.74 688.9L547.65 688.9M558.09 688.9L558.09 697.4M558.09 692.54L558.79 690.72L560.18 689.51L561.57 688.9L563.66 688.9M566.44 692.54L574.8 692.54L574.8 691.33L574.1 690.12L573.4 689.51L572.01 688.9L569.92 688.9L568.53 689.51L567.14 690.72L566.44 692.54L566.44 693.76L567.14 695.58L568.53 696.79L569.92 697.4L572.01 697.4L573.4 696.79L574.8 695.58M587.32 690.72L585.93 689.51L584.54 688.9L582.45 688.9L581.06 689.51L579.67 690.72L578.97 692.54L578.97 693.76L579.67 695.58L581.06 696.79L582.45 697.4L584.54 697.4L585.93 696.79L587.32 695.58M599.85 688.9L599.85 697.4M599.85 690.72L598.46 689.51L597.07 688.9L594.98 688.9L593.59 689.51L592.2 690.72L591.5 692.54L591.5 693.76L592.2 695.58L593.59 696.79L594.98 697.4L597.07 697.4L598.46 696.79L599.85 695.58M612.38 690.72L611.68 689.51L609.6 688.9L607.51 688.9L605.42 689.51L604.72 690.72L605.42 691.94L606.81 692.54L610.29 693.15L611.68 693.76L612.38 694.97L612.38 695.58L611.68 696.79L609.6 697.4L607.51 697.4L605.42 696.79L604.72 695.58M617.95 684.65L617.95 694.97L618.64 696.79L620.04 697.4L621.43 697.4M615.86 688.9L620.73 688.9M635.12 684.65L640.69 697.4M646.26 684.65L640.69 697.4M657.4 688.9L657.4 697.4M657.4 690.72L656 689.51L654.61 688.9L652.52 688.9L651.13 689.51L649.74 690.72L649.04 692.54L649.04 693.76L649.74 695.58L651.13 696.79L652.52 697.4L654.61 697.4L656 696.79L657.4 695.58M662.96 684.65L662.96 697.4M667.84 684.65L668.53 685.26L669.23 684.65L668.53 684.05L667.84 684.65M668.53 688.9L668.53 697.4M681.76 684.65L681.76 697.4M681.76 690.72L680.37 689.51L678.97 688.9L676.88 688.9L675.49 689.51L674.1 690.72L673.4 692.54L673.4 693.76L674.1 695.58L675.49 696.79L676.88 697.4L678.97 697.4L680.37 696.79L681.76 695.58M701.07 687.69L701.07 687.08L701.77 685.87L702.46 685.26L703.86 684.65L706.64 684.65L708.03 685.26L708.73 685.87L709.42 687.08L709.42 688.29L708.73 689.51L707.34 691.33L700.38 697.4L710.12 697.4M716.38 687.08L717.78 686.47L719.86 684.65L719.86 697.4M737.96 684.65L728.22 697.4M728.22 684.65L737.96 684.65M728.22 697.4L737.96 697.4M744.22 687.08L745.62 686.47L747.7 684.65L747.7 697.4M760.23 684.65L758.14 685.26L756.75 687.08L756.06 690.12L756.06 691.94L756.75 694.97L758.14 696.79L760.23 697.4L761.62 697.4L763.71 696.79L765.1 694.97L765.8 691.94L765.8 690.12L765.1 687.08L763.71 685.26L761.62 684.65L760.23 684.65M770.67 684.65L770.67 697.4M770.67 684.65L776.24 697.4M781.81 684.65L776.24 697.4M781.81 684.65L781.81 697.4M790.86 684.65L785.29 697.4M790.86 684.65L796.42 697.4M787.38 693.15L794.34 693.15M799.9 684.65L799.9 697.4M799.9 684.65L806.17 684.65L808.25 685.26L808.95 685.87L809.65 687.08L809.65 688.29L808.95 689.51L808.25 690.12L806.17 690.72L799.9 690.72M804.78 690.72L809.65 697.4M814.52 687.69L814.52 687.08L815.22 685.87L815.91 685.26L817.3 684.65L820.09 684.65L821.48 685.26L822.18 685.87L822.87 687.08L822.87 688.29L822.18 689.51L820.78 691.33L813.82 697.4L823.57 697.4M831.92 684.65L829.83 685.26L828.44 687.08L827.74 690.12L827.74 691.94L828.44 694.97L829.83 696.79L831.92 697.4L833.31 697.4L835.4 696.79L836.79 694.97L837.49 691.94L837.49 690.12L836.79 687.08L835.4 685.26L833.31 684.65L831.92 684.65M842.36 687.69L842.36 687.08L843.06 685.87L843.75 685.26L845.14 684.65L847.93 684.65L849.32 685.26L850.01 685.87L850.71 687.08L850.71 688.29L850.01 689.51L848.62 691.33L841.66 697.4L851.41 697.4M864.63 686.47L863.94 685.26L861.85 684.65L860.46 684.65L858.37 685.26L856.98 687.08L856.28 690.12L856.28 693.15L856.98 695.58L858.37 696.79L860.46 697.4L861.15 697.4L863.24 696.79L864.63 695.58L865.33 693.76L865.33 693.15L864.63 691.33L863.24 690.12L861.15 689.51L860.46 689.51L858.37 690.12L856.98 691.33L856.28 693.15" fill="none" stroke="#fa3c3c" stroke-width="1.25" stroke-linecap="round" stroke-linejoin="round"/>
<path d="M108.93 705.37L107.53 704.2L105.43 703.62L102.62 703.62L100.53 704.2L99.12 705.37L99.12 706.54L99.83 707.71L100.53 708.29L101.93 708.88L106.12 710.05L107.53 710.63L108.23 711.22L108.93 712.39L108.93 714.14L107.53 715.31L105.43 715.9L102.62 715.9L100.53 715.31L99.12 714.14M121.53 707.71L121.53 715.9M121.53 709.47L120.12 708.29L118.73 707.71L116.62 707.71L115.23 708.29L113.83 709.47L113.12 711.22L113.12 712.39L113.83 714.14L115.23 715.31L116.62 715.9L118.73 715.9L120.12 715.31L121.53 714.14M127.83 703.62L127.83 713.56L128.53 715.31L129.93 715.9L131.32 715.9M125.73 707.71L130.62 707.71M135.53 707.71L135.53 713.56L136.22 715.31L137.62 715.9L139.72 715.9L141.12 715.31L143.22 713.56M143.22 707.71L143.22 715.9M148.82 707.71L148.82 715.9M148.82 711.22L149.53 709.47L150.93 708.29L152.32 707.71L154.43 707.71M165.62 707.71L165.62 715.9M165.62 709.47L164.22 708.29L162.82 707.71L160.72 707.71L159.32 708.29L157.93 709.47L157.22 711.22L157.22 712.39L157.93 714.14L159.32 715.31L160.72 715.9L162.82 715.9L164.22 715.31L165.62 714.14M171.93 703.62L171.93 713.56L172.62 715.31L174.03 715.9L175.43 715.9M169.82 707.71L174.72 707.71M178.93 711.22L187.32 711.22L187.32 710.05L186.62 708.88L185.93 708.29L184.53 707.71L182.43 707.71L181.03 708.29L179.62 709.47L178.93 711.22L178.93 712.39L179.62 714.14L181.03 715.31L182.43 715.9L184.53 715.9L185.93 715.31L187.32 714.14M199.93 703.62L199.93 715.9M199.93 709.47L198.53 708.29L197.12 707.71L195.03 707.71L193.62 708.29L192.22 709.47L191.53 711.22L191.53 712.39L192.22 714.14L193.62 715.31L195.03 715.9L197.12 715.9L198.53 715.31L199.93 714.14M228.38 706.54L227.68 705.37L226.28 704.2L224.88 703.62L222.08 703.62L220.68 704.2L219.28 705.37L218.58 706.54L217.88 708.29L217.88 711.22L218.58 712.98L219.28 714.14L220.68 715.31L222.08 715.9L224.88 715.9L226.28 715.31L227.68 714.14L228.38 712.98M242.38 705.37L240.97 704.2L238.88 703.62L236.07 703.62L233.97 704.2L232.57 705.37L232.57 706.54L233.28 707.71L233.97 708.29L235.38 708.88L239.57 710.05L240.97 710.63L241.68 711.22L242.38 712.39L242.38 714.14L240.97 715.31L238.88 715.9L236.07 715.9L233.97 715.31L232.57 714.14M247.28 703.62L247.28 715.9M263.62 703.62L263.62 715.9M263.62 715.9L272.02 715.9M283.22 707.71L283.22 715.9M283.22 709.47L281.82 708.29L280.43 707.71L278.32 707.71L276.93 708.29L275.52 709.47L274.82 711.22L274.82 712.39L275.52 714.14L276.93 715.31L278.32 715.9L280.43 715.9L281.82 715.31L283.22 714.14M287.43 707.71L291.62 715.9M295.82 707.71L291.62 715.9L290.22 718.24L288.82 719.41L287.43 720L286.72 720M299.32 711.22L307.72 711.22L307.72 710.05L307.02 708.88L306.32 708.29L304.92 707.71L302.82 707.71L301.42 708.29L300.02 709.47L299.32 711.22L299.32 712.39L300.02 714.14L301.42 715.31L302.82 715.9L304.92 715.9L306.32 715.31L307.72 714.14M312.62 707.71L312.62 715.9M312.62 711.22L313.32 709.47L314.72 708.29L316.12 707.71L318.22 707.71M335.62 703.62L335.62 715.9M335.62 703.62L340.52 703.62L342.62 704.2L344.02 705.37L344.72 706.54L345.43 708.29L345.43 711.22L344.72 712.98L344.02 714.14L342.62 715.31L340.52 715.9L335.62 715.9M349.62 711.22L358.02 711.22L358.02 710.05L357.32 708.88L356.62 708.29L355.22 707.71L353.12 707.71L351.72 708.29L350.32 709.47L349.62 711.22L349.62 712.39L350.32 714.14L351.72 715.31L353.12 715.9L355.22 715.9L356.62 715.31L358.02 714.14M362.93 707.71L362.93 720M362.93 709.47L364.32 708.29L365.72 707.71L367.82 707.71L369.22 708.29L370.62 709.47L371.32 711.22L371.32 712.39L370.62 714.14L369.22 715.31L367.82 715.9L365.72 715.9L364.32 715.31L362.93 714.14M376.92 703.62L376.92 713.56L377.62 715.31L379.02 715.9L380.42 715.9M374.82 707.71L379.72 707.71M384.62 703.62L384.62 715.9M384.62 710.05L386.72 708.29L388.12 707.71L390.22 707.71L391.62 708.29L392.32 710.05L392.32 715.9M414.77 701.27L413.38 702.44L411.97 704.2L410.57 706.54L409.88 709.47L409.88 711.8L410.57 714.73L411.97 717.07L413.38 718.82L414.77 720M419.68 707.71L419.68 715.9M419.68 710.05L421.77 708.29L423.18 707.71L425.27 707.71L426.68 708.29L427.38 710.05L427.38 715.9M427.38 710.05L429.47 708.29L430.88 707.71L432.97 707.71L434.38 708.29L435.07 710.05L435.07 715.9M440.67 703.62L440.67 715.9M440.67 709.47L442.07 708.29L443.47 707.71L445.57 707.71L446.97 708.29L448.38 709.47L449.07 711.22L449.07 712.39L448.38 714.14L446.97 715.31L445.57 715.9L443.47 715.9L442.07 715.31L440.67 714.14M453.27 701.27L454.67 702.44L456.07 704.2L457.47 706.54L458.17 709.47L458.17 711.8L457.47 714.73L456.07 717.07L454.67 718.82L453.27 720" fill="none" stroke="#000" stroke-width="1.25" stroke-linecap="round" stroke-linejoin="round"/>
<path d="M546.12 706.54L545.42 705.37L544.02 704.2L542.62 703.62L539.82 703.62L538.42 704.2L537.02 705.37L536.32 706.54L535.62 708.29L535.62 711.22L536.32 712.98L537.02 714.14L538.42 715.31L539.82 715.9L542.62 715.9L544.02 715.31L545.42 714.14L546.12 712.98M554.52 703.62L548.92 715.9M554.52 703.62L560.12 715.9M551.02 711.8L558.02 711.8M563.62 703.62L563.62 715.9M563.62 703.62L569.92 703.62L572.02 704.2L572.73 704.78L573.42 705.95L573.42 707.71L572.73 708.88L572.02 709.47L569.92 710.05L563.62 710.05M578.32 703.62L578.32 715.9M578.32 703.62L587.42 703.62M578.32 709.47L583.92 709.47M578.32 715.9L587.42 715.9M608.53 701.27L607.12 702.44L605.73 704.2L604.33 706.54L603.62 709.47L603.62 711.8L604.33 714.73L605.73 717.07L607.12 718.82L608.53 720M619.03 703.62L619.03 712.98L618.33 714.73L617.62 715.31L616.23 715.9L614.83 715.9L613.43 715.31L612.73 714.73L612.03 712.98L612.03 711.8M635.83 701.27L623.23 720M640.03 703.62L640.03 715.9M647.03 707.71L640.03 713.56M642.83 711.22L647.73 715.9M659.62 707.71L659.62 717.07L658.93 718.82L658.23 719.41L656.83 720L654.73 720L653.33 719.41M659.62 709.47L658.23 708.29L656.83 707.71L654.73 707.71L653.33 708.29L651.93 709.47L651.23 711.22L651.23 712.39L651.93 714.14L653.33 715.31L654.73 715.9L656.83 715.9L658.23 715.31L659.62 714.14M664.53 701.27L665.93 702.44L667.33 704.2L668.73 706.54L669.43 709.47L669.43 711.8L668.73 714.73L667.33 717.07L665.93 718.82L664.53 720M691.12 705.95L692.52 705.37L694.62 703.62L694.62 715.9M706.52 703.62L704.42 704.2L703.72 705.37L703.72 706.54L704.42 707.71L705.82 708.29L708.62 708.88L710.72 709.47L712.12 710.63L712.82 711.8L712.82 713.56L712.12 714.73L711.42 715.31L709.32 715.9L706.52 715.9L704.42 715.31L703.72 714.73L703.02 713.56L703.02 711.8L703.72 710.63L705.12 709.47L707.22 708.88L710.02 708.29L711.42 707.71L712.12 706.54L712.12 705.37L711.42 704.2L709.32 703.62L706.52 703.62M721.22 703.62L719.12 704.2L717.72 705.95L717.02 708.88L717.02 710.63L717.72 713.56L719.12 715.31L721.22 715.9L722.62 715.9L724.72 715.31L726.12 713.56L726.82 710.63L726.82 708.88L726.12 705.95L724.72 704.2L722.62 703.62L721.22 703.62M729.62 710.63L742.22 710.63M749.22 703.62L747.12 704.2L745.72 705.95L745.02 708.88L745.02 710.63L745.72 713.56L747.12 715.31L749.22 715.9L750.62 715.9L752.72 715.31L754.12 713.56L754.82 710.63L754.82 708.88L754.12 705.95L752.72 704.2L750.62 703.62L749.22 703.62M759.72 707.71L759.72 715.9M759.72 710.05L761.82 708.29L763.22 707.71L765.32 707.71L766.72 708.29L767.42 710.05L767.42 715.9M767.42 710.05L769.52 708.29L770.92 707.71L773.02 707.71L774.42 708.29L775.12 710.05L775.12 715.9M780.72 703.62L780.72 715.9M780.72 709.47L782.12 708.29L783.52 707.71L785.62 707.71L787.02 708.29L788.42 709.47L789.12 711.22L789.12 712.39L788.42 714.14L787.02 715.31L785.62 715.9L783.52 715.9L782.12 715.31L780.72 714.14M816.27 707.71L816.27 715.9M816.27 709.47L814.88 708.29L813.48 707.71L811.38 707.71L809.98 708.29L808.57 709.47L807.88 711.22L807.88 712.39L808.57 714.14L809.98 715.31L811.38 715.9L813.48 715.9L814.88 715.31L816.27 714.14M821.88 703.62L821.88 715.9M821.88 709.47L823.27 708.29L824.67 707.71L826.77 707.71L828.17 708.29L829.57 709.47L830.27 711.22L830.27 712.39L829.57 714.14L828.17 715.31L826.77 715.9L824.67 715.9L823.27 715.31L821.88 714.14M837.98 707.71L836.57 708.29L835.17 709.47L834.48 711.22L834.48 712.39L835.17 714.14L836.57 715.31L837.98 715.9L840.07 715.9L841.48 715.31L842.88 714.14L843.57 712.39L843.57 711.22L842.88 709.47L841.48 708.29L840.07 707.71L837.98 707.71M847.07 707.71L851.27 715.9M855.48 707.71L851.27 715.9M858.98 711.22L867.38 711.22L867.38 710.05L866.67 708.88L865.98 708.29L864.57 707.71L862.48 707.71L861.07 708.29L859.67 709.47L858.98 711.22L858.98 712.39L859.67 714.14L861.07 715.31L862.48 715.9L864.57 715.9L865.98 715.31L867.38 714.14M892.02 707.71L892.02 717.07L891.32 718.82L890.62 719.41L889.23 720L887.12 720L885.73 719.41M892.02 709.47L890.62 708.29L889.23 707.71L887.12 707.71L885.73 708.29L884.32 709.47L883.62 711.22L883.62 712.39L884.32 714.14L885.73 715.31L887.12 715.9L889.23 715.9L890.62 715.31L892.02 714.14M897.62 707.71L897.62 715.9M897.62 711.22L898.32 709.47L899.73 708.29L901.12 707.71L903.23 707.71M909.52 707.71L908.12 708.29L906.73 709.47L906.02 711.22L906.02 712.39L906.73 714.14L908.12 715.31L909.52 715.9L911.62 715.9L913.02 715.31L914.42 714.14L915.12 712.39L915.12 711.22L914.42 709.47L913.02 708.29L911.62 707.71L909.52 707.71M920.02 707.71L920.02 713.56L920.73 715.31L922.12 715.9L924.23 715.9L925.62 715.31L927.73 713.56M927.73 707.71L927.73 715.9M933.32 707.71L933.32 715.9M933.32 710.05L935.42 708.29L936.82 707.71L938.92 707.71L940.32 708.29L941.02 710.05L941.02 715.9M954.32 703.62L954.32 715.9M954.32 709.47L952.92 708.29L951.52 707.71L949.42 707.71L948.02 708.29L946.62 709.47L945.92 711.22L945.92 712.39L946.62 714.14L948.02 715.31L949.42 715.9L951.52 715.9L952.92 715.31L954.32 714.14" fill="none" stroke="#000" stroke-width="1.25" stroke-linecap="round" stroke-linejoin="round"/>
<path d="M11.75 754.96L11.75 763.25M15.39 757.72L15.39 763.25M15.39 759.3L16.75 758.12L17.66 757.72L19.03 757.72L19.94 758.12L20.39 759.3L20.39 763.25M31.75 757.72L31.75 763.25M31.75 760.09L32.2 758.9L33.12 758.12L34.02 757.72L35.39 757.72M37.21 760.09L42.67 760.09L42.67 759.3L42.22 758.51L41.76 758.12L40.85 757.72L39.48 757.72L38.58 758.12L37.66 758.9L37.21 760.09L37.21 760.88L37.66 762.07L38.58 762.86L39.48 763.25L40.85 763.25L41.76 762.86L42.67 762.07M50.86 757.72L50.86 764.04L50.41 765.23L49.95 765.62L49.04 766.01L47.67 766.01L46.77 765.62M50.86 758.9L49.95 758.12L49.04 757.72L47.67 757.72L46.77 758.12L45.86 758.9L45.4 760.09L45.4 760.88L45.86 762.07L46.77 762.86L47.67 763.25L49.04 763.25L49.95 762.86L50.86 762.07M54.05 754.96L54.5 755.35L54.95 754.96L54.5 754.56L54.05 754.96M54.5 757.72L54.5 763.25M59.96 757.72L59.05 758.12L58.14 758.9L57.69 760.09L57.69 760.88L58.14 762.07L59.05 762.86L59.96 763.25L61.33 763.25L62.23 762.86L63.15 762.07L63.6 760.88L63.6 760.09L63.15 758.9L62.23 758.12L61.33 757.72L59.96 757.72M66.78 757.72L66.78 763.25M66.78 759.3L68.15 758.12L69.06 757.72L70.43 757.72L71.34 758.12L71.79 759.3L71.79 763.25M79.98 758.9L79.53 758.12L78.16 757.72L76.8 757.72L75.43 758.12L74.97 758.9L75.43 759.7L76.34 760.09L78.62 760.49L79.53 760.88L79.98 761.67L79.98 762.07L79.53 762.86L78.16 763.25L76.8 763.25L75.43 762.86L74.97 762.07M92.5 757.72L94.32 763.25M96.14 757.72L94.32 763.25M96.14 757.72L97.96 763.25M99.78 757.72L97.96 763.25M102.97 754.96L102.97 763.25M102.97 759.3L104.33 758.12L105.24 757.72L106.61 757.72L107.52 758.12L107.97 759.3L107.97 763.25M111.16 760.09L116.62 760.09L116.62 759.3L116.16 758.51L115.71 758.12L114.8 757.72L113.43 757.72L112.52 758.12L111.61 758.9L111.16 760.09L111.16 760.88L111.61 762.07L112.52 762.86L113.43 763.25L114.8 763.25L115.71 762.86L116.62 762.07M119.8 757.72L119.8 763.25M119.8 760.09L120.26 758.9L121.17 758.12L122.08 757.72L123.44 757.72M125.26 760.09L130.72 760.09L130.72 759.3L130.27 758.51L129.81 758.12L128.9 757.72L127.53 757.72L126.62 758.12L125.72 758.9L125.26 760.09L125.26 760.88L125.72 762.07L126.62 762.86L127.53 763.25L128.9 763.25L129.81 762.86L130.72 762.07M148.5 758.9L148.05 758.12L146.69 757.72L145.32 757.72L143.95 758.12L143.5 758.9L143.95 759.7L144.86 760.09L147.14 760.49L148.05 760.88L148.5 761.67L148.5 762.07L148.05 762.86L146.69 763.25L145.32 763.25L143.95 762.86L143.5 762.07M151.69 754.96L151.69 763.25M151.69 759.3L153.05 758.12L153.97 757.72L155.33 757.72L156.24 758.12L156.69 759.3L156.69 763.25M165.34 757.72L165.34 763.25M165.34 758.9L164.43 758.12L163.52 757.72L162.16 757.72L161.25 758.12L160.33 758.9L159.88 760.09L159.88 760.88L160.33 762.07L161.25 762.86L162.16 763.25L163.52 763.25L164.43 762.86L165.34 762.07M173.98 754.96L173.98 763.25M173.98 758.9L173.07 758.12L172.16 757.72L170.8 757.72L169.89 758.12L168.98 758.9L168.52 760.09L168.52 760.88L168.98 762.07L169.89 762.86L170.8 763.25L172.16 763.25L173.07 762.86L173.98 762.07M177.17 754.96L177.62 755.35L178.08 754.96L177.62 754.56L177.17 754.96M177.62 757.72L177.62 763.25M181.26 757.72L181.26 763.25M181.26 759.3L182.63 758.12L183.54 757.72L184.91 757.72L185.81 758.12L186.27 759.3L186.27 763.25M194.91 757.72L194.91 764.04L194.46 765.23L194 765.62L193.09 766.01L191.73 766.01L190.82 765.62M194.91 758.9L194 758.12L193.09 757.72L191.73 757.72L190.82 758.12L189.91 758.9L189.45 760.09L189.45 760.88L189.91 762.07L190.82 762.86L191.73 763.25L193.09 763.25L194 762.86L194.91 762.07M210.27 757.72L209.36 758.12L208.45 758.9L208 760.09L208 760.88L208.45 762.07L209.36 762.86L210.27 763.25L211.64 763.25L212.55 762.86L213.46 762.07L213.91 760.88L213.91 760.09L213.46 758.9L212.55 758.12L211.64 757.72L210.27 757.72M216.19 757.72L218.92 763.25M221.65 757.72L218.92 763.25M223.92 760.09L229.38 760.09L229.38 759.3L228.93 758.51L228.47 758.12L227.56 757.72L226.2 757.72L225.29 758.12L224.38 758.9L223.92 760.09L223.92 760.88L224.38 762.07L225.29 762.86L226.2 763.25L227.56 763.25L228.47 762.86L229.38 762.07M232.57 757.72L232.57 763.25M232.57 760.09L233.02 758.9L233.94 758.12L234.84 757.72L236.21 757.72M238.48 754.96L238.48 763.25M247.13 757.72L247.13 763.25M247.13 758.9L246.22 758.12L245.31 757.72L243.94 757.72L243.03 758.12L242.12 758.9L241.67 760.09L241.67 760.88L242.12 762.07L243.03 762.86L243.94 763.25L245.31 763.25L246.22 762.86L247.13 762.07M250.77 757.72L250.77 766.01M250.77 758.9L251.68 758.12L252.59 757.72L253.95 757.72L254.87 758.12L255.77 758.9L256.23 760.09L256.23 760.88L255.77 762.07L254.87 762.86L253.95 763.25L252.59 763.25L251.68 762.86L250.77 762.07M263.96 758.9L263.51 758.12L262.14 757.72L260.78 757.72L259.41 758.12L258.96 758.9L259.41 759.7L260.32 760.09L262.6 760.49L263.51 760.88L263.96 761.67L263.96 762.07L263.51 762.86L262.14 763.25L260.78 763.25L259.41 762.86L258.96 762.07M268.06 762.86L267.61 763.25L267.15 762.86L267.61 762.46L268.06 762.86L268.06 763.64L267.61 764.43L267.15 764.83M287.32 756.93L286.87 756.14L285.96 755.35L285.05 754.96L283.23 754.96L282.32 755.35L281.41 756.14L280.95 756.93L280.5 758.12L280.5 760.09L280.95 761.27L281.41 762.07L282.32 762.86L283.23 763.25L285.05 763.25L285.96 762.86L286.87 762.07L287.32 761.27M292.78 754.96L289.14 763.25M292.78 754.96L296.43 763.25M290.51 760.49L295.06 760.49M298.7 754.96L298.7 763.25M298.7 754.96L302.8 754.96L304.16 755.35L304.62 755.75L305.07 756.53L305.07 757.72L304.62 758.51L304.16 758.9L302.8 759.3L298.7 759.3M308.25 754.96L308.25 763.25M308.25 754.96L314.17 754.96M308.25 758.9L311.89 758.9M308.25 763.25L314.17 763.25M325.5 754.96L325.95 755.35L326.41 754.96L325.95 754.56L325.5 754.96M325.95 757.72L325.95 763.25M334.14 758.9L333.69 758.12L332.32 757.72L330.96 757.72L329.59 758.12L329.14 758.9L329.59 759.7L330.5 760.09L332.78 760.49L333.69 760.88L334.14 761.67L334.14 762.07L333.69 762.86L332.32 763.25L330.96 763.25L329.59 762.86L329.14 762.07M350.5 758.9L350.05 758.12L348.69 757.72L347.32 757.72L345.95 758.12L345.5 758.9L345.95 759.7L346.87 760.09L349.14 760.49L350.05 760.88L350.5 761.67L350.5 762.07L350.05 762.86L348.69 763.25L347.32 763.25L345.95 762.86L345.5 762.07M353.69 754.96L353.69 763.25M353.69 759.3L355.06 758.12L355.96 757.72L357.33 757.72L358.24 758.12L358.69 759.3L358.69 763.25M364.15 757.72L363.25 758.12L362.33 758.9L361.88 760.09L361.88 760.88L362.33 762.07L363.25 762.86L364.15 763.25L365.52 763.25L366.43 762.86L367.34 762.07L367.8 760.88L367.8 760.09L367.34 758.9L366.43 758.12L365.52 757.72L364.15 757.72M370.52 757.72L372.34 763.25M374.16 757.72L372.34 763.25M374.16 757.72L375.99 763.25M377.81 757.72L375.99 763.25M380.99 757.72L380.99 763.25M380.99 759.3L382.36 758.12L383.26 757.72L384.63 757.72L385.54 758.12L386 759.3L386 763.25M390.09 762.46L389.63 762.86L390.09 763.25L390.55 762.86L390.09 762.46" fill="none" stroke="#000" stroke-width="1.0" stroke-linecap="round" stroke-linejoin="round"/>
<path d="M786.1 755.99L786.1 764.6M786.1 758.45L787.85 756.61L789.01 755.99L790.76 755.99L791.92 756.61L792.51 758.45L792.51 764.6M792.51 758.45L794.25 756.61L795.42 755.99L797.17 755.99L798.33 756.61L798.91 758.45L798.91 764.6M805.9 755.99L804.74 756.61L803.57 757.84L802.99 759.68L802.99 760.91L803.57 762.75L804.74 763.99L805.9 764.6L807.65 764.6L808.82 763.99L809.98 762.75L810.56 760.91L810.56 759.68L809.98 757.84L808.82 756.61L807.65 755.99L805.9 755.99M814.06 759.68L821.05 759.68L821.05 758.45L820.47 757.22L819.88 756.61L818.72 755.99L816.97 755.99L815.81 756.61L814.64 757.84L814.06 759.68L814.06 760.91L814.64 762.75L815.81 763.99L816.97 764.6L818.72 764.6L819.88 763.99L821.05 762.75M825.71 763.37L825.13 763.99L825.71 764.6L826.29 763.99L825.71 763.37M830.95 755.99L830.95 764.6M830.95 758.45L832.7 756.61L833.87 755.99L835.61 755.99L836.78 756.61L837.36 758.45L837.36 764.6M837.36 758.45L839.11 756.61L840.27 755.99L842.02 755.99L843.18 756.61L843.77 758.45L843.77 764.6M847.85 759.68L854.84 759.68L854.84 758.45L854.25 757.22L853.67 756.61L852.5 755.99L850.76 755.99L849.59 756.61L848.43 757.84L847.85 759.68L847.85 760.91L848.43 762.75L849.59 763.99L850.76 764.6L852.5 764.6L853.67 763.99L854.84 762.75M859.5 751.69L859.5 762.14L860.08 763.99L861.24 764.6L862.41 764.6M857.75 755.99L861.83 755.99M866.49 763.37L865.9 763.99L866.49 764.6L867.07 763.99L866.49 763.37M875.22 751.69L874.06 751.69L872.89 752.3L872.31 754.14L872.31 764.6M870.56 755.99L874.64 755.99M884.54 757.84L883.96 756.61L882.21 755.99L880.47 755.99L878.72 756.61L878.13 757.84L878.72 759.07L879.88 759.68L882.79 760.3L883.96 760.91L884.54 762.14L884.54 762.75L883.96 763.99L882.21 764.6L880.47 764.6L878.72 763.99L878.13 762.75M888.62 755.99L888.62 762.14L889.2 763.99L890.37 764.6L892.12 764.6L893.28 763.99L895.03 762.14M895.03 755.99L895.03 764.6M900.27 763.37L899.69 763.99L900.27 764.6L900.85 763.99L900.27 763.37M904.93 759.68L911.92 759.68L911.92 758.45L911.34 757.22L910.75 756.61L909.59 755.99L907.84 755.99L906.68 756.61L905.51 757.84L904.93 759.68L904.93 760.91L905.51 762.75L906.68 763.99L907.84 764.6L909.59 764.6L910.75 763.99L911.92 762.75M922.4 751.69L922.4 764.6M922.4 757.84L921.24 756.61L920.08 755.99L918.33 755.99L917.16 756.61L916 757.84L915.41 759.68L915.41 760.91L916 762.75L917.16 763.99L918.33 764.6L920.08 764.6L921.24 763.99L922.4 762.75M927.07 755.99L927.07 762.14L927.65 763.99L928.81 764.6L930.56 764.6L931.73 763.99L933.47 762.14M933.47 755.99L933.47 764.6M947.45 749.23L936.97 768.9M950.95 751.69L950.95 764.6M950.95 757.84L952.11 756.61L953.28 755.99L955.02 755.99L956.19 756.61L957.36 757.84L957.94 759.68L957.94 760.91L957.36 762.75L956.19 763.99L955.02 764.6L953.28 764.6L952.11 763.99L950.95 762.75M968.42 755.99L968.42 764.6M968.42 757.84L967.26 756.61L966.09 755.99L964.35 755.99L963.18 756.61L962.01 757.84L961.43 759.68L961.43 760.91L962.01 762.75L963.18 763.99L964.35 764.6L966.09 764.6L967.26 763.99L968.42 762.75M973.08 755.99L973.08 764.6M973.08 758.45L974.83 756.61L976 755.99L977.74 755.99L978.91 756.61L979.49 758.45L979.49 764.6M990.56 751.69L990.56 764.6M990.56 757.84L989.39 756.61L988.23 755.99L986.48 755.99L985.32 756.61L984.15 757.84L983.57 759.68L983.57 760.91L984.15 762.75L985.32 763.99L986.48 764.6L988.23 764.6L989.39 763.99L990.56 762.75M994.63 751.69L995.22 752.3L995.8 751.69L995.22 751.07L994.63 751.69M995.22 755.99L995.22 764.6M999.88 755.99L999.88 764.6M999.88 758.45L1001.62 756.61L1002.79 755.99L1004.54 755.99L1005.7 756.61L1006.28 758.45L1006.28 764.6M1017.35 755.99L1017.35 765.83L1016.77 767.68L1016.19 768.29L1015.02 768.9L1013.27 768.9L1012.11 768.29M1017.35 757.84L1016.19 756.61L1015.02 755.99L1013.27 755.99L1012.11 756.61L1010.94 757.84L1010.36 759.68L1010.36 760.91L1010.94 762.75L1012.11 763.99L1013.27 764.6L1015.02 764.6L1016.19 763.99L1017.35 762.75" fill="none" stroke="#1e3cff" stroke-width="1.2" stroke-linecap="round" stroke-linejoin="round"/>
<path d="M33.2 731.0L94.6 725.3L94.6 736.7Z" fill="#fff" stroke="#000" stroke-width="1.5" stroke-linejoin="round"/>
<path d="M525.3 731.0L462.7 725.3L462.7 736.7Z" fill="#000" stroke="#000" stroke-width="1.5" stroke-linejoin="round"/>
<rect x="94.6" y="725.3" width="61.3" height="11.4" fill="#00dc00" stroke="#000" stroke-width="1.5"/>
<rect x="155.9" y="725.3" width="61.4" height="11.4" fill="#00d28c" stroke="#000" stroke-width="1.5"/>
<rect x="217.3" y="725.3" width="61.3" height="11.4" fill="#00c8c8" stroke="#000" stroke-width="1.5"/>
<rect x="278.6" y="725.3" width="61.4" height="11.4" fill="#00a0ff" stroke="#000" stroke-width="1.5"/>
<rect x="340" y="725.3" width="61.4" height="11.4" fill="#1e3cff" stroke="#000" stroke-width="1.5"/>
<rect x="401.4" y="725.3" width="61.3" height="11.4" fill="#8200dc" stroke="#000" stroke-width="1.5"/>
<path d="M86.83 741.27L87.51 740.93L88.53 739.9L88.53 747.1M94.65 739.9L93.63 740.24L92.95 741.27L92.61 742.98L92.61 744.01L92.95 745.73L93.63 746.76L94.65 747.1L95.33 747.1L96.35 746.76L97.03 745.73L97.37 744.01L97.37 742.98L97.03 741.27L96.35 740.24L95.33 739.9L94.65 739.9M101.45 739.9L100.43 740.24L99.75 741.27L99.41 742.98L99.41 744.01L99.75 745.73L100.43 746.76L101.45 747.1L102.13 747.1L103.15 746.76L103.83 745.73L104.17 744.01L104.17 742.98L103.83 741.27L103.15 740.24L102.13 739.9L101.45 739.9M148.18 741.27L148.86 740.93L149.88 739.9L149.88 747.1M158.04 739.9L154.64 739.9L154.3 742.98L154.64 742.64L155.66 742.3L156.68 742.3L157.7 742.64L158.38 743.33L158.72 744.36L158.72 745.04L158.38 746.07L157.7 746.76L156.68 747.1L155.66 747.1L154.64 746.76L154.3 746.41L153.96 745.73M162.8 739.9L161.78 740.24L161.1 741.27L160.76 742.98L160.76 744.01L161.1 745.73L161.78 746.76L162.8 747.1L163.48 747.1L164.5 746.76L165.18 745.73L165.52 744.01L165.52 742.98L165.18 741.27L164.5 740.24L163.48 739.9L162.8 739.9M209.36 741.61L209.36 741.27L209.7 740.58L210.04 740.24L210.72 739.9L212.08 739.9L212.76 740.24L213.1 740.58L213.44 741.27L213.44 741.96L213.1 742.64L212.42 743.67L209.02 747.1L213.78 747.1M217.86 739.9L216.84 740.24L216.16 741.27L215.82 742.98L215.82 744.01L216.16 745.73L216.84 746.76L217.86 747.1L218.54 747.1L219.56 746.76L220.24 745.73L220.58 744.01L220.58 742.98L220.24 741.27L219.56 740.24L218.54 739.9L217.86 739.9M224.66 739.9L223.64 740.24L222.96 741.27L222.62 742.98L222.62 744.01L222.96 745.73L223.64 746.76L224.66 747.1L225.34 747.1L226.36 746.76L227.04 745.73L227.38 744.01L227.38 742.98L227.04 741.27L226.36 740.24L225.34 739.9L224.66 739.9M271.05 739.9L274.79 739.9L272.75 742.64L273.77 742.64L274.45 742.98L274.79 743.33L275.13 744.36L275.13 745.04L274.79 746.07L274.11 746.76L273.09 747.1L272.07 747.1L271.05 746.76L270.71 746.41L270.37 745.73M279.21 739.9L278.19 740.24L277.51 741.27L277.17 742.98L277.17 744.01L277.51 745.73L278.19 746.76L279.21 747.1L279.89 747.1L280.91 746.76L281.59 745.73L281.93 744.01L281.93 742.98L281.59 741.27L280.91 740.24L279.89 739.9L279.21 739.9M286.01 739.9L284.99 740.24L284.31 741.27L283.97 742.98L283.97 744.01L284.31 745.73L284.99 746.76L286.01 747.1L286.69 747.1L287.71 746.76L288.39 745.73L288.73 744.01L288.73 742.98L288.39 741.27L287.71 740.24L286.69 739.9L286.01 739.9M335.12 739.9L331.72 744.7L336.82 744.7M335.12 739.9L335.12 747.1M340.56 739.9L339.54 740.24L338.86 741.27L338.52 742.98L338.52 744.01L338.86 745.73L339.54 746.76L340.56 747.1L341.24 747.1L342.26 746.76L342.94 745.73L343.28 744.01L343.28 742.98L342.94 741.27L342.26 740.24L341.24 739.9L340.56 739.9M347.36 739.9L346.34 740.24L345.66 741.27L345.32 742.98L345.32 744.01L345.66 745.73L346.34 746.76L347.36 747.1L348.04 747.1L349.06 746.76L349.74 745.73L350.08 744.01L350.08 742.98L349.74 741.27L349.06 740.24L348.04 739.9L347.36 739.9M397.15 739.9L393.75 739.9L393.41 742.98L393.75 742.64L394.77 742.3L395.79 742.3L396.81 742.64L397.49 743.33L397.83 744.36L397.83 745.04L397.49 746.07L396.81 746.76L395.79 747.1L394.77 747.1L393.75 746.76L393.41 746.41L393.07 745.73M401.91 739.9L400.89 740.24L400.21 741.27L399.87 742.98L399.87 744.01L400.21 745.73L400.89 746.76L401.91 747.1L402.59 747.1L403.61 746.76L404.29 745.73L404.63 744.01L404.63 742.98L404.29 741.27L403.61 740.24L402.59 739.9L401.91 739.9M408.71 739.9L407.69 740.24L407.01 741.27L406.67 742.98L406.67 744.01L407.01 745.73L407.69 746.76L408.71 747.1L409.39 747.1L410.41 746.76L411.09 745.73L411.43 744.01L411.43 742.98L411.09 741.27L410.41 740.24L409.39 739.9L408.71 739.9M458.67 740.93L458.33 740.24L457.31 739.9L456.63 739.9L455.61 740.24L454.93 741.27L454.59 742.98L454.59 744.7L454.93 746.07L455.61 746.76L456.63 747.1L456.97 747.1L457.99 746.76L458.67 746.07L459.01 745.04L459.01 744.7L458.67 743.67L457.99 742.98L456.97 742.64L456.63 742.64L455.61 742.98L454.93 743.67L454.59 744.7M463.09 739.9L462.07 740.24L461.39 741.27L461.05 742.98L461.05 744.01L461.39 745.73L462.07 746.76L463.09 747.1L463.77 747.1L464.79 746.76L465.47 745.73L465.81 744.01L465.81 742.98L465.47 741.27L464.79 740.24L463.77 739.9L463.09 739.9M469.89 739.9L468.87 740.24L468.19 741.27L467.85 742.98L467.85 744.01L468.19 745.73L468.87 746.76L469.89 747.1L470.57 747.1L471.59 746.76L472.27 745.73L472.61 744.01L472.61 742.98L472.27 741.27L471.59 740.24L470.57 739.9L469.89 739.9" fill="none" stroke="#000" stroke-width="1.2" stroke-linecap="round" stroke-linejoin="round"/>
<path d="M567.4 731.0L641.75 725.3L641.75 736.7Z" fill="#fff" stroke="#000" stroke-width="1.5" stroke-linejoin="round"/>
<path d="M1014.7 731.0L939.5 725.3L939.5 736.7Z" fill="#f00082" stroke="#000" stroke-width="1.5" stroke-linejoin="round"/>
<rect x="641.8" y="725.3" width="74.5" height="11.4" fill="#e6dc32" stroke="#000" stroke-width="1.5"/>
<rect x="716.2" y="725.3" width="74.4" height="11.4" fill="#e6af2d" stroke="#000" stroke-width="1.5"/>
<rect x="790.6" y="725.3" width="74.5" height="11.4" fill="#f08228" stroke="#000" stroke-width="1.5"/>
<rect x="865.1" y="725.3" width="74.4" height="11.4" fill="#fa3c3c" stroke="#000" stroke-width="1.5"/>
<path d="M640.55 739.9L637.15 739.9L636.81 742.98L637.15 742.64L638.17 742.3L639.19 742.3L640.21 742.64L640.89 743.33L641.23 744.36L641.23 745.04L640.89 746.07L640.21 746.76L639.19 747.1L638.17 747.1L637.15 746.76L636.81 746.41L636.47 745.73M645.31 739.9L644.29 740.24L643.61 741.27L643.27 742.98L643.27 744.01L643.61 745.73L644.29 746.76L645.31 747.1L645.99 747.1L647.01 746.76L647.69 745.73L648.03 744.01L648.03 742.98L647.69 741.27L647.01 740.24L645.99 739.9L645.31 739.9M708.03 741.27L708.71 740.93L709.73 739.9L709.73 747.1M715.85 739.9L714.83 740.24L714.15 741.27L713.81 742.98L713.81 744.01L714.15 745.73L714.83 746.76L715.85 747.1L716.53 747.1L717.55 746.76L718.23 745.73L718.57 744.01L718.57 742.98L718.23 741.27L717.55 740.24L716.53 739.9L715.85 739.9M722.65 739.9L721.63 740.24L720.95 741.27L720.61 742.98L720.61 744.01L720.95 745.73L721.63 746.76L722.65 747.1L723.33 747.1L724.35 746.76L725.03 745.73L725.37 744.01L725.37 742.98L725.03 741.27L724.35 740.24L723.33 739.9L722.65 739.9M782.26 741.61L782.26 741.27L782.6 740.58L782.94 740.24L783.62 739.9L784.98 739.9L785.66 740.24L786 740.58L786.34 741.27L786.34 741.96L786 742.64L785.32 743.67L781.92 747.1L786.68 747.1M792.8 739.9L789.4 739.9L789.06 742.98L789.4 742.64L790.42 742.3L791.44 742.3L792.46 742.64L793.14 743.33L793.48 744.36L793.48 745.04L793.14 746.07L792.46 746.76L791.44 747.1L790.42 747.1L789.4 746.76L789.06 746.41L788.72 745.73M797.56 739.9L796.54 740.24L795.86 741.27L795.52 742.98L795.52 744.01L795.86 745.73L796.54 746.76L797.56 747.1L798.24 747.1L799.26 746.76L799.94 745.73L800.28 744.01L800.28 742.98L799.94 741.27L799.26 740.24L798.24 739.9L797.56 739.9M860.5 739.9L857.1 739.9L856.76 742.98L857.1 742.64L858.12 742.3L859.14 742.3L860.16 742.64L860.84 743.33L861.18 744.36L861.18 745.04L860.84 746.07L860.16 746.76L859.14 747.1L858.12 747.1L857.1 746.76L856.76 746.41L856.42 745.73M865.26 739.9L864.24 740.24L863.56 741.27L863.22 742.98L863.22 744.01L863.56 745.73L864.24 746.76L865.26 747.1L865.94 747.1L866.96 746.76L867.64 745.73L867.98 744.01L867.98 742.98L867.64 741.27L866.96 740.24L865.94 739.9L865.26 739.9M872.06 739.9L871.04 740.24L870.36 741.27L870.02 742.98L870.02 744.01L870.36 745.73L871.04 746.76L872.06 747.1L872.74 747.1L873.76 746.76L874.44 745.73L874.78 744.01L874.78 742.98L874.44 741.27L873.76 740.24L872.74 739.9L872.06 739.9M928.63 741.27L929.31 740.93L930.33 739.9L930.33 747.1M936.45 739.9L935.43 740.24L934.75 741.27L934.41 742.98L934.41 744.01L934.75 745.73L935.43 746.76L936.45 747.1L937.13 747.1L938.15 746.76L938.83 745.73L939.17 744.01L939.17 742.98L938.83 741.27L938.15 740.24L937.13 739.9L936.45 739.9M943.25 739.9L942.23 740.24L941.55 741.27L941.21 742.98L941.21 744.01L941.55 745.73L942.23 746.76L943.25 747.1L943.93 747.1L944.95 746.76L945.63 745.73L945.97 744.01L945.97 742.98L945.63 741.27L944.95 740.24L943.93 739.9L943.25 739.9M950.05 739.9L949.03 740.24L948.35 741.27L948.01 742.98L948.01 744.01L948.35 745.73L949.03 746.76L950.05 747.1L950.73 747.1L951.75 746.76L952.43 745.73L952.77 744.01L952.77 742.98L952.43 741.27L951.75 740.24L950.73 739.9L950.05 739.9" fill="none" stroke="#000" stroke-width="1.2" stroke-linecap="round" stroke-linejoin="round"/>
</svg>
</body></html>
